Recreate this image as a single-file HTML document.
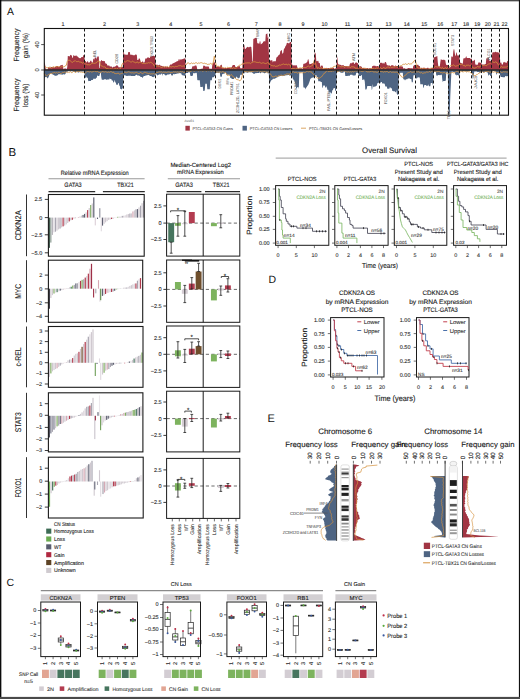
<!DOCTYPE html>
<html><head><meta charset="utf-8"><title>Figure</title>
<style>
html,body{margin:0;padding:0;background:#fff;width:520px;height:699px;overflow:hidden;}
svg{display:block;font-family:"Liberation Sans",sans-serif;text-rendering:geometricPrecision;}
</style></head><body>
<svg width="520" height="699" viewBox="0 0 520 699">
<rect width="520" height="699" fill="#fff"/>
<polygon points="44.3,70 44.3,62.31 44.8,62.81 45.3,65.97 45.8,68.93 46.3,69.49 46.8,69.49 47.3,69.49 47.8,69.04 48.3,67.24 48.8,67.24 49.3,66.96 49.8,68.22 50.3,68.22 50.8,67.06 51.3,67.06 51.8,67.06 52.3,66.96 52.8,66.8 53.3,67.07 53.8,67.55 54.3,67.38 54.8,67.21 55.3,67.1 55.8,67.01 56.3,65.96 56.8,66.19 57.3,66.1 57.8,66.07 58.3,66.8 58.8,66.68 59.3,66.57 59.8,66.45 60.3,65.51 60.8,65.35 61.3,65.18 61.8,65.02 62.3,64.86 62.8,65.17 63.3,68.49 63.8,69.62 64.3,68.46 64.8,68.46 65.3,68.46 65.8,68.46 66.3,68.46 66.8,69.73 67.3,66.68 67.8,56.01 68.3,56.11 68.8,56.22 69.3,56.32 69.8,56.42 70.3,54.69 70.8,54.93 71.3,55.18 71.8,55.43 72.3,57.78 72.8,58.01 73.3,55.49 73.8,55.09 74.3,56.04 74.8,55.69 75.3,55.65 75.8,55.8 76.3,55.15 76.8,56.29 77.3,56.45 77.8,56.6 78.3,57.35 78.8,57.75 79.3,57.98 79.8,58.2 80.3,58.16 80.8,57.93 81.3,57.16 81.8,56.91 82.3,56.93 82.8,57.22 83.3,54.95 83.8,55.3 84.3,55.65 84.8,61.12 85.3,61.12 85.8,61.25 86.3,62.7 86.8,62.09 87.3,61.17 87.8,61.17 88.3,63.17 88.8,61.67 89.3,62.14 89.8,62.67 90.3,60.78 90.8,60.78 91.3,60.78 91.8,62.44 92.3,62.44 92.8,62.44 93.3,58.68 93.8,58.68 94.3,59.64 94.8,57.44 95.3,57.44 95.8,57.44 96.3,57.44 96.8,59.41 97.3,56.6 97.8,56.6 98.3,56.6 98.8,56.6 99.3,68.06 99.8,68.06 100.3,61.2 100.8,61.36 101.3,60.09 101.8,60.26 102.3,60.94 102.8,61.11 103.3,61.31 103.8,60.86 104.3,61.04 104.8,61.23 105.3,63.31 105.8,63.47 106.3,63.64 106.8,63.81 107.3,65.51 107.8,65.51 108.3,65.51 108.8,65.51 109.3,65.51 109.8,66.4 110.3,66.4 110.8,66.4 111.3,66.4 111.8,66.4 112.3,67.71 112.8,67.16 113.3,66.68 113.8,66.68 114.3,66.68 114.8,66.75 115.3,66.34 115.8,66.34 116.3,65.86 116.8,65.05 117.3,65.21 117.8,66.1 118.3,66.48 118.8,67.43 119.3,67.13 119.8,67.18 120.3,67.23 120.8,67.28 121.3,67.33 121.8,66.84 122.3,66.85 122.8,67.14 123.3,51.74 123.8,51.74 124.3,54.58 124.8,54.58 125.3,54.58 125.8,54.75 126.3,54.75 126.8,54.75 127.3,54.75 127.8,54.75 128.3,52.1 128.8,52.1 129.3,52.1 129.8,52.1 130.3,54.76 130.8,54.76 131.3,54.76 131.8,54.76 132.3,54.76 132.8,55.34 133.3,55.34 133.8,55.34 134.3,55.34 134.8,55.34 135.3,54.4 135.8,54.4 136.3,54.68 136.8,54.68 137.3,60.1 137.8,60.1 138.3,60.1 138.8,58.49 139.3,58.49 139.8,58.49 140.3,60.15 140.8,61.99 141.3,61.99 141.8,61.99 142.3,61.99 142.8,60.39 143.3,62.56 143.8,62.56 144.3,62.56 144.8,61.5 145.3,58.5 145.8,58.5 146.3,58.5 146.8,58.5 147.3,57.57 147.8,57.57 148.3,57.57 148.8,57.57 149.3,58.1 149.8,58.1 150.3,56.45 150.8,56.45 151.3,56.45 151.8,56.02 152.3,56.02 152.8,55.79 153.3,55.79 153.8,55.79 154.3,56.09 154.8,56.09 155.3,59.51 155.8,64.63 156.3,64.68 156.8,64.73 157.3,64.57 157.8,65.2 158.3,65.25 158.8,65.31 159.3,64.66 159.8,64.71 160.3,65.61 160.8,65.74 161.3,65.87 161.8,66 162.3,66.14 162.8,66.27 163.3,66.42 163.8,66.57 164.3,66.72 164.8,66.45 165.3,66.48 165.8,66.43 166.3,66.38 166.8,66.64 167.3,66.59 167.8,66.97 168.3,66.93 168.8,66.88 169.3,66.83 169.8,65.09 170.3,64.8 170.8,64.35 171.3,64.68 171.8,64.25 172.3,63.81 172.8,63.46 173.3,63.03 173.8,63.15 174.3,62.79 174.8,62.43 175.3,62.18 175.8,62 176.3,61.62 176.8,61.42 177.3,61.23 177.8,61.04 178.3,60.85 178.8,59.04 179.3,58.95 179.8,60.85 180.3,59.02 180.8,59.63 181.3,59.49 181.8,59.34 182.3,59.2 182.8,59.06 183.3,58.78 183.8,58.63 184.3,58.47 184.8,58.32 185.3,58.17 185.8,69.36 186.3,69.36 186.8,69.36 187.3,69.36 187.8,69.59 188.3,69.59 188.8,69.59 189.3,69.59 189.8,69.01 190.3,69.01 190.8,69.01 191.3,69.01 191.8,68.61 192.3,66.51 192.8,66.37 193.3,66.37 193.8,66.37 194.3,66.37 194.8,65.52 195.3,65.52 195.8,65.52 196.3,65.52 196.8,66.68 197.3,69.68 197.8,69.68 198.3,69.68 198.8,69.56 199.3,69.52 199.8,69.52 200.3,69.52 200.8,68.78 201.3,68.78 201.8,68.78 202.3,68.78 202.8,68.55 203.3,65.42 203.8,65.74 204.3,65.74 204.8,65.74 205.3,66.44 205.8,66.44 206.3,66.44 206.8,66.38 207.3,66.38 207.8,66.47 208.3,67.02 208.8,66.06 209.3,68.7 209.8,68.8 210.3,68.8 210.8,68.8 211.3,68.7 211.8,69 212.3,65.11 212.8,64.01 213.3,62.9 213.8,61.8 214.3,61.82 214.8,62.72 215.3,64.55 215.8,66.3 216.3,66.45 216.8,66.48 217.3,66.48 217.8,66.48 218.3,66.48 218.8,66.48 219.3,67.02 219.8,67.02 220.3,65.24 220.8,65.24 221.3,65.24 221.8,64.2 222.3,67.79 222.8,67.79 223.3,67.79 223.8,67.79 224.3,67.79 224.8,68.02 225.3,68.02 225.8,68.02 226.3,68.02 226.8,68.02 227.3,68.1 227.8,68.1 228.3,68.1 228.8,68.1 229.3,68.1 229.8,67.3 230.3,67.3 230.8,67.8 231.3,67.48 231.8,67.08 232.3,66.04 232.8,64.95 233.3,64.95 233.8,64.99 234.3,64.99 234.8,64.99 235.3,66.78 235.8,67.09 236.3,67.09 236.8,67.09 237.3,66.85 237.8,66.15 238.3,66.15 238.8,66.15 239.3,66.15 239.8,65.95 240.3,68.15 240.8,68.15 241.3,68.16 241.8,68.16 242.3,68.16 242.8,57.68 243.3,46.61 243.8,46.35 244.3,44.57 244.8,48.64 245.3,48.69 245.8,48.92 246.3,47.49 246.8,47.74 247.3,46.81 247.8,47.07 248.3,47.22 248.8,47.29 249.3,47.36 249.8,46.69 250.3,46.77 250.8,46.85 251.3,46.93 251.8,52.36 252.3,61.53 252.8,61.53 253.3,38.89 253.8,38.77 254.3,38.65 254.8,38.1 255.3,37.98 255.8,37.87 256.3,37.91 256.8,38.05 257.3,43.22 257.8,43.35 258.3,43.47 258.8,43.6 259.3,43.72 259.8,41.36 260.3,41.19 260.8,44.38 261.3,44.05 261.8,43.71 262.3,43.31 262.8,42.87 263.3,41.75 263.8,41.3 264.3,41.19 264.8,41.3 265.3,41.41 265.8,34.14 266.3,33.99 266.8,33.66 267.3,33.31 267.8,38.35 268.3,36.49 268.8,51.78 269.3,62.03 269.8,62.01 270.3,60.38 270.8,60.35 271.3,60.28 271.8,60.25 272.3,60.22 272.8,62.47 273.3,61.37 273.8,61.37 274.3,61.37 274.8,61.37 275.3,61.35 275.8,61.35 276.3,57.68 276.8,57.25 277.3,56.83 277.8,56.41 278.3,55.54 278.8,55.09 279.3,54.64 279.8,54.19 280.3,51.14 280.8,50.74 281.3,50.35 281.8,49.96 282.3,53.81 282.8,53.49 283.3,52.86 283.8,49.45 284.3,48.5 284.8,48.1 285.3,46.58 285.8,45.77 286.3,44.96 286.8,43.03 287.3,42.8 287.8,42.99 288.3,43.17 288.8,43.36 289.3,43.18 289.8,42.26 290.3,41.96 290.8,42.08 291.3,42.19 291.8,64.59 292.3,64.51 292.8,65.5 293.3,65.42 293.8,65.34 294.3,65.26 294.8,65.6 295.3,65.56 295.8,65.21 296.3,65.18 296.8,65.16 297.3,67.16 297.8,68.5 298.3,68.99 298.8,68.03 299.3,68.03 299.8,68.56 300.3,68.34 300.8,68.34 301.3,68.34 301.8,68.34 302.3,68.77 302.8,68.77 303.3,63.88 303.8,63.78 304.3,63.68 304.8,63.43 305.3,63.33 305.8,63.22 306.3,62.85 306.8,62.29 307.3,61.73 307.8,59.69 308.3,59.08 308.8,61.03 309.3,63.93 309.8,64.16 310.3,64.02 310.8,63.88 311.3,63.75 311.8,63.61 312.3,63.27 312.8,63.27 313.3,63.27 313.8,63.27 314.3,60.13 314.8,51.87 315.3,52.88 315.8,53.89 316.3,61.02 316.8,61.18 317.3,61.18 317.8,60.8 318.3,60.8 318.8,62.93 319.3,62.93 319.8,62.93 320.3,66.63 320.8,66.63 321.3,65.58 321.8,65.58 322.3,65.58 322.8,66.17 323.3,68.69 323.8,68.69 324.3,68.3 324.8,68.3 325.3,68.3 325.8,67.95 326.3,67.95 326.8,67.95 327.3,68.55 327.8,67.96 328.3,67.96 328.8,67.96 329.3,68.25 329.8,68.25 330.3,67.43 330.8,67.94 331.3,67.94 331.8,67.94 332.3,67.73 332.8,67.73 333.3,67.73 333.8,67.73 334.3,68.81 334.8,68.81 335.3,68.81 335.8,68 336.3,66.85 336.8,60.45 337.3,55.96 337.8,62.41 338.3,64.31 338.8,64.47 339.3,64.55 339.8,64.63 340.3,64.73 340.8,65.1 341.3,65.52 341.8,65.14 342.3,65.29 342.8,65.29 343.3,65.29 343.8,65.29 344.3,66.21 344.8,65.97 345.3,65.97 345.8,65.97 346.3,65.97 346.8,65.97 347.3,66.18 347.8,66.18 348.3,66.18 348.8,66.18 349.3,66.18 349.8,64.21 350.3,62.72 350.8,63.62 351.3,63.5 351.8,62.76 352.3,62.64 352.8,62.53 353.3,62.41 353.8,62.29 354.3,64 354.8,63.9 355.3,62.6 355.8,62.69 356.3,62.07 356.8,62.9 357.3,63.03 357.8,63.16 358.3,64.07 358.8,67.45 359.3,66.3 359.8,66.3 360.3,66.3 360.8,66.3 361.3,66.78 361.8,66.78 362.3,67.96 362.8,67.96 363.3,67.96 363.8,67.96 364.3,68.14 364.8,68.29 365.3,68.29 365.8,68.29 366.3,68.29 366.8,68.29 367.3,68.06 367.8,68.06 368.3,69.12 368.8,68.13 369.3,68.13 369.8,68.13 370.3,68.13 370.8,68.13 371.3,68.48 371.8,68.52 372.3,65.96 372.8,65.96 373.3,65.87 373.8,65.87 374.3,65.87 374.8,65.87 375.3,65.87 375.8,66.32 376.3,66.32 376.8,66.32 377.3,66.04 377.8,66.04 378.3,66.5 378.8,66.5 379.3,64.96 379.8,63.43 380.3,62.86 380.8,62.86 381.3,62.86 381.8,62.86 382.3,63.66 382.8,62.7 383.3,62.7 383.8,63.71 384.3,63.71 384.8,62.3 385.3,62.05 385.8,62.06 386.3,63.05 386.8,64.96 387.3,64.96 387.8,65.47 388.3,65.47 388.8,65.47 389.3,65.47 389.8,65.47 390.3,65.9 390.8,65.9 391.3,65.14 391.8,65.14 392.3,65.14 392.8,65.14 393.3,65.14 393.8,66.24 394.3,66.24 394.8,66.24 395.3,65.43 395.8,65.43 396.3,66.06 396.8,66.06 397.3,66.06 397.8,66.06 398.3,66.06 398.8,66.65 399.3,66.65 399.8,66.26 400.3,66.26 400.8,66.26 401.3,66.26 401.8,66.56 402.3,66.56 402.8,66.56 403.3,68.79 403.8,68.24 404.3,68.24 404.8,68.24 405.3,68.85 405.8,68.85 406.3,68.85 406.8,68.85 407.3,68.85 407.8,68.07 408.3,68.07 408.8,68.07 409.3,68.07 409.8,68.27 410.3,68.27 410.8,68.27 411.3,68.26 411.8,68.26 412.3,68.26 412.8,68.77 413.3,65.76 413.8,65.76 414.3,64.9 414.8,64.9 415.3,64.9 415.8,64.9 416.3,64.9 416.8,64.97 417.3,64.78 417.8,64.78 418.3,64.78 418.8,66.08 419.3,66.08 419.8,66.08 420.3,68.52 420.8,68.52 421.3,67.77 421.8,67.77 422.3,67.77 422.8,68.68 423.3,67.79 423.8,67.79 424.3,67.79 424.8,67.79 425.3,68.13 425.8,68.13 426.3,68.13 426.8,68.13 427.3,67.8 427.8,67.8 428.3,67.8 428.8,68.54 429.3,68.54 429.8,68.54 430.3,68.54 430.8,68.54 431.3,68.07 431.8,68.07 432.3,68.07 432.8,68.07 433.3,65.09 433.8,57.21 434.3,57.21 434.8,57.21 435.3,56.72 435.8,56.72 436.3,56.72 436.8,56.01 437.3,56.01 437.8,62.13 438.3,66.12 438.8,66.6 439.3,66.44 439.8,66.28 440.3,62.52 440.8,59.14 441.3,59.14 441.8,60.11 442.3,60.11 442.8,59.79 443.3,59.79 443.8,59.79 444.3,59.86 444.8,60.36 445.3,60.36 445.8,63.55 446.3,64.94 446.8,64.94 447.3,64.94 447.8,64.94 448.3,66.07 448.8,67.89 449.3,67.52 449.8,67.23 450.3,66.95 450.8,67.26 451.3,56.47 451.8,56.47 452.3,56.47 452.8,57.58 453.3,51.26 453.8,49.02 454.3,49.49 454.8,53.15 455.3,55.77 455.8,55.77 456.3,52.58 456.8,52.58 457.3,55.49 457.8,55.49 458.3,55.49 458.8,55.49 459.3,54.84 459.8,61.01 460.3,63.06 460.8,62.74 461.3,63.19 461.8,63.19 462.3,63.19 462.8,64.29 463.3,58.7 463.8,58.34 464.3,58.34 464.8,58.34 465.3,58.34 465.8,57.11 466.3,55.96 466.8,57.94 467.3,57.94 467.8,57.94 468.3,58.08 468.8,58.08 469.3,58.08 469.8,58.08 470.3,58.86 470.8,58.86 471.3,58.41 471.8,59.17 472.3,60.77 472.8,61.18 473.3,60.7 473.8,60.7 474.3,59.83 474.8,59.83 475.3,64.61 475.8,64.61 476.3,64.67 476.8,64.67 477.3,64.6 477.8,65.09 478.3,62.54 478.8,62.54 479.3,62.54 479.8,62.54 480.3,62.6 480.8,63.08 481.3,63.08 481.8,64.53 482.3,64.53 482.8,64.47 483.3,64.47 483.8,64.47 484.3,64.47 484.8,64.47 485.3,64.03 485.8,64.03 486.3,58.4 486.8,58.37 487.3,58.37 487.8,58.37 488.3,58.37 488.8,57.42 489.3,60.79 489.8,60.79 490.3,60.79 490.8,60.79 491.3,62.07 491.8,59.89 492.3,52.6 492.8,52.6 493.3,52.15 493.8,52.15 494.3,52.15 494.8,52.15 495.3,51.74 495.8,51.74 496.3,52.29 496.8,52.29 497.3,52.29 497.8,52.28 498.3,52.28 498.8,53.37 499.3,51.48 499.8,54.38 500.3,63.09 500.8,62.54 501.3,62.54 501.8,64.54 502.3,64.54 502.8,64.54 503.3,62.18 503.8,62.18 504.3,61.75 504.8,62.5 505.3,62.5 505.8,62.5 506.3,62.84 506.8,62.84 507.3,60.9 507.8,60.9 508.3,60.9 508.5,70" fill="#a13543"/>
<polygon points="44.3,70 44.3,77.9 44.8,77.9 45.3,76.9 45.8,76.9 46.3,76.9 46.8,77.31 47.3,78 47.8,78.46 48.3,77.44 48.8,76.41 49.3,75.08 49.8,74.08 50.3,73.62 50.8,73.88 51.3,73.11 51.8,74 52.3,74.27 52.8,74.53 53.3,74.64 53.8,74.91 54.3,75.37 54.8,75.63 55.3,75.63 55.8,75.72 56.3,75.7 56.8,75.53 57.3,75.37 57.8,75.2 58.3,74.31 58.8,74.37 59.3,74.23 59.8,74.29 60.3,74.36 60.8,74.43 61.3,74.53 61.8,74.58 62.3,74.63 62.8,74.47 63.3,74.31 63.8,74.14 64.3,74.56 64.8,74.4 65.3,73.91 65.8,73.14 66.3,72.38 66.8,72.07 67.3,72.07 67.8,71.15 68.3,70.93 68.8,70.93 69.3,71.13 69.8,71.13 70.3,71.15 70.8,71.2 71.3,71.24 71.8,71.32 72.3,71.37 72.8,71.42 73.3,71.48 73.8,71.89 74.3,71.94 74.8,71.98 75.3,71.99 75.8,71.97 76.3,71.77 76.8,71.75 77.3,71.73 77.8,72.42 78.3,72.4 78.8,72.38 79.3,72.36 79.8,71.55 80.3,71.58 80.8,71.41 81.3,71.47 81.8,71.53 82.3,71.59 82.8,71.39 83.3,71.44 83.8,71.49 84.3,71.54 84.8,76.65 85.3,77.74 85.8,77.74 86.3,77.74 86.8,76.29 87.3,78.11 87.8,78.11 88.3,81.34 88.8,81.05 89.3,81.05 89.8,81.05 90.3,81.05 90.8,81.05 91.3,80.04 91.8,80.04 92.3,80.04 92.8,80.04 93.3,79.07 93.8,78.38 94.3,78.65 94.8,78.65 95.3,78.65 95.8,78.65 96.3,77.74 96.8,77.74 97.3,74.93 97.8,76.05 98.3,76.05 98.8,76.05 99.3,76.05 99.8,74.27 100.3,72.71 100.8,72.71 101.3,77.4 101.8,79.73 102.3,79.73 102.8,79.73 103.3,79.73 103.8,79.73 104.3,79.21 104.8,79.21 105.3,79.21 105.8,79.21 106.3,79.72 106.8,79.72 107.3,79.72 107.8,79.28 108.3,79.57 108.8,79.57 109.3,79.57 109.8,78.24 110.3,79.11 110.8,79.11 111.3,79.11 111.8,80.49 112.3,80.49 112.8,80.49 113.3,82.57 113.8,82.57 114.3,81.58 114.8,79.76 115.3,82.51 115.8,82.51 116.3,84.78 116.8,84.78 117.3,84.78 117.8,84.78 118.3,83.1 118.8,83.1 119.3,85.78 119.8,85.78 120.3,88.93 120.8,88.93 121.3,88.93 121.8,89.68 122.3,88 122.8,89.07 123.3,75.63 123.8,75.48 124.3,75.33 124.8,75.18 125.3,75.16 125.8,75.85 126.3,75.7 126.8,76.03 127.3,75.88 127.8,75.72 128.3,75.72 128.8,75.82 129.3,75.63 129.8,75.73 130.3,75.69 130.8,75.79 131.3,75.9 131.8,76 132.3,76.1 132.8,76 133.3,76.04 133.8,76.04 134.3,76.04 134.8,76.04 135.3,75.32 135.8,75.5 136.3,74.84 136.8,74.84 137.3,75.38 137.8,75.38 138.3,75.43 138.8,75.52 139.3,75.85 139.8,75.94 140.3,76.75 140.8,76.85 141.3,76.94 141.8,77.04 142.3,77.67 142.8,77.77 143.3,76.39 143.8,76.24 144.3,76.1 144.8,75.96 145.3,75.82 145.8,75.57 146.3,75.44 146.8,75.3 147.3,75.19 147.8,75.06 148.3,75.04 148.8,75.09 149.3,75.15 149.8,75.97 150.3,76.04 150.8,76.1 151.3,76.17 151.8,76.23 152.3,76.93 152.8,77.1 153.3,77.28 153.8,76.8 154.3,76.97 154.8,75.64 155.3,75.3 155.8,73.9 156.3,73.8 156.8,75.07 157.3,74.95 157.8,75.64 158.3,74.81 158.8,74.69 159.3,74.57 159.8,74.34 160.3,74.49 160.8,74.66 161.3,73.62 161.8,73.75 162.3,75.89 162.8,73.74 163.3,73.88 163.8,74.01 164.3,74.14 164.8,74.85 165.3,75.48 165.8,75.37 166.3,75.26 166.8,75.15 167.3,74.61 167.8,74.6 168.3,74.5 168.8,74.39 169.3,74.29 169.8,74.19 170.3,73.73 170.8,73.78 171.3,75.36 171.8,75.41 172.3,75.47 172.8,75.52 173.3,74.07 173.8,74.11 174.3,74.16 174.8,74.2 175.3,74.04 175.8,73.96 176.3,73.87 176.8,73.66 177.3,73.57 177.8,73.48 178.3,73.39 178.8,73.3 179.3,73.18 179.8,73.09 180.3,73.28 180.8,73.37 181.3,73.45 181.8,75.11 182.3,75.21 182.8,75.3 183.3,75.4 183.8,75.56 184.3,75.66 184.8,75.76 185.3,75.86 185.8,73.08 186.3,73.08 186.8,73.08 187.3,73.08 187.8,73.08 188.3,72.29 188.8,72.29 189.3,72.29 189.8,72.29 190.3,75.62 190.8,76.01 191.3,76.01 191.8,76.01 192.3,75.77 192.8,75.77 193.3,72.98 193.8,72.98 194.3,73.33 194.8,73.33 195.3,73.33 195.8,72.82 196.3,72.82 196.8,73.37 197.3,80.08 197.8,80.14 198.3,80.14 198.8,80.14 199.3,80.14 199.8,80.14 200.3,87.08 200.8,87.08 201.3,87.08 201.8,87.08 202.3,86.84 202.8,86.84 203.3,91 203.8,91 204.3,91 204.8,90.02 205.3,83.71 205.8,83.71 206.3,83.71 206.8,83.71 207.3,89.32 207.8,89.32 208.3,89.16 208.8,89.16 209.3,89.16 209.8,89.16 210.3,80.18 210.8,80.15 211.3,80.15 211.8,80.15 212.3,77.23 212.8,77.23 213.3,77.23 213.8,77.23 214.3,76.3 214.8,76.3 215.3,75.5 215.8,73.11 216.3,73.11 216.8,72.76 217.3,72.76 217.8,72.76 218.3,72.76 218.8,73.19 219.3,72.4 219.8,72.4 220.3,76.59 220.8,76.77 221.3,76.77 221.8,76.77 222.3,73.94 222.8,73.94 223.3,73.94 223.8,73.38 224.3,73.38 224.8,73.38 225.3,72.61 225.8,72.61 226.3,74.48 226.8,74.63 227.3,74.63 227.8,74.63 228.3,74.63 228.8,74.63 229.3,74.68 229.8,74.68 230.3,77.98 230.8,77.98 231.3,77.98 231.8,78.92 232.3,78.92 232.8,78.92 233.3,78.92 233.8,78.92 234.3,78.01 234.8,78.01 235.3,78.01 235.8,78.01 236.3,76.15 236.8,77.36 237.3,77.36 237.8,78.15 238.3,78.15 238.8,78.15 239.3,78.07 239.8,77.34 240.3,74.85 240.8,74.85 241.3,74.85 241.8,74.85 242.3,75.3 242.8,74.64 243.3,73.28 243.8,73.24 244.3,73.54 244.8,72.29 245.3,72.26 245.8,72.22 246.3,72.19 246.8,72.87 247.3,72.83 247.8,72.79 248.3,72.27 248.8,72.24 249.3,72.2 249.8,72.17 250.3,72.14 250.8,72.19 251.3,72.17 251.8,72.21 252.3,73.32 252.8,72.53 253.3,73.67 253.8,73.73 254.3,73.78 254.8,73.84 255.3,73.14 255.8,73.09 256.3,73.03 256.8,73.13 257.3,73.09 257.8,73.04 258.3,72.99 258.8,72.95 259.3,72.46 259.8,72.42 260.3,73.23 260.8,73.28 261.3,72.33 261.8,72.37 262.3,72.42 262.8,72.46 263.3,72.82 263.8,72.87 264.3,73.45 264.8,73.11 265.3,73.07 265.8,73.07 266.3,72.26 266.8,72.26 267.3,72.26 267.8,73.38 268.3,73.13 268.8,73.13 269.3,84.7 269.8,82.95 270.3,82.36 270.8,81.07 271.3,80.31 271.8,79.89 272.3,79.7 272.8,78.89 273.3,78.74 273.8,78.72 274.3,78.7 274.8,78.69 275.3,78.17 275.8,78.16 276.3,77.81 276.8,77.46 277.3,77.26 277.8,76.95 278.3,76.63 278.8,76.3 279.3,76.19 279.8,75.77 280.3,76.02 280.8,75.93 281.3,75.85 281.8,75.77 282.3,75.68 282.8,76.07 283.3,75.96 283.8,75.85 284.3,75.74 284.8,75.63 285.3,75.34 285.8,75.23 286.3,75.19 286.8,75.2 287.3,75.21 287.8,74.97 288.3,74.98 288.8,74.99 289.3,75.39 289.8,75.4 290.3,75.41 290.8,75.42 291.3,75.83 291.8,75.78 292.3,76.63 292.8,78.44 293.3,79.28 293.8,80.13 294.3,80.47 294.8,82.14 295.3,83.82 295.8,86.9 296.3,88.31 296.8,88.81 297.3,87.09 297.8,86.99 298.3,86.89 298.8,89.02 299.3,72.26 299.8,72.14 300.3,72.14 300.8,72.57 301.3,71.97 301.8,71.93 302.3,71.93 302.8,71.93 303.3,86.45 303.8,87.87 304.3,87.92 304.8,86.93 305.3,89.55 305.8,88.31 306.3,87.54 306.8,87.1 307.3,85.92 307.8,85.49 308.3,84.68 308.8,83.62 309.3,82.26 309.8,80.75 310.3,79.03 310.8,78.61 311.3,78.18 311.8,77.75 312.3,77.32 312.8,77.92 313.3,77.59 313.8,77.34 314.3,77.08 314.8,75.84 315.3,75.84 315.8,75.11 316.3,75.11 316.8,76.96 317.3,76.96 317.8,76.96 318.3,81.2 318.8,81.2 319.3,81.2 319.8,81.2 320.3,81.2 320.8,82.06 321.3,82.06 321.8,82.06 322.3,87.87 322.8,87.87 323.3,85.56 323.8,85.56 324.3,85.56 324.8,85.56 325.3,87.58 325.8,87.58 326.3,87.58 326.8,85.82 327.3,89.64 327.8,89.64 328.3,89.64 328.8,92.61 329.3,92.61 329.8,92.61 330.3,92.61 330.8,92.61 331.3,93.43 331.8,93.43 332.3,90.17 332.8,90.17 333.3,88.9 333.8,88.11 334.3,88.11 334.8,88.11 335.3,91.12 335.8,91.12 336.3,87.98 336.8,72.3 337.3,72.3 337.8,71.68 338.3,71.68 338.8,71.68 339.3,71.68 339.8,71.68 340.3,72.53 340.8,72.53 341.3,72.67 341.8,72.83 342.3,72.83 342.8,72.83 343.3,72.83 343.8,71.43 344.3,71.43 344.8,71.43 345.3,76.11 345.8,76.11 346.3,76.11 346.8,76.11 347.3,76.11 347.8,75.84 348.3,75.84 348.8,75.84 349.3,75.84 349.8,75.84 350.3,74.75 350.8,74.75 351.3,74.75 351.8,74.75 352.3,74.75 352.8,75.47 353.3,75.47 353.8,75.47 354.3,75.4 354.8,75.4 355.3,75.4 355.8,74.81 356.3,72.66 356.8,72.66 357.3,72.66 357.8,72.66 358.3,73.45 358.8,76.12 359.3,76.12 359.8,76.12 360.3,76.12 360.8,76.12 361.3,74.88 361.8,74.88 362.3,80.11 362.8,80.11 363.3,79.44 363.8,79.44 364.3,79.44 364.8,81.67 365.3,89.44 365.8,89.44 366.3,89.44 366.8,88.48 367.3,85.9 367.8,85.9 368.3,85.9 368.8,85.9 369.3,86.11 369.8,86.11 370.3,86.11 370.8,86.11 371.3,86.11 371.8,90.35 372.3,88.64 372.8,83.96 373.3,87.15 373.8,86.97 374.3,86.8 374.8,86.62 375.3,86.54 375.8,86.37 376.3,85.96 376.8,85.41 377.3,83.49 377.8,82.99 378.3,82.79 378.8,82.79 379.3,82.79 379.8,83.14 380.3,83.14 380.8,82.09 381.3,82.09 381.8,82.09 382.3,83.4 382.8,83.4 383.3,83.4 383.8,83.4 384.3,83.4 384.8,84.21 385.3,86.56 385.8,86.56 386.3,86.56 386.8,86.56 387.3,88.71 387.8,88.71 388.3,88.71 388.8,88.71 389.3,88.71 389.8,87.25 390.3,87.25 390.8,88.16 391.3,88.16 391.8,88.16 392.3,91.11 392.8,91.11 393.3,91.23 393.8,91.23 394.3,91.23 394.8,91.23 395.3,92.15 395.8,92.15 396.3,90.01 396.8,93.71 397.3,94.76 397.8,94.76 398.3,94.76 398.8,72.94 399.3,73.98 399.8,73.98 400.3,72.78 400.8,72.78 401.3,72.78 401.8,72.78 402.3,72.87 402.8,72.87 403.3,79.3 403.8,79.3 404.3,79.23 404.8,80.35 405.3,80.35 405.8,79.32 406.3,79.32 406.8,79.32 407.3,79.32 407.8,78.48 408.3,78.48 408.8,78.48 409.3,78.48 409.8,78.48 410.3,78.95 410.8,78.95 411.3,78.95 411.8,82.23 412.3,82.23 412.8,82.23 413.3,76.38 413.8,75.03 414.3,75.03 414.8,75.62 415.3,75.55 415.8,77.3 416.3,78.47 416.8,78.47 417.3,77.88 417.8,77.3 418.3,77.3 418.8,77.46 419.3,77.46 419.8,77.46 420.3,84.16 420.8,84.17 421.3,84.17 421.8,84.17 422.3,84.17 422.8,84.17 423.3,87.64 423.8,87.64 424.3,84.94 424.8,84.94 425.3,84.94 425.8,84.94 426.3,85.65 426.8,85.65 427.3,85.65 427.8,85.65 428.3,84.14 428.8,86.03 429.3,86.35 429.8,86.35 430.3,86.35 430.8,83.06 431.3,83.06 431.8,83.06 432.3,83.06 432.8,85.38 433.3,81.93 433.8,71.57 434.3,72.06 434.8,72.06 435.3,72.06 435.8,71.77 436.3,75.38 436.8,75.38 437.3,75.38 437.8,75.38 438.3,74.97 438.8,74.97 439.3,74.97 439.8,75.18 440.3,75.18 440.8,74.66 441.3,74.66 441.8,74.66 442.3,79.83 442.8,82.14 443.3,81.1 443.8,81.1 444.3,81.1 444.8,81.1 445.3,81.1 445.8,80.33 446.3,72.2 446.8,72.34 447.3,72.49 447.8,72.22 448.3,103.48 448.8,113.4 449.3,115.33 449.8,110.88 450.3,96.04 450.8,84.91 451.3,73.68 451.8,71.43 452.3,71.43 452.8,72.1 453.3,72.1 453.8,72.1 454.3,72.1 454.8,72.1 455.3,74.84 455.8,74.84 456.3,74.84 456.8,75.85 457.3,74.98 457.8,74.98 458.3,74.98 458.8,76.37 459.3,77.38 459.8,72.05 460.3,70.99 460.8,70.62 461.3,70.62 461.8,71.7 462.3,71.7 462.8,71.7 463.3,71.05 463.8,71.05 464.3,71.05 464.8,71.05 465.3,71.05 465.8,71.53 466.3,71.53 466.8,71.53 467.3,71.53 467.8,71.18 468.3,71.18 468.8,71.18 469.3,71.04 469.8,71.04 470.3,71.04 470.8,71.08 471.3,71.08 471.8,71.15 472.3,75.28 472.8,79.12 473.3,78.3 473.8,74.43 474.3,71.58 474.8,71.58 475.3,71.56 475.8,71.56 476.3,71.56 476.8,71.56 477.3,72.01 477.8,72.01 478.3,72.01 478.8,72.01 479.3,72.6 479.8,72.6 480.3,72.6 480.8,72.6 481.3,71.92 481.8,72.12 482.3,72.12 482.8,72.12 483.3,72.26 483.8,72.15 484.3,72.15 484.8,72.15 485.3,71.96 485.8,71.96 486.3,71.96 486.8,72.34 487.3,72.34 487.8,72.9 488.3,75.41 488.8,75.41 489.3,74.62 489.8,74.62 490.3,76.11 490.8,76.11 491.3,76.11 491.8,74.78 492.3,71.52 492.8,70.97 493.3,70.97 493.8,70.97 494.3,70.97 494.8,71.47 495.3,71.47 495.8,71.47 496.3,74.42 496.8,74.42 497.3,73.04 497.8,73.04 498.3,73.15 498.8,73.15 499.3,73.15 499.8,73.77 500.3,75.63 500.8,76.89 501.3,76.89 501.8,76.89 502.3,76.89 502.8,77.27 503.3,77.27 503.8,77.27 504.3,77.27 504.8,77.27 505.3,76.08 505.8,76.08 506.3,76.28 506.8,76.28 507.3,76.28 507.8,75.9 508.3,75.9 508.5,70" fill="#4e6482"/>
<polyline points="44.3,66.55 45.3,66.76 46.3,67.59 47.3,67.71 48.3,67.95 49.3,67.28 50.3,67.14 51.3,68.06 52.3,68.02 53.3,66.65 54.3,67.31 55.3,66.62 56.3,66.97 57.3,66.58 58.3,66.88 59.3,66.61 60.3,67.2 61.3,66.81 62.3,66.69 63.3,66.79 64.3,66.65 65.3,65.85 66.3,65.33 67.3,61.42 68.3,60.3 69.3,59.97 70.3,60.97 71.3,61.78 72.3,62.44 73.3,61.52 74.3,61.11 75.3,60.62 76.3,61.61 77.3,61.7 78.3,61.02 79.3,62.05 80.3,62.05 81.3,62.08 82.3,63.27 83.3,62.56 84.3,62.89 85.3,63.84 86.3,64.16 87.3,64.74 88.3,64.66 89.3,64.91 90.3,64.66 91.3,63.69 92.3,63.33 93.3,63.21 94.3,63.43 95.3,63.15 96.3,63.01 97.3,61.52 98.3,61.08 99.3,61.08 100.3,64.66 101.3,66.03 102.3,66.14 103.3,66.98 104.3,66.77 105.3,67.1 106.3,68.75 107.3,68.44 108.3,68.79 109.3,69.15 110.3,68.74 111.3,69 112.3,69 113.3,69.46 114.3,69.02 115.3,68.43 116.3,69.41 117.3,68.31 118.3,69.64 119.3,69.27 120.3,68.7 121.3,66.54 122.3,63.86 123.3,62.6 124.3,61.7 125.3,62.08 126.3,61.25 127.3,60.66 128.3,60.87 129.3,61.03 130.3,61.85 131.3,62.08 132.3,61.17 133.3,61.76 134.3,62.11 135.3,62.77 136.3,62.58 137.3,61.71 138.3,63.06 139.3,62.53 140.3,61.98 141.3,62.52 142.3,63.42 143.3,63.5 144.3,63.52 145.3,63.67 146.3,63.12 147.3,63.21 148.3,62.63 149.3,62.97 150.3,62.36 151.3,62.58 152.3,63.29 153.3,64.13 154.3,66 155.3,66.48 156.3,66.19 157.3,65.83 158.3,66.56 159.3,66.16 160.3,66.92 161.3,67.55 162.3,67.3 163.3,66.47 164.3,67.45 165.3,66.62 166.3,67.42 167.3,66.45 168.3,67.33 169.3,66.83 170.3,66.67 171.3,67 172.3,66.58 173.3,66.58 174.3,67.04 175.3,66.4 176.3,66.58 177.3,66.47 178.3,65.85 179.3,65.72 180.3,65.6 181.3,66.05 182.3,66.22 183.3,65.89 184.3,66.55 185.3,65.14 186.3,64.74 187.3,63.11 188.3,62.6 189.3,63.87 190.3,63.87 191.3,62.79 192.3,63.62 193.3,63.15 194.3,63.55 195.3,62.94 196.3,62.68 197.3,63.6 198.3,62.96 199.3,63.26 200.3,62.81 201.3,62.65 202.3,63.06 203.3,63.51 204.3,63.14 205.3,63.59 206.3,63.65 207.3,64.45 208.3,64.25 209.3,64.3 210.3,63.35 211.3,63.8 212.3,64.63 213.3,62.23 214.3,56.24 215.3,61.19 216.3,65.89 217.3,66.42 218.3,65.96 219.3,67 220.3,66.76 221.3,66.82 222.3,68.05 223.3,67.89 224.3,68.32 225.3,67.59 226.3,68.37 227.3,67.38 228.3,67.56 229.3,67.47 230.3,68.36 231.3,67.78 232.3,68.5 233.3,67.6 234.3,68.13 235.3,68.28 236.3,67.97 237.3,67.06 238.3,66.17 239.3,65.28 240.3,65.45 241.3,64.29 242.3,64.21 243.3,63.57 244.3,63.46 245.3,63.02 246.3,63.04 247.3,62.9 248.3,62.94 249.3,62.8 250.3,63.65 251.3,62.77 252.3,62.47 253.3,61.87 254.3,61.78 255.3,61.89 256.3,62.35 257.3,62.38 258.3,62.64 259.3,62.15 260.3,62.78 261.3,63.34 262.3,62.97 263.3,62.77 264.3,63.18 265.3,63.58 266.3,63.45 267.3,62.54 268.3,62.72 269.3,64.56 270.3,64.55 271.3,65.58 272.3,65.63 273.3,65.97 274.3,65.64 275.3,66.44 276.3,66.23 277.3,66.1 278.3,65.98 279.3,64.86 280.3,65.24 281.3,64.78 282.3,64.48 283.3,63.9 284.3,64.45 285.3,64.54 286.3,63.93 287.3,65.13 288.3,64.19 289.3,64.65 290.3,65.1 291.3,68.23 292.3,68.48 293.3,68.52 294.3,68.58 295.3,69.14 296.3,69.07 297.3,67.92 298.3,68.5 299.3,68.08 300.3,67.86 301.3,68.2 302.3,67.63 303.3,67.42 304.3,67.35 305.3,67.61 306.3,67.33 307.3,66.54 308.3,65.94 309.3,66.9 310.3,66.5 311.3,65.94 312.3,65.7 313.3,63.14 314.3,60.41 315.3,62.68 316.3,65.71 317.3,68.4 318.3,67.61 319.3,68.46 320.3,68.11 321.3,67.76 322.3,68.39 323.3,68.67 324.3,68.35 325.3,68.51 326.3,68.08 327.3,69.38 328.3,69.29 329.3,68.6 330.3,68.49 331.3,67.95 332.3,68.42 333.3,66.74 334.3,66.4 335.3,66.23 336.3,66.08 337.3,65.99 338.3,65.72 339.3,65.93 340.3,66.65 341.3,66.84 342.3,66.7 343.3,66.32 344.3,67.61 345.3,66.79 346.3,66.52 347.3,66.99 348.3,66.99 349.3,66.93 350.3,67.66 351.3,66.8 352.3,66.77 353.3,66.86 354.3,66.9 355.3,68.23 356.3,68.22 357.3,68.22 358.3,67.81 359.3,67.64 360.3,67.76 361.3,67.81 362.3,69.05 363.3,68.26 364.3,68.28 365.3,68.06 366.3,69.09 367.3,69.2 368.3,69.01 369.3,69.4 370.3,69.64 371.3,68.31 372.3,68.55 373.3,68.17 374.3,69.07 375.3,68.65 376.3,68 377.3,68.27 378.3,67.75 379.3,67.41 380.3,67.34 381.3,68.41 382.3,68.62 383.3,67.51 384.3,67.85 385.3,68.41 386.3,67.88 387.3,67.15 388.3,66.95 389.3,67.81 390.3,66.77 391.3,67.45 392.3,67.28 393.3,67.12 394.3,67.19 395.3,66.73 396.3,66.9 397.3,67.39 398.3,67.06 399.3,66.41 400.3,65.85 401.3,65.74 402.3,64.86 403.3,64.28 404.3,64.48 405.3,63.68 406.3,64.32 407.3,64.54 408.3,63.41 409.3,64.07 410.3,63.95 411.3,63.95 412.3,63.19 413.3,62.07 414.3,60.7 415.3,60.01 416.3,64.45 417.3,67.61 418.3,67.98 419.3,68.08 420.3,67.91 421.3,69.17 422.3,68.89 423.3,68.28 424.3,68.79 425.3,68.46 426.3,69.4 427.3,69.38 428.3,69.25 429.3,69.05 430.3,68.4 431.3,68.12 432.3,68.34 433.3,67.22 434.3,67.41 435.3,66.62 436.3,66.75 437.3,67.18 438.3,66.59 439.3,67.15 440.3,67.57 441.3,68.27 442.3,67.34 443.3,68.62 444.3,68.56 445.3,67.42 446.3,68.56 447.3,67.66 448.3,67.38 449.3,66.71 450.3,65.79 451.3,65.58 452.3,65.6 453.3,64.84 454.3,65.47 455.3,66.24 456.3,66 457.3,65.76 458.3,65.55 459.3,64.45 460.3,64.68 461.3,64.26 462.3,64.46 463.3,65.7 464.3,65.24 465.3,66.52 466.3,65.19 467.3,65.26 468.3,65.06 469.3,65.82 470.3,65.18 471.3,65.81 472.3,66.86 473.3,68.09 474.3,68.23 475.3,67.91 476.3,67.58 477.3,66.56 478.3,66.74 479.3,67.32 480.3,66.03 481.3,66.03 482.3,65.57 483.3,65.57 484.3,65.22 485.3,65.3 486.3,65.84 487.3,64.76 488.3,64.14 489.3,63.84 490.3,63.59 491.3,62.55 492.3,61.79 493.3,62.21 494.3,62.6 495.3,61.88 496.3,61.96 497.3,63.22 498.3,64.81 499.3,65.73 500.3,67.59 501.3,66.56 502.3,67.25 503.3,67.15 504.3,67.13 505.3,67.1 506.3,67.1 507.3,66.33 508.3,66.74" fill="none" stroke="#d4903c" stroke-width="0.85" stroke-linejoin="round"/>
<polyline points="44.3,73.59 45.3,74.88 46.3,75.87 47.3,75.41 48.3,74.57 49.3,74.27 50.3,73.45 51.3,73.68 52.3,73.01 53.3,72.92 54.3,72.36 55.3,73.08 56.3,72.49 57.3,73.24 58.3,72.4 59.3,72.4 60.3,73.42 61.3,73.48 62.3,72.5 63.3,72.69 64.3,71.91 65.3,72.81 66.3,71.59 67.3,72.57 68.3,72.09 69.3,72.62 70.3,71.4 71.3,72.66 72.3,72.58 73.3,71.37 74.3,71.35 75.3,72.64 76.3,71.89 77.3,71.52 78.3,71.39 79.3,71.52 80.3,72.06 81.3,71.94 82.3,72.32 83.3,72.32 84.3,72.42 85.3,73.1 86.3,72.17 87.3,71.53 88.3,71.59 89.3,72.1 90.3,71.3 91.3,72.02 92.3,71.93 93.3,71.48 94.3,70.91 95.3,71.38 96.3,71.85 97.3,70.97 98.3,72.18 99.3,72.54 100.3,72.32 101.3,72.25 102.3,71.47 103.3,71.75 104.3,72.12 105.3,71.68 106.3,72.03 107.3,72.44 108.3,71.92 109.3,72.42 110.3,71.72 111.3,71.65 112.3,72.6 113.3,71.87 114.3,73.31 115.3,73.55 116.3,73.66 117.3,73.46 118.3,72.94 119.3,74.2 120.3,73.91 121.3,73.33 122.3,73.38 123.3,72.58 124.3,72.25 125.3,71.98 126.3,72.97 127.3,72.34 128.3,71.8 129.3,72.03 130.3,72.57 131.3,72.94 132.3,72.69 133.3,72.98 134.3,73 135.3,72.69 136.3,72.36 137.3,72.86 138.3,73.45 139.3,73.65 140.3,72.33 141.3,72.89 142.3,73.65 143.3,73.16 144.3,72.39 145.3,72.36 146.3,72.91 147.3,72.76 148.3,73.99 149.3,73.2 150.3,74.02 151.3,73.72 152.3,73.99 153.3,73.48 154.3,74.27 155.3,73.33 156.3,72.63 157.3,72.58 158.3,72.16 159.3,71.9 160.3,72.12 161.3,71.66 162.3,72.63 163.3,71.99 164.3,72.25 165.3,72.17 166.3,72.55 167.3,72.22 168.3,71.96 169.3,72.09 170.3,72.59 171.3,72.37 172.3,72.61 173.3,71.74 174.3,72.08 175.3,71.87 176.3,72.28 177.3,71.78 178.3,72.19 179.3,72.19 180.3,71.3 181.3,71.97 182.3,71.46 183.3,72.34 184.3,72.42 185.3,71.91 186.3,71.26 187.3,71.23 188.3,70.86 189.3,71 190.3,71.49 191.3,71.1 192.3,70.38 193.3,70.75 194.3,71.19 195.3,70.39 196.3,70.5 197.3,70.34 198.3,71.05 199.3,70.37 200.3,70.69 201.3,70.37 202.3,71.12 203.3,70.86 204.3,70.36 205.3,70.57 206.3,71.19 207.3,70.44 208.3,70.79 209.3,70.38 210.3,70.4 211.3,71.5 212.3,70.51 213.3,70.74 214.3,71.23 215.3,71.1 216.3,72.03 217.3,71.97 218.3,72.28 219.3,71.98 220.3,71.82 221.3,72.38 222.3,71.66 223.3,71.87 224.3,72.59 225.3,72.32 226.3,73.49 227.3,75.44 228.3,75.11 229.3,75.44 230.3,75.6 231.3,74.48 232.3,75.73 233.3,76.94 234.3,77.52 235.3,78.26 236.3,79.31 237.3,79.7 238.3,79.66 239.3,80.77 240.3,80.51 241.3,79.31 242.3,75.51 243.3,71.64 244.3,71.59 245.3,71.65 246.3,71.38 247.3,71.8 248.3,71.94 249.3,71.14 250.3,71.68 251.3,71.52 252.3,71.57 253.3,71.38 254.3,70.97 255.3,70.89 256.3,70.95 257.3,71.52 258.3,70.54 259.3,70.98 260.3,71.37 261.3,72.04 262.3,71.14 263.3,71.89 264.3,71.02 265.3,72.27 266.3,71.81 267.3,72.55 268.3,71.57 269.3,72.67 270.3,73.63 271.3,75.35 272.3,76.87 273.3,76.79 274.3,76.98 275.3,75.93 276.3,76.14 277.3,76.72 278.3,75.66 279.3,75.85 280.3,75.32 281.3,75.08 282.3,75.59 283.3,75.45 284.3,74.86 285.3,74.89 286.3,74.12 287.3,73.99 288.3,73.94 289.3,74.83 290.3,73.09 291.3,72.14 292.3,72.32 293.3,71.53 294.3,72.65 295.3,72.45 296.3,72.24 297.3,73.27 298.3,72.6 299.3,72.82 300.3,72.8 301.3,72.52 302.3,73.18 303.3,72.05 304.3,72.64 305.3,72.44 306.3,71.78 307.3,71.14 308.3,71.93 309.3,71.55 310.3,71.88 311.3,71.71 312.3,73.2 313.3,74.27 314.3,75.11 315.3,76.16 316.3,77.16 317.3,78.07 318.3,77.93 319.3,78.3 320.3,77.55 321.3,77.06 322.3,75.87 323.3,74.47 324.3,73.1 325.3,72.73 326.3,71.16 327.3,70.56 328.3,71.66 329.3,71.4 330.3,71.12 331.3,71.61 332.3,70.68 333.3,71.42 334.3,70.36 335.3,70.38 336.3,70.39 337.3,71.67 338.3,71.63 339.3,70.57 340.3,70.65 341.3,71.57 342.3,71.07 343.3,70.3 344.3,70.95 345.3,71.22 346.3,71.78 347.3,72.15 348.3,71.66 349.3,72.26 350.3,71.61 351.3,72.28 352.3,71.35 353.3,72.1 354.3,71.33 355.3,70.76 356.3,71.3 357.3,70.73 358.3,71.1 359.3,70.86 360.3,70.84 361.3,71.34 362.3,71.32 363.3,71.17 364.3,70.59 365.3,70.66 366.3,71.43 367.3,71.85 368.3,71.76 369.3,71.9 370.3,71.57 371.3,71.22 372.3,70.85 373.3,72.06 374.3,71.97 375.3,71.84 376.3,72.14 377.3,72.4 378.3,71.52 379.3,71.35 380.3,71.43 381.3,71.67 382.3,71.59 383.3,72.23 384.3,71.59 385.3,71.91 386.3,71.6 387.3,71.33 388.3,72.52 389.3,72.17 390.3,71.42 391.3,72.33 392.3,72.18 393.3,72.07 394.3,72.22 395.3,72.25 396.3,72.01 397.3,72.42 398.3,73.05 399.3,74.49 400.3,74.85 401.3,76.57 402.3,77.32 403.3,76.85 404.3,75.84 405.3,75.52 406.3,74.16 407.3,73.22 408.3,72.74 409.3,72.56 410.3,71.42 411.3,72.12 412.3,72.32 413.3,72.09 414.3,71.85 415.3,72.48 416.3,71.82 417.3,72.04 418.3,71.68 419.3,72.2 420.3,72.99 421.3,72.31 422.3,73.34 423.3,73.16 424.3,72.83 425.3,72.92 426.3,72.05 427.3,72.03 428.3,72.39 429.3,71.32 430.3,72.34 431.3,71.72 432.3,70.95 433.3,70.86 434.3,71.19 435.3,71.04 436.3,71.8 437.3,71.59 438.3,71.4 439.3,71.39 440.3,72.57 441.3,72.5 442.3,72.98 443.3,72.73 444.3,72.21 445.3,73.36 446.3,72.78 447.3,73.63 448.3,72.76 449.3,73.54 450.3,73.19 451.3,72.61 452.3,72.43 453.3,72.85 454.3,72.77 455.3,72.25 456.3,71.44 457.3,71.37 458.3,71.95 459.3,72.08 460.3,71.92 461.3,71.33 462.3,71.71 463.3,71.91 464.3,71.37 465.3,71.31 466.3,72.06 467.3,71.54 468.3,71.81 469.3,71.6 470.3,72.53 471.3,72.55 472.3,73.95 473.3,74.66 474.3,75.5 475.3,75.62 476.3,74.83 477.3,74.56 478.3,73.54 479.3,73.03 480.3,72.16 481.3,71.59 482.3,71.34 483.3,72.57 484.3,72.19 485.3,71.34 486.3,71.57 487.3,71.33 488.3,71.38 489.3,72.12 490.3,72.23 491.3,71.71 492.3,71.76 493.3,72.17 494.3,71.81 495.3,71.75 496.3,72.44 497.3,72.57 498.3,72.48 499.3,72.28 500.3,71.34 501.3,72.58 502.3,72.4 503.3,71.69 504.3,72.01 505.3,71.8 506.3,72.07 507.3,72.14 508.3,71.75" fill="none" stroke="#d4903c" stroke-width="0.85" stroke-linejoin="round"/>
<line x1="44.3" y1="70" x2="508.5" y2="70" stroke="#2a2a2a" stroke-width="1.3"/>
<line x1="84.5" y1="28.5" x2="84.5" y2="115.2" stroke="#1a1a1a" stroke-width="1" stroke-dasharray="3,2.2"/>
<line x1="123.5" y1="28.5" x2="123.5" y2="115.2" stroke="#1a1a1a" stroke-width="1" stroke-dasharray="3,2.2"/>
<line x1="155.5" y1="28.5" x2="155.5" y2="115.2" stroke="#1a1a1a" stroke-width="1" stroke-dasharray="3,2.2"/>
<line x1="185.5" y1="28.5" x2="185.5" y2="115.2" stroke="#1a1a1a" stroke-width="1" stroke-dasharray="3,2.2"/>
<line x1="215.5" y1="28.5" x2="215.5" y2="115.2" stroke="#1a1a1a" stroke-width="1" stroke-dasharray="3,2.2"/>
<line x1="243.5" y1="28.5" x2="243.5" y2="115.2" stroke="#1a1a1a" stroke-width="1" stroke-dasharray="3,2.2"/>
<line x1="269.5" y1="28.5" x2="269.5" y2="115.2" stroke="#1a1a1a" stroke-width="1" stroke-dasharray="3,2.2"/>
<line x1="291.5" y1="28.5" x2="291.5" y2="115.2" stroke="#1a1a1a" stroke-width="1" stroke-dasharray="3,2.2"/>
<line x1="314.5" y1="28.5" x2="314.5" y2="115.2" stroke="#1a1a1a" stroke-width="1" stroke-dasharray="3,2.2"/>
<line x1="336.5" y1="28.5" x2="336.5" y2="115.2" stroke="#1a1a1a" stroke-width="1" stroke-dasharray="3,2.2"/>
<line x1="358.5" y1="28.5" x2="358.5" y2="115.2" stroke="#1a1a1a" stroke-width="1" stroke-dasharray="3,2.2"/>
<line x1="379.5" y1="28.5" x2="379.5" y2="115.2" stroke="#1a1a1a" stroke-width="1" stroke-dasharray="3,2.2"/>
<line x1="398.5" y1="28.5" x2="398.5" y2="115.2" stroke="#1a1a1a" stroke-width="1" stroke-dasharray="3,2.2"/>
<line x1="415.5" y1="28.5" x2="415.5" y2="115.2" stroke="#1a1a1a" stroke-width="1" stroke-dasharray="3,2.2"/>
<line x1="433.5" y1="28.5" x2="433.5" y2="115.2" stroke="#1a1a1a" stroke-width="1" stroke-dasharray="3,2.2"/>
<line x1="448.5" y1="28.5" x2="448.5" y2="115.2" stroke="#1a1a1a" stroke-width="1" stroke-dasharray="3,2.2"/>
<line x1="459.5" y1="28.5" x2="459.5" y2="115.2" stroke="#1a1a1a" stroke-width="1" stroke-dasharray="3,2.2"/>
<line x1="471.5" y1="28.5" x2="471.5" y2="115.2" stroke="#1a1a1a" stroke-width="1" stroke-dasharray="3,2.2"/>
<line x1="481.5" y1="28.5" x2="481.5" y2="115.2" stroke="#1a1a1a" stroke-width="1" stroke-dasharray="3,2.2"/>
<line x1="491.5" y1="28.5" x2="491.5" y2="115.2" stroke="#1a1a1a" stroke-width="1" stroke-dasharray="3,2.2"/>
<line x1="499.5" y1="28.5" x2="499.5" y2="115.2" stroke="#1a1a1a" stroke-width="1" stroke-dasharray="3,2.2"/>
<rect x="44.3" y="28.5" width="464.2" height="86.7" fill="none" stroke="#111" stroke-width="1.1"/>
<text x="63" y="26" font-size="5.4" text-anchor="middle" fill="#2a2a2a" stroke="#2a2a2a" stroke-width="0.1">1</text>
<text x="104.6" y="26" font-size="5.4" text-anchor="middle" fill="#2a2a2a" stroke="#2a2a2a" stroke-width="0.1">2</text>
<text x="137.8" y="26" font-size="5.4" text-anchor="middle" fill="#2a2a2a" stroke="#2a2a2a" stroke-width="0.1">3</text>
<text x="170.8" y="26" font-size="5.4" text-anchor="middle" fill="#2a2a2a" stroke="#2a2a2a" stroke-width="0.1">4</text>
<text x="201" y="26" font-size="5.4" text-anchor="middle" fill="#2a2a2a" stroke="#2a2a2a" stroke-width="0.1">5</text>
<text x="228.6" y="26" font-size="5.4" text-anchor="middle" fill="#2a2a2a" stroke="#2a2a2a" stroke-width="0.1">6</text>
<text x="256.3" y="26" font-size="5.4" text-anchor="middle" fill="#2a2a2a" stroke="#2a2a2a" stroke-width="0.1">7</text>
<text x="280" y="26" font-size="5.4" text-anchor="middle" fill="#2a2a2a" stroke="#2a2a2a" stroke-width="0.1">8</text>
<text x="303" y="26" font-size="5.4" text-anchor="middle" fill="#2a2a2a" stroke="#2a2a2a" stroke-width="0.1">9</text>
<text x="324.6" y="26" font-size="5.4" text-anchor="middle" fill="#2a2a2a" stroke="#2a2a2a" stroke-width="0.1">10</text>
<text x="347.5" y="26" font-size="5.4" text-anchor="middle" fill="#2a2a2a" stroke="#2a2a2a" stroke-width="0.1">11</text>
<text x="369" y="26" font-size="5.4" text-anchor="middle" fill="#2a2a2a" stroke="#2a2a2a" stroke-width="0.1">12</text>
<text x="388.5" y="26" font-size="5.4" text-anchor="middle" fill="#2a2a2a" stroke="#2a2a2a" stroke-width="0.1">13</text>
<text x="406.7" y="26" font-size="5.4" text-anchor="middle" fill="#2a2a2a" stroke="#2a2a2a" stroke-width="0.1">14</text>
<text x="424.3" y="26" font-size="5.4" text-anchor="middle" fill="#2a2a2a" stroke="#2a2a2a" stroke-width="0.1">15</text>
<text x="440.3" y="26" font-size="5.4" text-anchor="middle" fill="#2a2a2a" stroke="#2a2a2a" stroke-width="0.1">16</text>
<text x="454.2" y="26" font-size="5.4" text-anchor="middle" fill="#2a2a2a" stroke="#2a2a2a" stroke-width="0.1">17</text>
<text x="466" y="26" font-size="5.4" text-anchor="middle" fill="#2a2a2a" stroke="#2a2a2a" stroke-width="0.1">18</text>
<text x="477.2" y="26" font-size="5.4" text-anchor="middle" fill="#2a2a2a" stroke="#2a2a2a" stroke-width="0.1">19</text>
<text x="487.8" y="26" font-size="5.4" text-anchor="middle" fill="#2a2a2a" stroke="#2a2a2a" stroke-width="0.1">20</text>
<text x="496.6" y="26" font-size="5.4" text-anchor="middle" fill="#2a2a2a" stroke="#2a2a2a" stroke-width="0.1">21</text>
<text x="504.6" y="26" font-size="5.4" text-anchor="middle" fill="#2a2a2a" stroke="#2a2a2a" stroke-width="0.1">22</text>
<line x1="41.2" y1="44.6" x2="44.3" y2="44.6" stroke="#222" stroke-width="0.8"/>
<text x="38.7" y="44.6" font-size="5.7" text-anchor="middle" fill="#2a2a2a" stroke="#2a2a2a" stroke-width="0.1" transform="rotate(-90 38.7 44.6)">40</text>
<line x1="41.2" y1="70" x2="44.3" y2="70" stroke="#222" stroke-width="0.8"/>
<text x="38.7" y="70" font-size="5.7" text-anchor="middle" fill="#2a2a2a" stroke="#2a2a2a" stroke-width="0.1" transform="rotate(-90 38.7 70)">0</text>
<line x1="41.2" y1="95" x2="44.3" y2="95" stroke="#222" stroke-width="0.8"/>
<text x="38.7" y="95" font-size="5.7" text-anchor="middle" fill="#2a2a2a" stroke="#2a2a2a" stroke-width="0.1" transform="rotate(-90 38.7 95)">40</text>
<text x="18.7" y="45" font-size="7.5" text-anchor="middle" fill="#1a1a1a" stroke="#1a1a1a" stroke-width="0.12" transform="rotate(-90 18.7 45)" textLength="33" lengthAdjust="spacingAndGlyphs">Frequency</text>
<text x="27.7" y="45.4" font-size="7.5" text-anchor="middle" fill="#1a1a1a" stroke="#1a1a1a" stroke-width="0.12" transform="rotate(-90 27.7 45.4)" textLength="25" lengthAdjust="spacingAndGlyphs">gain (%)</text>
<text x="18.7" y="95" font-size="7.5" text-anchor="middle" fill="#1a1a1a" stroke="#1a1a1a" stroke-width="0.12" transform="rotate(-90 18.7 95)" textLength="33" lengthAdjust="spacingAndGlyphs">Frequency</text>
<text x="27.7" y="95.3" font-size="7.5" text-anchor="middle" fill="#1a1a1a" stroke="#1a1a1a" stroke-width="0.12" transform="rotate(-90 27.7 95.3)" textLength="23.5" lengthAdjust="spacingAndGlyphs">loss (%)</text>
<text x="7.1" y="15.4" font-size="10.4" text-anchor="start" fill="#111">A</text>
<text x="95.6" y="56.9" font-size="3.9" text-anchor="start" fill="#6a6a6a" stroke="#6a6a6a" stroke-width="0.07" transform="rotate(-90 95.6 56.9)" textLength="6.9" lengthAdjust="spacingAndGlyphs">REL</text>
<text x="117.9" y="63.8" font-size="3.9" text-anchor="start" fill="#6a6a6a" stroke="#6a6a6a" stroke-width="0.07" transform="rotate(-90 117.9 63.8)" textLength="10" lengthAdjust="spacingAndGlyphs">CD28</text>
<text x="153.3" y="56.9" font-size="3.9" text-anchor="start" fill="#6a6a6a" stroke="#6a6a6a" stroke-width="0.07" transform="rotate(-90 153.3 56.9)" textLength="20.7" lengthAdjust="spacingAndGlyphs">PIK3CB, TFRG3</text>
<text x="259.3" y="39.2" font-size="3.9" text-anchor="start" fill="#6a6a6a" stroke="#6a6a6a" stroke-width="0.07" transform="rotate(-90 259.3 39.2)" textLength="10.5" lengthAdjust="spacingAndGlyphs">TRRAP</text>
<text x="289.8" y="41.5" font-size="3.9" text-anchor="start" fill="#6a6a6a" stroke="#6a6a6a" stroke-width="0.07" transform="rotate(-90 289.8 41.5)" textLength="8.6" lengthAdjust="spacingAndGlyphs">MYC</text>
<text x="354.7" y="60.9" font-size="3.9" text-anchor="start" fill="#6a6a6a" stroke="#6a6a6a" stroke-width="0.07" transform="rotate(-90 354.7 60.9)" textLength="8.1" lengthAdjust="spacingAndGlyphs">ATM</text>
<text x="436" y="55.6" font-size="3.9" text-anchor="start" fill="#6a6a6a" stroke="#6a6a6a" stroke-width="0.07" transform="rotate(-90 436 55.6)" textLength="12.6" lengthAdjust="spacingAndGlyphs">SOCS1</text>
<text x="454.3" y="46" font-size="3.9" text-anchor="start" fill="#6a6a6a" stroke="#6a6a6a" stroke-width="0.07" transform="rotate(-90 454.3 46)" textLength="11" lengthAdjust="spacingAndGlyphs">STAT3</text>
<text x="490.1" y="60.3" font-size="3.9" text-anchor="start" fill="#6a6a6a" stroke="#6a6a6a" stroke-width="0.07" transform="rotate(-90 490.1 60.3)" textLength="11.8" lengthAdjust="spacingAndGlyphs">PLCG1</text>
<text x="221.2" y="79" font-size="3.9" text-anchor="end" fill="#6a6a6a" stroke="#6a6a6a" stroke-width="0.07" transform="rotate(-90 221.2 79)" textLength="9.5" lengthAdjust="spacingAndGlyphs">DUSP22</text>
<text x="228.6" y="78.4" font-size="3.9" text-anchor="end" fill="#6a6a6a" stroke="#6a6a6a" stroke-width="0.07" transform="rotate(-90 228.6 78.4)" textLength="6.6" lengthAdjust="spacingAndGlyphs">IRF4</text>
<text x="233.3" y="81.7" font-size="3.9" text-anchor="end" fill="#6a6a6a" stroke="#6a6a6a" stroke-width="0.07" transform="rotate(-90 233.3 81.7)" textLength="13.5" lengthAdjust="spacingAndGlyphs">PRDM1</text>
<text x="238.7" y="83.1" font-size="3.9" text-anchor="end" fill="#6a6a6a" stroke="#6a6a6a" stroke-width="0.07" transform="rotate(-90 238.7 83.1)" textLength="30" lengthAdjust="spacingAndGlyphs">ZC3H12D, LATS1</text>
<text x="297.1" y="80.8" font-size="3.9" text-anchor="end" fill="#6a6a6a" stroke="#6a6a6a" stroke-width="0.07" transform="rotate(-90 297.1 80.8)" textLength="13.4" lengthAdjust="spacingAndGlyphs">CDKN2A</text>
<text x="330.1" y="91" font-size="3.9" text-anchor="end" fill="#6a6a6a" stroke="#6a6a6a" stroke-width="0.07" transform="rotate(-90 330.1 91)" textLength="20" lengthAdjust="spacingAndGlyphs">FAS, PTEN</text>
<text x="387.2" y="92.3" font-size="3.9" text-anchor="end" fill="#6a6a6a" stroke="#6a6a6a" stroke-width="0.07" transform="rotate(-90 387.2 92.3)" textLength="12" lengthAdjust="spacingAndGlyphs">FOXO1</text>
<text x="450" y="110.6" font-size="3.9" text-anchor="end" fill="#6a6a6a" stroke="#6a6a6a" stroke-width="0.07" transform="rotate(-90 450 110.6)" textLength="8.6" lengthAdjust="spacingAndGlyphs">TP53</text>
<text x="476.8" y="76" font-size="3.9" text-anchor="end" fill="#6a6a6a" stroke="#6a6a6a" stroke-width="0.07" transform="rotate(-90 476.8 76)" textLength="12.7" lengthAdjust="spacingAndGlyphs">JAK3</text>
<text x="184.5" y="121.5" font-size="3.4" text-anchor="start" fill="#777" stroke="#777" stroke-width="0.06">Ave61</text>
<rect x="185.4" y="125.8" width="4.4" height="4.8" fill="#a13543"/>
<text x="192.5" y="129.6" font-size="3.8" text-anchor="start" fill="#555" stroke="#555" stroke-width="0.07">PTCL-GATA3 CN Gains</text>
<rect x="242.5" y="125.8" width="4.4" height="4.8" fill="#4e6482"/>
<text x="249.8" y="129.6" font-size="3.8" text-anchor="start" fill="#555" stroke="#555" stroke-width="0.07">PTCL-GATA3 CN Losses</text>
<line x1="301" y1="128.2" x2="306" y2="128.2" stroke="#d4903c" stroke-width="0.8"/>
<text x="309" y="129.6" font-size="3.8" text-anchor="start" fill="#555" stroke="#555" stroke-width="0.07">PTCL-TBX21 CN Gains/Losses</text>
<rect x="48.7" y="217.6" width="1.2" height="30.27" fill="#2e4a3c"/>
<rect x="50.23" y="217.6" width="1.2" height="24.97" fill="#8a9a90"/>
<rect x="51.77" y="217.6" width="1.2" height="17.33" fill="#b8b4bc"/>
<rect x="53.3" y="217.6" width="1.2" height="14.75" fill="#e0dae0"/>
<rect x="54.84" y="217.6" width="1.2" height="14.09" fill="#a9a6b1"/>
<rect x="56.37" y="217.6" width="1.2" height="13.02" fill="#d0c9d0"/>
<rect x="57.91" y="217.6" width="1.2" height="11.79" fill="#d0c9d0"/>
<rect x="59.44" y="217.6" width="1.2" height="10.94" fill="#a9a6b1"/>
<rect x="60.98" y="217.6" width="1.2" height="9.75" fill="#d0c9d0"/>
<rect x="62.51" y="217.6" width="1.2" height="8.76" fill="#b13a4d"/>
<rect x="64.04" y="217.6" width="1.2" height="7.96" fill="#d0c9d0"/>
<rect x="65.58" y="217.6" width="1.2" height="6.81" fill="#d0c9d0"/>
<rect x="67.11" y="217.6" width="1.2" height="5.43" fill="#d0c9d0"/>
<rect x="68.65" y="217.6" width="1.2" height="3.81" fill="#b13a4d"/>
<rect x="70.18" y="217.6" width="1.2" height="2.77" fill="#d0c9d0"/>
<rect x="71.72" y="217.6" width="1.2" height="2.2" fill="#b13a4d"/>
<rect x="73.25" y="217.6" width="1.2" height="0.86" fill="#d6a9b5"/>
<rect x="74.79" y="217.6" width="1.2" height="0.6" fill="#a9a6b1"/>
<rect x="76.32" y="217.6" width="1.2" height="0.04" fill="#b13a4d"/>
<rect x="77.86" y="217.04" width="1.2" height="0.56" fill="#d6a9b5"/>
<rect x="79.39" y="216.49" width="1.2" height="1.11" fill="#d0c9d0"/>
<rect x="80.92" y="215.63" width="1.2" height="1.97" fill="#d0c9d0"/>
<rect x="82.46" y="214.94" width="1.2" height="2.66" fill="#5f6172"/>
<rect x="83.99" y="213.89" width="1.2" height="3.71" fill="#5f6172"/>
<rect x="85.53" y="212.35" width="1.2" height="5.25" fill="#d0c9d0"/>
<rect x="87.06" y="210.06" width="1.2" height="7.54" fill="#b13a4d"/>
<rect x="88.6" y="208.01" width="1.2" height="9.59" fill="#d0c9d0"/>
<rect x="90.13" y="205.04" width="1.2" height="12.56" fill="#80ad63"/>
<rect x="91.67" y="203.49" width="1.2" height="14.11" fill="#d0c9d0"/>
<rect x="93.2" y="197.4" width="1.2" height="20.2" fill="#5f6172"/>
<rect x="101.9" y="217.6" width="1.2" height="8.01" fill="#5f6172"/>
<rect x="103.42" y="217.6" width="1.2" height="6.22" fill="#d0c9d0"/>
<rect x="104.94" y="217.6" width="1.2" height="4.74" fill="#d0c9d0"/>
<rect x="106.47" y="217.6" width="1.2" height="3.57" fill="#d0c9d0"/>
<rect x="107.99" y="217.6" width="1.2" height="2.27" fill="#d0c9d0"/>
<rect x="109.51" y="217.6" width="1.2" height="1.94" fill="#d0c9d0"/>
<rect x="111.03" y="217.6" width="1.2" height="1.42" fill="#b13a4d"/>
<rect x="112.56" y="217.6" width="1.2" height="1.13" fill="#d0c9d0"/>
<rect x="114.08" y="217.6" width="1.2" height="0.42" fill="#e0dae0"/>
<rect x="115.6" y="217.6" width="1.2" height="0.24" fill="#d0c9d0"/>
<rect x="117.12" y="216.83" width="1.2" height="0.77" fill="#80ad63"/>
<rect x="118.64" y="216.67" width="1.2" height="0.93" fill="#d0c9d0"/>
<rect x="120.17" y="216.68" width="1.2" height="0.92" fill="#d0c9d0"/>
<rect x="121.69" y="215.87" width="1.2" height="1.73" fill="#a9a6b1"/>
<rect x="123.21" y="215.71" width="1.2" height="1.89" fill="#d0c9d0"/>
<rect x="124.73" y="215.25" width="1.2" height="2.35" fill="#e0dae0"/>
<rect x="126.26" y="214.49" width="1.2" height="3.11" fill="#d0c9d0"/>
<rect x="127.78" y="214.05" width="1.2" height="3.55" fill="#d0c9d0"/>
<rect x="129.3" y="213.53" width="1.2" height="4.07" fill="#a9a6b1"/>
<rect x="130.82" y="213.43" width="1.2" height="4.17" fill="#d0c9d0"/>
<rect x="132.34" y="211.44" width="1.2" height="6.16" fill="#d6a9b5"/>
<rect x="133.87" y="210.41" width="1.2" height="7.19" fill="#d0c9d0"/>
<rect x="135.39" y="209.35" width="1.2" height="8.25" fill="#a9a6b1"/>
<rect x="136.91" y="209.09" width="1.2" height="8.51" fill="#5f6172"/>
<rect x="138.43" y="207.41" width="1.2" height="10.19" fill="#d0c9d0"/>
<rect x="139.96" y="205.72" width="1.2" height="11.88" fill="#a9a6b1"/>
<rect x="141.48" y="203.18" width="1.2" height="14.42" fill="#d0c9d0"/>
<rect x="143" y="200.9" width="1.2" height="16.7" fill="#a9a6b1"/>
<rect x="94.75" y="217.6" width="1.1" height="7.8" fill="#dcd0d8"/>
<rect x="96.95" y="217.6" width="1.1" height="1.4" fill="#5f6172"/>
<rect x="99.25" y="208.2" width="1.1" height="9.4" fill="#8a8a98"/>
<rect x="100.75" y="217.6" width="1.1" height="13.7" fill="#e0dae0"/>
<rect x="48.4" y="194.5" width="95.8" height="61.7" fill="none" stroke="#1a1a1a" stroke-width="1.1"/>
<line x1="44.8" y1="199.4" x2="48.4" y2="199.4" stroke="#222" stroke-width="0.9"/>
<text x="42.2" y="201.3" font-size="5.5" text-anchor="end" fill="#2a2a2a" stroke="#2a2a2a" stroke-width="0.1">2.5</text>
<line x1="44.8" y1="217.6" x2="48.4" y2="217.6" stroke="#222" stroke-width="0.9"/>
<text x="42.2" y="219.5" font-size="5.5" text-anchor="end" fill="#2a2a2a" stroke="#2a2a2a" stroke-width="0.1">0</text>
<line x1="44.8" y1="234.8" x2="48.4" y2="234.8" stroke="#222" stroke-width="0.9"/>
<text x="42.2" y="236.7" font-size="5.5" text-anchor="end" fill="#2a2a2a" stroke="#2a2a2a" stroke-width="0.1">−2.5</text>
<line x1="44.8" y1="252.8" x2="48.4" y2="252.8" stroke="#222" stroke-width="0.9"/>
<text x="42.2" y="254.7" font-size="5.5" text-anchor="end" fill="#2a2a2a" stroke="#2a2a2a" stroke-width="0.1">−5.0</text>
<line x1="26.5" y1="194.5" x2="26.5" y2="256.2" stroke="#333" stroke-width="1"/>
<text x="20.9" y="225.35" font-size="8.3" text-anchor="middle" fill="#1a1a1a" stroke="#1a1a1a" stroke-width="0.12" transform="rotate(-90 20.9 225.35)" textLength="30" lengthAdjust="spacingAndGlyphs">CDKN2A</text>
<rect x="48.7" y="288.7" width="1.2" height="20.04" fill="#2a2a35"/>
<rect x="50.26" y="288.7" width="1.2" height="9.28" fill="#d0c9d0"/>
<rect x="51.83" y="288.7" width="1.2" height="6.41" fill="#d0c9d0"/>
<rect x="53.39" y="288.7" width="1.2" height="4.83" fill="#80ad63"/>
<rect x="54.95" y="288.7" width="1.2" height="3.88" fill="#e0dae0"/>
<rect x="56.51" y="288.7" width="1.2" height="3.48" fill="#4b7661"/>
<rect x="58.08" y="288.7" width="1.2" height="2.74" fill="#e0dae0"/>
<rect x="59.64" y="288.7" width="1.2" height="1.92" fill="#5f6172"/>
<rect x="61.2" y="288.7" width="1.2" height="1.45" fill="#d0c9d0"/>
<rect x="62.77" y="288.7" width="1.2" height="0.93" fill="#d0c9d0"/>
<rect x="64.33" y="288.7" width="1.2" height="0.45" fill="#d6a9b5"/>
<rect x="65.89" y="288.7" width="1.2" height="0.25" fill="#a9a6b1"/>
<rect x="67.46" y="287.99" width="1.2" height="0.71" fill="#d0c9d0"/>
<rect x="69.02" y="287.35" width="1.2" height="1.35" fill="#d0c9d0"/>
<rect x="70.58" y="286.78" width="1.2" height="1.92" fill="#4b7661"/>
<rect x="72.14" y="285.54" width="1.2" height="3.16" fill="#80ad63"/>
<rect x="73.71" y="284.89" width="1.2" height="3.81" fill="#a9a6b1"/>
<rect x="75.27" y="283.42" width="1.2" height="5.28" fill="#5f6172"/>
<rect x="76.83" y="283.26" width="1.2" height="5.44" fill="#a9a6b1"/>
<rect x="78.4" y="282.07" width="1.2" height="6.63" fill="#e0dae0"/>
<rect x="79.96" y="280.88" width="1.2" height="7.82" fill="#b13a4d"/>
<rect x="81.52" y="279.82" width="1.2" height="8.88" fill="#80ad63"/>
<rect x="83.09" y="279.25" width="1.2" height="9.45" fill="#a9a6b1"/>
<rect x="84.65" y="277.58" width="1.2" height="11.12" fill="#b13a4d"/>
<rect x="86.21" y="276.12" width="1.2" height="12.58" fill="#d0c9d0"/>
<rect x="87.77" y="273.66" width="1.2" height="15.04" fill="#b13a4d"/>
<rect x="89.34" y="268.73" width="1.2" height="19.97" fill="#d6a9b5"/>
<rect x="90.9" y="263.8" width="1.2" height="24.9" fill="#9e3048"/>
<rect x="101.9" y="288.7" width="1.2" height="7.19" fill="#5f6172"/>
<rect x="103.42" y="288.7" width="1.2" height="6.54" fill="#d0c9d0"/>
<rect x="104.94" y="288.7" width="1.2" height="5.27" fill="#b13a4d"/>
<rect x="106.46" y="288.7" width="1.2" height="4.13" fill="#d6a9b5"/>
<rect x="107.98" y="288.7" width="1.2" height="4.05" fill="#e0dae0"/>
<rect x="109.5" y="288.7" width="1.2" height="3.43" fill="#d0c9d0"/>
<rect x="111.02" y="288.7" width="1.2" height="3.28" fill="#b13a4d"/>
<rect x="112.54" y="288.7" width="1.2" height="2.76" fill="#a9a6b1"/>
<rect x="114.06" y="288.7" width="1.2" height="2.09" fill="#5f6172"/>
<rect x="115.58" y="288.7" width="1.2" height="0.83" fill="#80ad63"/>
<rect x="117.1" y="288.7" width="1.2" height="0.47" fill="#a9a6b1"/>
<rect x="118.62" y="288.7" width="1.2" height="0.17" fill="#a9a6b1"/>
<rect x="120.14" y="288.7" width="1.2" height="0.28" fill="#a9a6b1"/>
<rect x="121.66" y="288.52" width="1.2" height="0.18" fill="#d0c9d0"/>
<rect x="123.18" y="287.69" width="1.2" height="1.01" fill="#d0c9d0"/>
<rect x="124.7" y="287.57" width="1.2" height="1.13" fill="#d0c9d0"/>
<rect x="126.22" y="287.49" width="1.2" height="1.21" fill="#a9a6b1"/>
<rect x="127.74" y="286.8" width="1.2" height="1.9" fill="#e0dae0"/>
<rect x="129.26" y="285.93" width="1.2" height="2.77" fill="#d0c9d0"/>
<rect x="130.78" y="285.14" width="1.2" height="3.56" fill="#d0c9d0"/>
<rect x="132.3" y="284.38" width="1.2" height="4.32" fill="#d0c9d0"/>
<rect x="133.82" y="283.62" width="1.2" height="5.08" fill="#e0dae0"/>
<rect x="135.34" y="283.44" width="1.2" height="5.26" fill="#b13a4d"/>
<rect x="136.86" y="280.71" width="1.2" height="7.99" fill="#a9a6b1"/>
<rect x="138.38" y="279.25" width="1.2" height="9.45" fill="#e0dae0"/>
<rect x="139.9" y="278.1" width="1.2" height="10.6" fill="#b13a4d"/>
<rect x="93.05" y="288.7" width="1.1" height="8.8" fill="#9e3048"/>
<rect x="95.25" y="288.7" width="1.1" height="4.6" fill="#a9a6b1"/>
<rect x="97.95" y="280.1" width="1.1" height="8.6" fill="#d6a9b5"/>
<rect x="99.35" y="288.7" width="1.1" height="13" fill="#e0dae0"/>
<rect x="100.15" y="288.7" width="1.1" height="11.5" fill="#5e8c48"/>
<rect x="48.4" y="260.2" width="94.3" height="62.1" fill="none" stroke="#1a1a1a" stroke-width="1.1"/>
<line x1="44.8" y1="275.1" x2="48.4" y2="275.1" stroke="#222" stroke-width="0.9"/>
<text x="42.2" y="277" font-size="5.5" text-anchor="end" fill="#2a2a2a" stroke="#2a2a2a" stroke-width="0.1">2</text>
<line x1="44.8" y1="288.9" x2="48.4" y2="288.9" stroke="#222" stroke-width="0.9"/>
<text x="42.2" y="290.8" font-size="5.5" text-anchor="end" fill="#2a2a2a" stroke="#2a2a2a" stroke-width="0.1">0</text>
<line x1="44.8" y1="302.8" x2="48.4" y2="302.8" stroke="#222" stroke-width="0.9"/>
<text x="42.2" y="304.7" font-size="5.5" text-anchor="end" fill="#2a2a2a" stroke="#2a2a2a" stroke-width="0.1">−2</text>
<line x1="44.8" y1="316.3" x2="48.4" y2="316.3" stroke="#222" stroke-width="0.9"/>
<text x="42.2" y="318.2" font-size="5.5" text-anchor="end" fill="#2a2a2a" stroke="#2a2a2a" stroke-width="0.1">−4</text>
<line x1="26.5" y1="260.2" x2="26.5" y2="322.3" stroke="#333" stroke-width="1"/>
<text x="20.9" y="291.25" font-size="8.3" text-anchor="middle" fill="#1a1a1a" stroke="#1a1a1a" stroke-width="0.12" transform="rotate(-90 20.9 291.25)" textLength="15" lengthAdjust="spacingAndGlyphs">MYC</text>
<rect x="48.7" y="362.8" width="1.2" height="14.07" fill="#d0c9d0"/>
<rect x="50.26" y="362.8" width="1.2" height="10.63" fill="#80ad63"/>
<rect x="51.82" y="362.8" width="1.2" height="8.56" fill="#d0c9d0"/>
<rect x="53.38" y="362.8" width="1.2" height="7.28" fill="#d0c9d0"/>
<rect x="54.94" y="362.8" width="1.2" height="6.26" fill="#d0c9d0"/>
<rect x="56.5" y="362.8" width="1.2" height="5.45" fill="#d6a9b5"/>
<rect x="58.06" y="362.8" width="1.2" height="4.09" fill="#d0c9d0"/>
<rect x="59.62" y="362.8" width="1.2" height="2.82" fill="#a9a6b1"/>
<rect x="61.19" y="362.8" width="1.2" height="1.56" fill="#d0c9d0"/>
<rect x="62.75" y="362.8" width="1.2" height="0.82" fill="#e0dae0"/>
<rect x="64.31" y="362.8" width="1.2" height="0.24" fill="#d6a9b5"/>
<rect x="65.87" y="362.08" width="1.2" height="0.72" fill="#d0c9d0"/>
<rect x="67.43" y="360.33" width="1.2" height="2.47" fill="#d0c9d0"/>
<rect x="68.99" y="359.61" width="1.2" height="3.19" fill="#a9a6b1"/>
<rect x="70.55" y="359.44" width="1.2" height="3.36" fill="#d0c9d0"/>
<rect x="72.11" y="358.07" width="1.2" height="4.73" fill="#b13a4d"/>
<rect x="73.67" y="355.53" width="1.2" height="7.27" fill="#d0c9d0"/>
<rect x="75.23" y="353.82" width="1.2" height="8.98" fill="#d0c9d0"/>
<rect x="76.79" y="353.31" width="1.2" height="9.49" fill="#d0c9d0"/>
<rect x="78.35" y="351.82" width="1.2" height="10.98" fill="#b13a4d"/>
<rect x="79.91" y="348.98" width="1.2" height="13.82" fill="#d0c9d0"/>
<rect x="81.47" y="346.83" width="1.2" height="15.97" fill="#6b4c2c"/>
<rect x="83.04" y="344.1" width="1.2" height="18.7" fill="#d0c9d0"/>
<rect x="84.6" y="341.95" width="1.2" height="20.85" fill="#b13a4d"/>
<rect x="86.16" y="339.66" width="1.2" height="23.14" fill="#d0c9d0"/>
<rect x="87.72" y="336.7" width="1.2" height="26.1" fill="#a9a6b1"/>
<rect x="89.28" y="334.29" width="1.2" height="28.51" fill="#e0dae0"/>
<rect x="90.84" y="332.14" width="1.2" height="30.66" fill="#d0c9d0"/>
<rect x="92.4" y="329.4" width="1.2" height="33.4" fill="#d0c9d0"/>
<rect x="101.9" y="362.8" width="1.2" height="11.72" fill="#d0c9d0"/>
<rect x="103.48" y="362.8" width="1.2" height="9.97" fill="#80ad63"/>
<rect x="105.06" y="362.8" width="1.2" height="7.89" fill="#d0c9d0"/>
<rect x="106.64" y="362.8" width="1.2" height="6.8" fill="#d6a9b5"/>
<rect x="108.22" y="362.8" width="1.2" height="6.25" fill="#a9a6b1"/>
<rect x="109.8" y="362.8" width="1.2" height="4.25" fill="#a9a6b1"/>
<rect x="111.38" y="362.8" width="1.2" height="2.97" fill="#5f6172"/>
<rect x="112.96" y="362.8" width="1.2" height="1.98" fill="#5f6172"/>
<rect x="114.54" y="362.8" width="1.2" height="1.57" fill="#e0dae0"/>
<rect x="116.12" y="362.8" width="1.2" height="1.13" fill="#d0c9d0"/>
<rect x="117.7" y="362.8" width="1.2" height="0.88" fill="#e0dae0"/>
<rect x="119.28" y="362.8" width="1.2" height="0.53" fill="#5f6172"/>
<rect x="120.86" y="362.8" width="1.2" height="0.51" fill="#d0c9d0"/>
<rect x="122.44" y="362.8" width="1.2" height="0.18" fill="#e0dae0"/>
<rect x="124.02" y="362.8" width="1.2" height="0.48" fill="#b13a4d"/>
<rect x="125.6" y="362.63" width="1.2" height="0.17" fill="#d0c9d0"/>
<rect x="127.18" y="362.24" width="1.2" height="0.56" fill="#d0c9d0"/>
<rect x="128.76" y="361.5" width="1.2" height="1.3" fill="#5f6172"/>
<rect x="130.34" y="360.9" width="1.2" height="1.9" fill="#e0dae0"/>
<rect x="131.92" y="359.91" width="1.2" height="2.89" fill="#d0c9d0"/>
<rect x="133.5" y="358.54" width="1.2" height="4.26" fill="#4b7661"/>
<rect x="135.08" y="357.42" width="1.2" height="5.38" fill="#d0c9d0"/>
<rect x="136.66" y="356.65" width="1.2" height="6.15" fill="#d0c9d0"/>
<rect x="138.24" y="355.89" width="1.2" height="6.91" fill="#a9a6b1"/>
<rect x="139.82" y="354.75" width="1.2" height="8.05" fill="#d0c9d0"/>
<rect x="141.4" y="352.5" width="1.2" height="10.3" fill="#80ad63"/>
<rect x="94.75" y="362.8" width="1.1" height="13.2" fill="#6f9e58"/>
<rect x="96.45" y="362.8" width="1.1" height="1.2" fill="#5f6172"/>
<rect x="98.95" y="358.4" width="1.1" height="4.4" fill="#e0dae0"/>
<rect x="100.15" y="362.8" width="1.1" height="17.1" fill="#e0dae0"/>
<rect x="48.4" y="326.5" width="94.6" height="60.8" fill="none" stroke="#1a1a1a" stroke-width="1.1"/>
<line x1="44.8" y1="331" x2="48.4" y2="331" stroke="#222" stroke-width="0.9"/>
<text x="42.2" y="332.9" font-size="5.5" text-anchor="end" fill="#2a2a2a" stroke="#2a2a2a" stroke-width="0.1">3</text>
<line x1="44.8" y1="341.6" x2="48.4" y2="341.6" stroke="#222" stroke-width="0.9"/>
<text x="42.2" y="343.5" font-size="5.5" text-anchor="end" fill="#2a2a2a" stroke="#2a2a2a" stroke-width="0.1">2</text>
<line x1="44.8" y1="352.3" x2="48.4" y2="352.3" stroke="#222" stroke-width="0.9"/>
<text x="42.2" y="354.2" font-size="5.5" text-anchor="end" fill="#2a2a2a" stroke="#2a2a2a" stroke-width="0.1">1</text>
<line x1="44.8" y1="362.7" x2="48.4" y2="362.7" stroke="#222" stroke-width="0.9"/>
<text x="42.2" y="364.6" font-size="5.5" text-anchor="end" fill="#2a2a2a" stroke="#2a2a2a" stroke-width="0.1">0</text>
<line x1="44.8" y1="373.4" x2="48.4" y2="373.4" stroke="#222" stroke-width="0.9"/>
<text x="42.2" y="375.3" font-size="5.5" text-anchor="end" fill="#2a2a2a" stroke="#2a2a2a" stroke-width="0.1">−1</text>
<line x1="44.8" y1="384" x2="48.4" y2="384" stroke="#222" stroke-width="0.9"/>
<text x="42.2" y="385.9" font-size="5.5" text-anchor="end" fill="#2a2a2a" stroke="#2a2a2a" stroke-width="0.1">−2</text>
<line x1="26.5" y1="326.5" x2="26.5" y2="387.3" stroke="#333" stroke-width="1"/>
<text x="20.9" y="356.9" font-size="8.3" text-anchor="middle" fill="#1a1a1a" stroke="#1a1a1a" stroke-width="0.12" transform="rotate(-90 20.9 356.9)" textLength="19" lengthAdjust="spacingAndGlyphs">c-REL</text>
<rect x="48.7" y="415.8" width="1.2" height="21.65" fill="#3a3a48"/>
<rect x="50.26" y="415.8" width="1.2" height="17.65" fill="#77798a"/>
<rect x="51.82" y="415.8" width="1.2" height="16.06" fill="#a9a6b1"/>
<rect x="53.38" y="415.8" width="1.2" height="13.85" fill="#77798a"/>
<rect x="54.94" y="415.8" width="1.2" height="12.37" fill="#d0c9d0"/>
<rect x="56.5" y="415.8" width="1.2" height="10.57" fill="#80ad63"/>
<rect x="58.06" y="415.8" width="1.2" height="9.81" fill="#a9a6b1"/>
<rect x="59.62" y="415.8" width="1.2" height="8.2" fill="#5f6172"/>
<rect x="61.19" y="415.8" width="1.2" height="7.83" fill="#d6a9b5"/>
<rect x="62.75" y="415.8" width="1.2" height="6.89" fill="#d0c9d0"/>
<rect x="64.31" y="415.8" width="1.2" height="5.93" fill="#d0c9d0"/>
<rect x="65.87" y="415.8" width="1.2" height="4.88" fill="#d6a9b5"/>
<rect x="67.43" y="415.8" width="1.2" height="4.21" fill="#d0c9d0"/>
<rect x="68.99" y="415.8" width="1.2" height="3.18" fill="#b13a4d"/>
<rect x="70.55" y="415.8" width="1.2" height="2.54" fill="#a9a6b1"/>
<rect x="72.11" y="415.8" width="1.2" height="2.24" fill="#d0c9d0"/>
<rect x="73.67" y="415.8" width="1.2" height="1.76" fill="#d0c9d0"/>
<rect x="75.23" y="415.8" width="1.2" height="0.87" fill="#d0c9d0"/>
<rect x="76.79" y="415.8" width="1.2" height="0.28" fill="#d0c9d0"/>
<rect x="78.35" y="415.11" width="1.2" height="0.69" fill="#5f6172"/>
<rect x="79.91" y="413.88" width="1.2" height="1.92" fill="#d0c9d0"/>
<rect x="81.47" y="412.35" width="1.2" height="3.45" fill="#d0c9d0"/>
<rect x="83.04" y="410.68" width="1.2" height="5.12" fill="#e0dae0"/>
<rect x="84.6" y="408.43" width="1.2" height="7.37" fill="#d0c9d0"/>
<rect x="86.16" y="406.8" width="1.2" height="9" fill="#a9a6b1"/>
<rect x="87.72" y="406.36" width="1.2" height="9.44" fill="#a9a6b1"/>
<rect x="89.28" y="405.57" width="1.2" height="10.23" fill="#b13a4d"/>
<rect x="90.84" y="403.06" width="1.2" height="12.74" fill="#a9a6b1"/>
<rect x="92.4" y="397.8" width="1.2" height="18" fill="#d0c9d0"/>
<rect x="101.4" y="415.8" width="1.2" height="9.53" fill="#d0c9d0"/>
<rect x="102.96" y="415.8" width="1.2" height="6.61" fill="#e0dae0"/>
<rect x="104.52" y="415.8" width="1.2" height="4.82" fill="#d0c9d0"/>
<rect x="106.08" y="415.8" width="1.2" height="4.05" fill="#5f6172"/>
<rect x="107.64" y="415.8" width="1.2" height="2.89" fill="#5f6172"/>
<rect x="109.2" y="415.8" width="1.2" height="2.39" fill="#d0c9d0"/>
<rect x="110.76" y="415.8" width="1.2" height="1.62" fill="#d0c9d0"/>
<rect x="112.32" y="415.8" width="1.2" height="0.79" fill="#a9a6b1"/>
<rect x="113.88" y="415.8" width="1.2" height="0.58" fill="#b13a4d"/>
<rect x="115.44" y="415.8" width="1.2" height="0.52" fill="#d0c9d0"/>
<rect x="117" y="415.8" width="1.2" height="0.24" fill="#d0c9d0"/>
<rect x="118.56" y="415.11" width="1.2" height="0.69" fill="#d0c9d0"/>
<rect x="120.12" y="414.07" width="1.2" height="1.73" fill="#d6a9b5"/>
<rect x="121.68" y="413.92" width="1.2" height="1.88" fill="#d0c9d0"/>
<rect x="123.24" y="412.95" width="1.2" height="2.85" fill="#d6a9b5"/>
<rect x="124.8" y="412.63" width="1.2" height="3.17" fill="#80ad63"/>
<rect x="126.36" y="412.06" width="1.2" height="3.74" fill="#a9a6b1"/>
<rect x="127.92" y="411.84" width="1.2" height="3.96" fill="#d0c9d0"/>
<rect x="129.48" y="411.31" width="1.2" height="4.49" fill="#a9a6b1"/>
<rect x="131.04" y="410.75" width="1.2" height="5.05" fill="#d0c9d0"/>
<rect x="132.6" y="410" width="1.2" height="5.8" fill="#80ad63"/>
<rect x="134.16" y="409.74" width="1.2" height="6.06" fill="#80ad63"/>
<rect x="135.72" y="408.97" width="1.2" height="6.83" fill="#4b7661"/>
<rect x="137.28" y="408.08" width="1.2" height="7.72" fill="#a9a6b1"/>
<rect x="138.84" y="407.18" width="1.2" height="8.62" fill="#5f6172"/>
<rect x="140.4" y="406.2" width="1.2" height="9.6" fill="#d0c9d0"/>
<rect x="94.25" y="415.8" width="1.1" height="23.3" fill="#c9c4cc"/>
<rect x="94.85" y="415.8" width="1.1" height="4.6" fill="#9e3048"/>
<rect x="97.45" y="412.1" width="1.1" height="3.7" fill="#5f6172"/>
<rect x="98.95" y="395.4" width="1.1" height="20.4" fill="#ece8ec"/>
<rect x="100.05" y="415.8" width="1.1" height="14.4" fill="#6f9e58"/>
<rect x="48.4" y="392.8" width="94.5" height="59.1" fill="none" stroke="#1a1a1a" stroke-width="1.1"/>
<line x1="44.8" y1="403.7" x2="48.4" y2="403.7" stroke="#222" stroke-width="0.9"/>
<text x="42.2" y="405.6" font-size="5.5" text-anchor="end" fill="#2a2a2a" stroke="#2a2a2a" stroke-width="0.1">1</text>
<line x1="44.8" y1="415.3" x2="48.4" y2="415.3" stroke="#222" stroke-width="0.9"/>
<text x="42.2" y="417.2" font-size="5.5" text-anchor="end" fill="#2a2a2a" stroke="#2a2a2a" stroke-width="0.1">0</text>
<line x1="44.8" y1="427.4" x2="48.4" y2="427.4" stroke="#222" stroke-width="0.9"/>
<text x="42.2" y="429.3" font-size="5.5" text-anchor="end" fill="#2a2a2a" stroke="#2a2a2a" stroke-width="0.1">−1</text>
<line x1="44.8" y1="438.9" x2="48.4" y2="438.9" stroke="#222" stroke-width="0.9"/>
<text x="42.2" y="440.8" font-size="5.5" text-anchor="end" fill="#2a2a2a" stroke="#2a2a2a" stroke-width="0.1">−2</text>
<line x1="44.8" y1="450.5" x2="48.4" y2="450.5" stroke="#222" stroke-width="0.9"/>
<text x="42.2" y="452.4" font-size="5.5" text-anchor="end" fill="#2a2a2a" stroke="#2a2a2a" stroke-width="0.1">−3</text>
<line x1="26.5" y1="392.8" x2="26.5" y2="451.9" stroke="#333" stroke-width="1"/>
<text x="20.9" y="422.35" font-size="8.3" text-anchor="middle" fill="#1a1a1a" stroke="#1a1a1a" stroke-width="0.12" transform="rotate(-90 20.9 422.35)" textLength="20" lengthAdjust="spacingAndGlyphs">STAT3</text>
<rect x="48.9" y="481.5" width="1.2" height="25.26" fill="#74b25a"/>
<rect x="50.47" y="481.5" width="1.2" height="11.74" fill="#d0c9d0"/>
<rect x="52.05" y="481.5" width="1.2" height="8.95" fill="#4b7661"/>
<rect x="53.62" y="481.5" width="1.2" height="5.31" fill="#80ad63"/>
<rect x="55.2" y="481.5" width="1.2" height="4.15" fill="#b13a4d"/>
<rect x="56.77" y="481.5" width="1.2" height="3.53" fill="#d0c9d0"/>
<rect x="58.34" y="481.5" width="1.2" height="1.93" fill="#d0c9d0"/>
<rect x="59.92" y="481.5" width="1.2" height="1.01" fill="#d0c9d0"/>
<rect x="61.49" y="481.5" width="1.2" height="0.65" fill="#d0c9d0"/>
<rect x="63.07" y="481.5" width="1.2" height="0.39" fill="#d0c9d0"/>
<rect x="64.64" y="480.74" width="1.2" height="0.76" fill="#d0c9d0"/>
<rect x="66.21" y="479.98" width="1.2" height="1.52" fill="#d0c9d0"/>
<rect x="67.79" y="478.27" width="1.2" height="3.23" fill="#e0dae0"/>
<rect x="69.36" y="476.46" width="1.2" height="5.04" fill="#b13a4d"/>
<rect x="70.94" y="475.64" width="1.2" height="5.86" fill="#b13a4d"/>
<rect x="72.51" y="475.09" width="1.2" height="6.41" fill="#a9a6b1"/>
<rect x="74.09" y="474.55" width="1.2" height="6.95" fill="#b13a4d"/>
<rect x="75.66" y="473.76" width="1.2" height="7.74" fill="#a9a6b1"/>
<rect x="77.23" y="471.97" width="1.2" height="9.53" fill="#a9a6b1"/>
<rect x="78.81" y="470.97" width="1.2" height="10.53" fill="#d0c9d0"/>
<rect x="80.38" y="469.63" width="1.2" height="11.87" fill="#d0c9d0"/>
<rect x="81.96" y="469.02" width="1.2" height="12.48" fill="#d0c9d0"/>
<rect x="83.53" y="468.31" width="1.2" height="13.19" fill="#d6a9b5"/>
<rect x="85.1" y="467.28" width="1.2" height="14.22" fill="#d0c9d0"/>
<rect x="86.68" y="465.52" width="1.2" height="15.98" fill="#d0c9d0"/>
<rect x="88.25" y="464.24" width="1.2" height="17.26" fill="#5f6172"/>
<rect x="89.83" y="462.57" width="1.2" height="18.93" fill="#d0c9d0"/>
<rect x="91.4" y="460.8" width="1.2" height="20.7" fill="#a9a6b1"/>
<rect x="102.4" y="481.5" width="1.2" height="12.56" fill="#a9a6b1"/>
<rect x="103.92" y="481.5" width="1.2" height="10.99" fill="#d6a9b5"/>
<rect x="105.44" y="481.5" width="1.2" height="9.47" fill="#d0c9d0"/>
<rect x="106.96" y="481.5" width="1.2" height="8.78" fill="#d0c9d0"/>
<rect x="108.48" y="481.5" width="1.2" height="7.28" fill="#e0dae0"/>
<rect x="110" y="481.5" width="1.2" height="6.93" fill="#e0dae0"/>
<rect x="111.52" y="481.5" width="1.2" height="5.75" fill="#d0c9d0"/>
<rect x="113.04" y="481.5" width="1.2" height="4.82" fill="#b13a4d"/>
<rect x="114.56" y="481.5" width="1.2" height="4.7" fill="#b13a4d"/>
<rect x="116.08" y="481.5" width="1.2" height="4.19" fill="#d0c9d0"/>
<rect x="117.6" y="481.5" width="1.2" height="3.77" fill="#d0c9d0"/>
<rect x="119.12" y="481.5" width="1.2" height="3.32" fill="#d0c9d0"/>
<rect x="120.64" y="481.5" width="1.2" height="2.82" fill="#d0c9d0"/>
<rect x="122.16" y="481.5" width="1.2" height="1.85" fill="#d0c9d0"/>
<rect x="123.68" y="481.5" width="1.2" height="1.98" fill="#d0c9d0"/>
<rect x="125.2" y="481.5" width="1.2" height="1.35" fill="#d0c9d0"/>
<rect x="126.72" y="481.5" width="1.2" height="1.12" fill="#d0c9d0"/>
<rect x="128.24" y="481.5" width="1.2" height="0.69" fill="#d0c9d0"/>
<rect x="129.76" y="481.5" width="1.2" height="0.47" fill="#b13a4d"/>
<rect x="131.28" y="481.5" width="1.2" height="0.18" fill="#4b7661"/>
<rect x="132.8" y="481.15" width="1.2" height="0.35" fill="#d0c9d0"/>
<rect x="134.32" y="480.12" width="1.2" height="1.38" fill="#e0dae0"/>
<rect x="135.84" y="478.22" width="1.2" height="3.28" fill="#d0c9d0"/>
<rect x="137.36" y="477.45" width="1.2" height="4.05" fill="#5f6172"/>
<rect x="138.88" y="476.56" width="1.2" height="4.94" fill="#d0c9d0"/>
<rect x="140.4" y="475.1" width="1.2" height="6.4" fill="#e0dae0"/>
<rect x="93.65" y="481.5" width="1.1" height="14.2" fill="#d0c9d0"/>
<rect x="94.25" y="481.5" width="1.1" height="8" fill="#6a6c7c"/>
<rect x="96.95" y="481.5" width="1.1" height="3.5" fill="#a9a6b1"/>
<rect x="98.95" y="470.2" width="1.1" height="11.3" fill="#d0c9d0"/>
<rect x="100.15" y="481.5" width="1.1" height="15.2" fill="#e0dae0"/>
<rect x="48.4" y="457.2" width="94.8" height="60.8" fill="none" stroke="#1a1a1a" stroke-width="1.1"/>
<line x1="44.8" y1="468.2" x2="48.4" y2="468.2" stroke="#222" stroke-width="0.9"/>
<text x="42.2" y="470.1" font-size="5.5" text-anchor="end" fill="#2a2a2a" stroke="#2a2a2a" stroke-width="0.1">1</text>
<line x1="44.8" y1="481.2" x2="48.4" y2="481.2" stroke="#222" stroke-width="0.9"/>
<text x="42.2" y="483.1" font-size="5.5" text-anchor="end" fill="#2a2a2a" stroke="#2a2a2a" stroke-width="0.1">0</text>
<line x1="44.8" y1="494.1" x2="48.4" y2="494.1" stroke="#222" stroke-width="0.9"/>
<text x="42.2" y="496" font-size="5.5" text-anchor="end" fill="#2a2a2a" stroke="#2a2a2a" stroke-width="0.1">−1</text>
<line x1="44.8" y1="507.1" x2="48.4" y2="507.1" stroke="#222" stroke-width="0.9"/>
<text x="42.2" y="509" font-size="5.5" text-anchor="end" fill="#2a2a2a" stroke="#2a2a2a" stroke-width="0.1">−2</text>
<line x1="26.5" y1="457.2" x2="26.5" y2="518" stroke="#333" stroke-width="1"/>
<text x="20.9" y="487.6" font-size="8.3" text-anchor="middle" fill="#1a1a1a" stroke="#1a1a1a" stroke-width="0.12" transform="rotate(-90 20.9 487.6)" textLength="20" lengthAdjust="spacingAndGlyphs">FOXO1</text>
<text x="94.7" y="175.1" font-size="6.3" text-anchor="middle" fill="#1a1a1a" stroke="#1a1a1a" stroke-width="0.11" textLength="68" lengthAdjust="spacingAndGlyphs">Relative mRNA Expression</text>
<line x1="48.5" y1="178.8" x2="144.6" y2="178.8" stroke="#999" stroke-width="1.1"/>
<text x="73" y="187.3" font-size="6.3" text-anchor="middle" fill="#1a1a1a" stroke="#1a1a1a" stroke-width="0.11" textLength="17.3" lengthAdjust="spacingAndGlyphs">GATA3</text>
<line x1="48.5" y1="191.6" x2="95.2" y2="191.6" stroke="#2a2a2a" stroke-width="1.15"/>
<text x="125.5" y="187.3" font-size="6.3" text-anchor="middle" fill="#1a1a1a" stroke="#1a1a1a" stroke-width="0.11" textLength="16.4" lengthAdjust="spacingAndGlyphs">TBX21</text>
<line x1="102.9" y1="191.6" x2="144.8" y2="191.6" stroke="#2a2a2a" stroke-width="1.15"/>
<text x="8.4" y="155.6" font-size="11.5" text-anchor="start" fill="#111">B</text>
<text x="54" y="526" font-size="5.4" text-anchor="start" fill="#1a1a1a" stroke="#1a1a1a" stroke-width="0.1" textLength="21" lengthAdjust="spacingAndGlyphs">CN Status</text>
<rect x="46.2" y="528.6" width="5.1" height="5.1" fill="#3d6b55"/>
<text x="54" y="533.1" font-size="5.4" text-anchor="start" fill="#1a1a1a" stroke="#1a1a1a" stroke-width="0.1" textLength="39.8" lengthAdjust="spacingAndGlyphs">Homozygous Loss</text>
<rect x="46.2" y="536.45" width="5.1" height="5.1" fill="#6aab50"/>
<text x="54" y="540.95" font-size="5.4" text-anchor="start" fill="#1a1a1a" stroke="#1a1a1a" stroke-width="0.1" textLength="11" lengthAdjust="spacingAndGlyphs">Loss</text>
<rect x="46.2" y="544.3" width="5.1" height="5.1" fill="#585c6e"/>
<text x="54" y="548.8" font-size="5.4" text-anchor="start" fill="#1a1a1a" stroke="#1a1a1a" stroke-width="0.1" textLength="7.5" lengthAdjust="spacingAndGlyphs">WT</text>
<rect x="46.2" y="552.15" width="5.1" height="5.1" fill="#b02840"/>
<text x="54" y="556.65" font-size="5.4" text-anchor="start" fill="#1a1a1a" stroke="#1a1a1a" stroke-width="0.1" textLength="10.5" lengthAdjust="spacingAndGlyphs">Gain</text>
<rect x="46.2" y="560" width="5.1" height="5.1" fill="#5e4426"/>
<text x="54" y="564.5" font-size="5.4" text-anchor="start" fill="#1a1a1a" stroke="#1a1a1a" stroke-width="0.1" textLength="30" lengthAdjust="spacingAndGlyphs">Amplification</text>
<rect x="46.2" y="567.85" width="5.1" height="5.1" fill="#cfcacf"/>
<text x="54" y="572.35" font-size="5.4" text-anchor="start" fill="#1a1a1a" stroke="#1a1a1a" stroke-width="0.1" textLength="21.7" lengthAdjust="spacingAndGlyphs">Unknown</text>
<line x1="166.6" y1="223.1" x2="239.8" y2="223.1" stroke="#6a6a6a" stroke-width="1" stroke-dasharray="3.2,2.4"/>
<rect x="168.25" y="223.1" width="5.9" height="19.1" fill="#46755e"/>
<rect x="174.95" y="223.1" width="5.9" height="2.7" fill="#7db35e"/>
<rect x="181.85" y="223.1" width="5.9" height="1.1" fill="#d5cdd4"/>
<rect x="188.85" y="212" width="5.9" height="11.1" fill="#b33c50"/>
<rect x="210.95" y="223.1" width="5.9" height="3.1" fill="#7db35e"/>
<rect x="217.85" y="222.5" width="5.9" height="1.5" fill="#d5cdd4"/>
<line x1="171.2" y1="242.2" x2="171.2" y2="253.2" stroke="#222" stroke-width="0.8"/>
<line x1="169.8" y1="242.2" x2="172.6" y2="242.2" stroke="#222" stroke-width="0.8"/>
<line x1="169.8" y1="253.2" x2="172.6" y2="253.2" stroke="#222" stroke-width="0.8"/>
<line x1="177.9" y1="215.6" x2="177.9" y2="236.2" stroke="#222" stroke-width="0.8"/>
<line x1="176.5" y1="215.6" x2="179.3" y2="215.6" stroke="#222" stroke-width="0.8"/>
<line x1="176.5" y1="236.2" x2="179.3" y2="236.2" stroke="#222" stroke-width="0.8"/>
<line x1="184.8" y1="211.2" x2="184.8" y2="236.2" stroke="#222" stroke-width="0.8"/>
<line x1="183.4" y1="211.2" x2="186.2" y2="211.2" stroke="#222" stroke-width="0.8"/>
<line x1="183.4" y1="236.2" x2="186.2" y2="236.2" stroke="#222" stroke-width="0.8"/>
<line x1="220.8" y1="214.7" x2="220.8" y2="227.8" stroke="#222" stroke-width="0.8"/>
<line x1="219.4" y1="214.7" x2="222.2" y2="214.7" stroke="#222" stroke-width="0.8"/>
<line x1="219.4" y1="227.8" x2="222.2" y2="227.8" stroke="#222" stroke-width="0.8"/>
<line x1="170.6" y1="212.3" x2="170.6" y2="210.8" stroke="#222" stroke-width="0.8"/>
<line x1="170.6" y1="210.8" x2="185.2" y2="210.8" stroke="#222" stroke-width="0.8"/>
<line x1="185.2" y1="210.8" x2="185.2" y2="212.3" stroke="#222" stroke-width="0.8"/>
<text x="177.9" y="211.8" font-size="6" text-anchor="middle" fill="#222" stroke="#222" stroke-width="0.11">*</text>
<rect x="166.6" y="194.2" width="73.2" height="61.9" fill="none" stroke="#1a1a1a" stroke-width="1"/>
<line x1="203.2" y1="194.2" x2="203.2" y2="256.1" stroke="#1a1a1a" stroke-width="1"/>
<line x1="163.4" y1="205.9" x2="166.6" y2="205.9" stroke="#222" stroke-width="0.9"/>
<text x="161.7" y="207.8" font-size="5.6" text-anchor="end" fill="#2a2a2a" stroke="#2a2a2a" stroke-width="0.1">2.5</text>
<line x1="163.4" y1="223.1" x2="166.6" y2="223.1" stroke="#222" stroke-width="0.9"/>
<text x="161.7" y="225" font-size="5.6" text-anchor="end" fill="#2a2a2a" stroke="#2a2a2a" stroke-width="0.1">0</text>
<line x1="163.4" y1="239.5" x2="166.6" y2="239.5" stroke="#222" stroke-width="0.9"/>
<text x="161.7" y="241.4" font-size="5.6" text-anchor="end" fill="#2a2a2a" stroke="#2a2a2a" stroke-width="0.1">−2.5</text>
<line x1="166.6" y1="289.4" x2="239.8" y2="289.4" stroke="#6a6a6a" stroke-width="1" stroke-dasharray="3.2,2.4"/>
<rect x="174.95" y="282" width="5.9" height="7.4" fill="#7db35e"/>
<rect x="181.85" y="289.4" width="5.9" height="4.4" fill="#d5cdd4"/>
<rect x="188.85" y="283.6" width="5.9" height="5.8" fill="#b33c50"/>
<rect x="195.65" y="271.5" width="5.9" height="17.9" fill="#6e4e2c"/>
<rect x="210.95" y="289.4" width="5.9" height="11" fill="#7db35e"/>
<rect x="217.85" y="288.5" width="5.9" height="2" fill="#d5cdd4"/>
<rect x="224.95" y="285.4" width="5.9" height="4" fill="#b33c50"/>
<line x1="184.8" y1="285.4" x2="184.8" y2="302.6" stroke="#222" stroke-width="0.8"/>
<line x1="183.4" y1="285.4" x2="186.2" y2="285.4" stroke="#222" stroke-width="0.8"/>
<line x1="183.4" y1="302.6" x2="186.2" y2="302.6" stroke="#222" stroke-width="0.8"/>
<line x1="191.8" y1="277.6" x2="191.8" y2="289" stroke="#222" stroke-width="0.8"/>
<line x1="190.4" y1="277.6" x2="193.2" y2="277.6" stroke="#222" stroke-width="0.8"/>
<line x1="190.4" y1="289" x2="193.2" y2="289" stroke="#222" stroke-width="0.8"/>
<line x1="198.6" y1="263.3" x2="198.6" y2="271.5" stroke="#222" stroke-width="0.8"/>
<line x1="197.2" y1="263.3" x2="200" y2="263.3" stroke="#222" stroke-width="0.8"/>
<line x1="197.2" y1="271.5" x2="200" y2="271.5" stroke="#222" stroke-width="0.8"/>
<line x1="220.8" y1="286" x2="220.8" y2="295.3" stroke="#222" stroke-width="0.8"/>
<line x1="219.4" y1="286" x2="222.2" y2="286" stroke="#222" stroke-width="0.8"/>
<line x1="219.4" y1="295.3" x2="222.2" y2="295.3" stroke="#222" stroke-width="0.8"/>
<line x1="227.9" y1="278.7" x2="227.9" y2="292" stroke="#222" stroke-width="0.8"/>
<line x1="226.5" y1="278.7" x2="229.3" y2="278.7" stroke="#222" stroke-width="0.8"/>
<line x1="226.5" y1="292" x2="229.3" y2="292" stroke="#222" stroke-width="0.8"/>
<line x1="221.3" y1="278" x2="221.3" y2="276.5" stroke="#222" stroke-width="0.8"/>
<line x1="221.3" y1="276.5" x2="228.6" y2="276.5" stroke="#222" stroke-width="0.8"/>
<line x1="228.6" y1="276.5" x2="228.6" y2="278" stroke="#222" stroke-width="0.8"/>
<text x="224.95" y="277.7" font-size="6" text-anchor="middle" fill="#222" stroke="#222" stroke-width="0.11">*</text>
<line x1="184.8" y1="260.8" x2="199.2" y2="260.8" stroke="#111" stroke-width="1.6"/>
<line x1="182" y1="260.2" x2="192" y2="260.2" stroke="#111" stroke-width="1.4"/>
<text x="186.5" y="264.5" font-size="4" text-anchor="middle" fill="#222" stroke="#222" stroke-width="0.07">**</text>
<rect x="166.6" y="260" width="73.2" height="62.3" fill="none" stroke="#1a1a1a" stroke-width="1"/>
<line x1="203.2" y1="260" x2="203.2" y2="322.3" stroke="#1a1a1a" stroke-width="1"/>
<line x1="163.4" y1="272.8" x2="166.6" y2="272.8" stroke="#222" stroke-width="0.9"/>
<text x="161.7" y="274.7" font-size="5.6" text-anchor="end" fill="#2a2a2a" stroke="#2a2a2a" stroke-width="0.1">2.5</text>
<line x1="163.4" y1="289.4" x2="166.6" y2="289.4" stroke="#222" stroke-width="0.9"/>
<text x="161.7" y="291.3" font-size="5.6" text-anchor="end" fill="#2a2a2a" stroke="#2a2a2a" stroke-width="0.1">0</text>
<line x1="163.4" y1="306" x2="166.6" y2="306" stroke="#222" stroke-width="0.9"/>
<text x="161.7" y="307.9" font-size="5.6" text-anchor="end" fill="#2a2a2a" stroke="#2a2a2a" stroke-width="0.1">−2.5</text>
<line x1="166.6" y1="354.3" x2="239.8" y2="354.3" stroke="#6a6a6a" stroke-width="1" stroke-dasharray="3.2,2.4"/>
<rect x="174.95" y="350.3" width="5.9" height="6" fill="#7db35e"/>
<rect x="181.85" y="354.3" width="5.9" height="1.3" fill="#d5cdd4"/>
<rect x="188.85" y="348.7" width="5.9" height="5.6" fill="#b33c50"/>
<rect x="195.65" y="346.1" width="5.9" height="8.2" fill="#6e4e2c"/>
<rect x="210.95" y="354.3" width="5.9" height="7.1" fill="#7db35e"/>
<rect x="217.85" y="353.8" width="5.9" height="1.2" fill="#d5cdd4"/>
<rect x="224.95" y="353.5" width="5.9" height="2.5" fill="#b33c50"/>
<line x1="177.9" y1="341.7" x2="177.9" y2="358" stroke="#222" stroke-width="0.8"/>
<line x1="176.5" y1="341.7" x2="179.3" y2="341.7" stroke="#222" stroke-width="0.8"/>
<line x1="176.5" y1="358" x2="179.3" y2="358" stroke="#222" stroke-width="0.8"/>
<line x1="184.8" y1="349.4" x2="184.8" y2="362.5" stroke="#222" stroke-width="0.8"/>
<line x1="183.4" y1="349.4" x2="186.2" y2="349.4" stroke="#222" stroke-width="0.8"/>
<line x1="183.4" y1="362.5" x2="186.2" y2="362.5" stroke="#222" stroke-width="0.8"/>
<line x1="191.8" y1="342.1" x2="191.8" y2="354" stroke="#222" stroke-width="0.8"/>
<line x1="190.4" y1="342.1" x2="193.2" y2="342.1" stroke="#222" stroke-width="0.8"/>
<line x1="190.4" y1="354" x2="193.2" y2="354" stroke="#222" stroke-width="0.8"/>
<line x1="198.6" y1="341.7" x2="198.6" y2="346.1" stroke="#222" stroke-width="0.8"/>
<line x1="197.2" y1="341.7" x2="200" y2="341.7" stroke="#222" stroke-width="0.8"/>
<line x1="197.2" y1="346.1" x2="200" y2="346.1" stroke="#222" stroke-width="0.8"/>
<line x1="220.8" y1="350.5" x2="220.8" y2="357.6" stroke="#222" stroke-width="0.8"/>
<line x1="219.4" y1="350.5" x2="222.2" y2="350.5" stroke="#222" stroke-width="0.8"/>
<line x1="219.4" y1="357.6" x2="222.2" y2="357.6" stroke="#222" stroke-width="0.8"/>
<line x1="227.9" y1="351" x2="227.9" y2="358.5" stroke="#222" stroke-width="0.8"/>
<line x1="226.5" y1="351" x2="229.3" y2="351" stroke="#222" stroke-width="0.8"/>
<line x1="226.5" y1="358.5" x2="229.3" y2="358.5" stroke="#222" stroke-width="0.8"/>
<line x1="184.8" y1="340.3" x2="184.8" y2="338.8" stroke="#222" stroke-width="0.8"/>
<line x1="184.8" y1="338.8" x2="198.6" y2="338.8" stroke="#222" stroke-width="0.8"/>
<line x1="198.6" y1="338.8" x2="198.6" y2="340.3" stroke="#222" stroke-width="0.8"/>
<text x="191.7" y="339.2" font-size="6" text-anchor="middle" fill="#222" stroke="#222" stroke-width="0.11">*</text>
<rect x="166.6" y="326" width="73.2" height="61.4" fill="none" stroke="#1a1a1a" stroke-width="1"/>
<line x1="203.2" y1="326" x2="203.2" y2="387.4" stroke="#1a1a1a" stroke-width="1"/>
<line x1="163.4" y1="337.7" x2="166.6" y2="337.7" stroke="#222" stroke-width="0.9"/>
<text x="161.7" y="339.6" font-size="5.6" text-anchor="end" fill="#2a2a2a" stroke="#2a2a2a" stroke-width="0.1">2.5</text>
<line x1="163.4" y1="354.3" x2="166.6" y2="354.3" stroke="#222" stroke-width="0.9"/>
<text x="161.7" y="356.2" font-size="5.6" text-anchor="end" fill="#2a2a2a" stroke="#2a2a2a" stroke-width="0.1">0</text>
<line x1="163.4" y1="370.9" x2="166.6" y2="370.9" stroke="#222" stroke-width="0.9"/>
<text x="161.7" y="372.8" font-size="5.6" text-anchor="end" fill="#2a2a2a" stroke="#2a2a2a" stroke-width="0.1">−2.5</text>
<line x1="166.6" y1="418.6" x2="239.8" y2="418.6" stroke="#6a6a6a" stroke-width="1" stroke-dasharray="3.2,2.4"/>
<rect x="174.95" y="418.6" width="5.9" height="6.2" fill="#7db35e"/>
<rect x="181.85" y="418.6" width="5.9" height="8" fill="#d5cdd4"/>
<rect x="188.85" y="418.1" width="5.9" height="1" fill="#b33c50"/>
<rect x="210.95" y="418.6" width="5.9" height="8.9" fill="#7db35e"/>
<rect x="217.85" y="418" width="5.9" height="1.5" fill="#d5cdd4"/>
<rect x="224.95" y="416" width="5.9" height="2.6" fill="#b33c50"/>
<line x1="184.8" y1="418.6" x2="184.8" y2="432.5" stroke="#222" stroke-width="0.8"/>
<line x1="183.4" y1="418.6" x2="186.2" y2="418.6" stroke="#222" stroke-width="0.8"/>
<line x1="183.4" y1="432.5" x2="186.2" y2="432.5" stroke="#222" stroke-width="0.8"/>
<line x1="191.8" y1="414.4" x2="191.8" y2="421.5" stroke="#222" stroke-width="0.8"/>
<line x1="190.4" y1="414.4" x2="193.2" y2="414.4" stroke="#222" stroke-width="0.8"/>
<line x1="190.4" y1="421.5" x2="193.2" y2="421.5" stroke="#222" stroke-width="0.8"/>
<line x1="220.8" y1="414.4" x2="220.8" y2="421" stroke="#222" stroke-width="0.8"/>
<line x1="219.4" y1="414.4" x2="222.2" y2="414.4" stroke="#222" stroke-width="0.8"/>
<line x1="219.4" y1="421" x2="222.2" y2="421" stroke="#222" stroke-width="0.8"/>
<line x1="227.9" y1="413.2" x2="227.9" y2="418" stroke="#222" stroke-width="0.8"/>
<line x1="226.5" y1="413.2" x2="229.3" y2="413.2" stroke="#222" stroke-width="0.8"/>
<line x1="226.5" y1="418" x2="229.3" y2="418" stroke="#222" stroke-width="0.8"/>
<line x1="184.8" y1="412.6" x2="184.8" y2="411.1" stroke="#222" stroke-width="0.8"/>
<line x1="184.8" y1="411.1" x2="191.4" y2="411.1" stroke="#222" stroke-width="0.8"/>
<line x1="191.4" y1="411.1" x2="191.4" y2="412.6" stroke="#222" stroke-width="0.8"/>
<text x="188.1" y="412.2" font-size="6" text-anchor="middle" fill="#222" stroke="#222" stroke-width="0.11">*</text>
<rect x="166.6" y="391.2" width="73.2" height="60.7" fill="none" stroke="#1a1a1a" stroke-width="1"/>
<line x1="203.2" y1="391.2" x2="203.2" y2="451.9" stroke="#1a1a1a" stroke-width="1"/>
<line x1="163.4" y1="402" x2="166.6" y2="402" stroke="#222" stroke-width="0.9"/>
<text x="161.7" y="403.9" font-size="5.6" text-anchor="end" fill="#2a2a2a" stroke="#2a2a2a" stroke-width="0.1">2.5</text>
<line x1="163.4" y1="418.6" x2="166.6" y2="418.6" stroke="#222" stroke-width="0.9"/>
<text x="161.7" y="420.5" font-size="5.6" text-anchor="end" fill="#2a2a2a" stroke="#2a2a2a" stroke-width="0.1">0</text>
<line x1="163.4" y1="435.4" x2="166.6" y2="435.4" stroke="#222" stroke-width="0.9"/>
<text x="161.7" y="437.3" font-size="5.6" text-anchor="end" fill="#2a2a2a" stroke="#2a2a2a" stroke-width="0.1">−2.5</text>
<line x1="166.6" y1="486" x2="239.8" y2="486" stroke="#6a6a6a" stroke-width="1" stroke-dasharray="3.2,2.4"/>
<rect x="174.95" y="483.2" width="5.9" height="7.3" fill="#7db35e"/>
<rect x="188.85" y="483.2" width="5.9" height="2.6" fill="#b33c50"/>
<rect x="217.85" y="485.4" width="5.9" height="2.6" fill="#d5cdd4"/>
<rect x="224.95" y="485" width="5.9" height="2" fill="#b33c50"/>
<line x1="177.9" y1="479.9" x2="177.9" y2="497.1" stroke="#222" stroke-width="0.8"/>
<line x1="176.5" y1="479.9" x2="179.3" y2="479.9" stroke="#222" stroke-width="0.8"/>
<line x1="176.5" y1="497.1" x2="179.3" y2="497.1" stroke="#222" stroke-width="0.8"/>
<line x1="184.8" y1="483.2" x2="184.8" y2="488.3" stroke="#222" stroke-width="0.8"/>
<line x1="183.4" y1="483.2" x2="186.2" y2="483.2" stroke="#222" stroke-width="0.8"/>
<line x1="183.4" y1="488.3" x2="186.2" y2="488.3" stroke="#222" stroke-width="0.8"/>
<line x1="191.8" y1="478.3" x2="191.8" y2="487.6" stroke="#222" stroke-width="0.8"/>
<line x1="190.4" y1="478.3" x2="193.2" y2="478.3" stroke="#222" stroke-width="0.8"/>
<line x1="190.4" y1="487.6" x2="193.2" y2="487.6" stroke="#222" stroke-width="0.8"/>
<line x1="220.8" y1="485.4" x2="220.8" y2="491.4" stroke="#222" stroke-width="0.8"/>
<line x1="219.4" y1="485.4" x2="222.2" y2="485.4" stroke="#222" stroke-width="0.8"/>
<line x1="219.4" y1="491.4" x2="222.2" y2="491.4" stroke="#222" stroke-width="0.8"/>
<line x1="227.9" y1="483.5" x2="227.9" y2="488" stroke="#222" stroke-width="0.8"/>
<line x1="226.5" y1="483.5" x2="229.3" y2="483.5" stroke="#222" stroke-width="0.8"/>
<line x1="226.5" y1="488" x2="229.3" y2="488" stroke="#222" stroke-width="0.8"/>
<line x1="177.7" y1="480.9" x2="177.7" y2="479.4" stroke="#222" stroke-width="0.8"/>
<line x1="177.7" y1="479.4" x2="184.8" y2="479.4" stroke="#222" stroke-width="0.8"/>
<line x1="184.8" y1="479.4" x2="184.8" y2="480.9" stroke="#222" stroke-width="0.8"/>
<text x="181.25" y="480.8" font-size="6" text-anchor="middle" fill="#222" stroke="#222" stroke-width="0.11">*</text>
<rect x="166.6" y="458.4" width="73.2" height="60" fill="none" stroke="#1a1a1a" stroke-width="1"/>
<line x1="203.2" y1="458.4" x2="203.2" y2="518.4" stroke="#1a1a1a" stroke-width="1"/>
<line x1="163.4" y1="469.9" x2="166.6" y2="469.9" stroke="#222" stroke-width="0.9"/>
<text x="161.7" y="471.8" font-size="5.6" text-anchor="end" fill="#2a2a2a" stroke="#2a2a2a" stroke-width="0.1">2.5</text>
<line x1="163.4" y1="486" x2="166.6" y2="486" stroke="#222" stroke-width="0.9"/>
<text x="161.7" y="487.9" font-size="5.6" text-anchor="end" fill="#2a2a2a" stroke="#2a2a2a" stroke-width="0.1">0</text>
<line x1="163.4" y1="502.4" x2="166.6" y2="502.4" stroke="#222" stroke-width="0.9"/>
<text x="161.7" y="504.3" font-size="5.6" text-anchor="end" fill="#2a2a2a" stroke="#2a2a2a" stroke-width="0.1">−2.5</text>
<text x="200.7" y="166.7" font-size="6.1" text-anchor="middle" fill="#1a1a1a" stroke="#1a1a1a" stroke-width="0.11" textLength="60.6" lengthAdjust="spacingAndGlyphs">Median-Centered Log2</text>
<text x="200.4" y="174.1" font-size="6.1" text-anchor="middle" fill="#1a1a1a" stroke="#1a1a1a" stroke-width="0.11" textLength="46.7" lengthAdjust="spacingAndGlyphs">mRNA Expression</text>
<line x1="167.8" y1="178.8" x2="240" y2="178.8" stroke="#999" stroke-width="1.1"/>
<text x="184" y="187.1" font-size="6.3" text-anchor="middle" fill="#1a1a1a" stroke="#1a1a1a" stroke-width="0.11" textLength="17.7" lengthAdjust="spacingAndGlyphs">GATA3</text>
<line x1="166.6" y1="191.6" x2="201.4" y2="191.6" stroke="#2a2a2a" stroke-width="1.15"/>
<text x="221.2" y="187.1" font-size="6.3" text-anchor="middle" fill="#1a1a1a" stroke="#1a1a1a" stroke-width="0.11" textLength="16.8" lengthAdjust="spacingAndGlyphs">TBX21</text>
<line x1="205" y1="191.6" x2="240" y2="191.6" stroke="#2a2a2a" stroke-width="1.15"/>
<line x1="172.3" y1="518.4" x2="172.3" y2="521.4" stroke="#333" stroke-width="0.7"/>
<text x="174.1" y="524.2" font-size="5.2" text-anchor="end" fill="#333" stroke="#333" stroke-width="0.09" transform="rotate(-90 174.1 524.2)" textLength="41" lengthAdjust="spacingAndGlyphs">Homozygous Loss</text>
<line x1="179.3" y1="518.4" x2="179.3" y2="521.4" stroke="#333" stroke-width="0.7"/>
<text x="181.1" y="524.2" font-size="5.2" text-anchor="end" fill="#333" stroke="#333" stroke-width="0.09" transform="rotate(-90 181.1 524.2)" textLength="11" lengthAdjust="spacingAndGlyphs">Loss</text>
<line x1="185.8" y1="518.4" x2="185.8" y2="521.4" stroke="#333" stroke-width="0.7"/>
<text x="187.6" y="524.2" font-size="5.2" text-anchor="end" fill="#333" stroke="#333" stroke-width="0.09" transform="rotate(-90 187.6 524.2)" textLength="7" lengthAdjust="spacingAndGlyphs">WT</text>
<line x1="192.7" y1="518.4" x2="192.7" y2="521.4" stroke="#333" stroke-width="0.7"/>
<text x="194.5" y="524.2" font-size="5.2" text-anchor="end" fill="#333" stroke="#333" stroke-width="0.09" transform="rotate(-90 194.5 524.2)" textLength="10.5" lengthAdjust="spacingAndGlyphs">Gain</text>
<line x1="199.7" y1="518.4" x2="199.7" y2="521.4" stroke="#333" stroke-width="0.7"/>
<text x="201.5" y="524.2" font-size="5.2" text-anchor="end" fill="#333" stroke="#333" stroke-width="0.09" transform="rotate(-90 201.5 524.2)" textLength="30" lengthAdjust="spacingAndGlyphs">Amplification</text>
<line x1="207.4" y1="518.4" x2="207.4" y2="521.4" stroke="#333" stroke-width="0.7"/>
<text x="209.2" y="524.2" font-size="5.2" text-anchor="end" fill="#333" stroke="#333" stroke-width="0.09" transform="rotate(-90 209.2 524.2)" textLength="41" lengthAdjust="spacingAndGlyphs">Homozygous Loss</text>
<line x1="214.4" y1="518.4" x2="214.4" y2="521.4" stroke="#333" stroke-width="0.7"/>
<text x="216.2" y="524.2" font-size="5.2" text-anchor="end" fill="#333" stroke="#333" stroke-width="0.09" transform="rotate(-90 216.2 524.2)" textLength="11" lengthAdjust="spacingAndGlyphs">Loss</text>
<line x1="221.3" y1="518.4" x2="221.3" y2="521.4" stroke="#333" stroke-width="0.7"/>
<text x="223.1" y="524.2" font-size="5.2" text-anchor="end" fill="#333" stroke="#333" stroke-width="0.09" transform="rotate(-90 223.1 524.2)" textLength="7" lengthAdjust="spacingAndGlyphs">WT</text>
<line x1="228.6" y1="518.4" x2="228.6" y2="521.4" stroke="#333" stroke-width="0.7"/>
<text x="230.4" y="524.2" font-size="5.2" text-anchor="end" fill="#333" stroke="#333" stroke-width="0.09" transform="rotate(-90 230.4 524.2)" textLength="10.5" lengthAdjust="spacingAndGlyphs">Gain</text>
<line x1="236" y1="518.4" x2="236" y2="521.4" stroke="#333" stroke-width="0.7"/>
<text x="237.8" y="524.2" font-size="5.2" text-anchor="end" fill="#333" stroke="#333" stroke-width="0.09" transform="rotate(-90 237.8 524.2)" textLength="30" lengthAdjust="spacingAndGlyphs">Amplification</text>
<text x="389.5" y="152.7" font-size="8" text-anchor="middle" fill="#1a1a1a" stroke="#1a1a1a" stroke-width="0.12" textLength="54.8" lengthAdjust="spacingAndGlyphs">Overall Survival</text>
<line x1="275.7" y1="158.1" x2="506.6" y2="158.1" stroke="#9a9a9a" stroke-width="1"/>
<text x="251.6" y="215.4" font-size="7.6" text-anchor="middle" fill="#1a1a1a" stroke="#1a1a1a" stroke-width="0.12" transform="rotate(-90 251.6 215.4)" textLength="39" lengthAdjust="spacingAndGlyphs">Proportion</text>
<text x="380" y="268" font-size="7.2" text-anchor="middle" fill="#1a1a1a" stroke="#1a1a1a" stroke-width="0.12" textLength="36" lengthAdjust="spacingAndGlyphs">Time (years)</text>
<rect x="275.6" y="185.6" width="53.2" height="59.7" fill="none" stroke="#1a1a1a" stroke-width="1"/>
<line x1="272.8" y1="189" x2="275.6" y2="189" stroke="#333" stroke-width="0.7"/>
<text x="269.6" y="190.9" font-size="5.5" text-anchor="end" fill="#2a2a2a" stroke="#2a2a2a" stroke-width="0.1">1.00</text>
<line x1="272.8" y1="202.5" x2="275.6" y2="202.5" stroke="#333" stroke-width="0.7"/>
<text x="269.6" y="204.4" font-size="5.5" text-anchor="end" fill="#2a2a2a" stroke="#2a2a2a" stroke-width="0.1">0.75</text>
<line x1="272.8" y1="216.3" x2="275.6" y2="216.3" stroke="#333" stroke-width="0.7"/>
<text x="269.6" y="218.2" font-size="5.5" text-anchor="end" fill="#2a2a2a" stroke="#2a2a2a" stroke-width="0.1">0.50</text>
<line x1="272.8" y1="229.4" x2="275.6" y2="229.4" stroke="#333" stroke-width="0.7"/>
<text x="269.6" y="231.3" font-size="5.5" text-anchor="end" fill="#2a2a2a" stroke="#2a2a2a" stroke-width="0.1">0.25</text>
<line x1="272.8" y1="243.1" x2="275.6" y2="243.1" stroke="#333" stroke-width="0.7"/>
<text x="269.6" y="245" font-size="5.5" text-anchor="end" fill="#2a2a2a" stroke="#2a2a2a" stroke-width="0.1">0.00</text>
<line x1="278.1" y1="245.3" x2="278.1" y2="248.1" stroke="#333" stroke-width="0.7"/>
<text x="278.1" y="256.9" font-size="5.4" text-anchor="middle" fill="#333" stroke="#333" stroke-width="0.1">0</text>
<line x1="296.3" y1="245.3" x2="296.3" y2="248.1" stroke="#333" stroke-width="0.7"/>
<text x="296.3" y="256.9" font-size="5.4" text-anchor="middle" fill="#333" stroke="#333" stroke-width="0.1">5</text>
<line x1="314.4" y1="245.3" x2="314.4" y2="248.1" stroke="#333" stroke-width="0.7"/>
<text x="314.4" y="256.9" font-size="5.4" text-anchor="middle" fill="#333" stroke="#333" stroke-width="0.1">10</text>
<text x="302.2" y="181.3" font-size="6" text-anchor="middle" fill="#1a1a1a" stroke="#1a1a1a" stroke-width="0.11" textLength="29" lengthAdjust="spacingAndGlyphs">PTCL-NOS</text>
<text x="325.4" y="193.3" font-size="4.8" text-anchor="end" fill="#555" stroke="#555" stroke-width="0.09">2N</text>
<text x="325.7" y="198.9" font-size="5" text-anchor="end" fill="#74b25a" stroke="#74b25a" stroke-width="0.09" textLength="29.2" lengthAdjust="spacingAndGlyphs">CDKN2A Loss</text>
<rect x="334.8" y="185.6" width="53.3" height="59.7" fill="none" stroke="#1a1a1a" stroke-width="1"/>
<line x1="332" y1="189" x2="334.8" y2="189" stroke="#333" stroke-width="0.7"/>
<line x1="332" y1="202.5" x2="334.8" y2="202.5" stroke="#333" stroke-width="0.7"/>
<line x1="332" y1="216.3" x2="334.8" y2="216.3" stroke="#333" stroke-width="0.7"/>
<line x1="332" y1="229.4" x2="334.8" y2="229.4" stroke="#333" stroke-width="0.7"/>
<line x1="332" y1="243.1" x2="334.8" y2="243.1" stroke="#333" stroke-width="0.7"/>
<line x1="336.9" y1="245.3" x2="336.9" y2="248.1" stroke="#333" stroke-width="0.7"/>
<text x="336.9" y="256.9" font-size="5.4" text-anchor="middle" fill="#333" stroke="#333" stroke-width="0.1">0</text>
<line x1="348.5" y1="245.3" x2="348.5" y2="248.1" stroke="#333" stroke-width="0.7"/>
<text x="348.5" y="256.9" font-size="5.4" text-anchor="middle" fill="#333" stroke="#333" stroke-width="0.1">2</text>
<line x1="360.4" y1="245.3" x2="360.4" y2="248.1" stroke="#333" stroke-width="0.7"/>
<text x="360.4" y="256.9" font-size="5.4" text-anchor="middle" fill="#333" stroke="#333" stroke-width="0.1">4</text>
<line x1="371.9" y1="245.3" x2="371.9" y2="248.1" stroke="#333" stroke-width="0.7"/>
<text x="371.9" y="256.9" font-size="5.4" text-anchor="middle" fill="#333" stroke="#333" stroke-width="0.1">6</text>
<line x1="383.5" y1="245.3" x2="383.5" y2="248.1" stroke="#333" stroke-width="0.7"/>
<text x="383.5" y="256.9" font-size="5.4" text-anchor="middle" fill="#333" stroke="#333" stroke-width="0.1">8</text>
<text x="360" y="181.3" font-size="6" text-anchor="middle" fill="#1a1a1a" stroke="#1a1a1a" stroke-width="0.11" textLength="32.4" lengthAdjust="spacingAndGlyphs">PTCL-GATA3</text>
<text x="384.7" y="193.3" font-size="4.8" text-anchor="end" fill="#555" stroke="#555" stroke-width="0.09">2N</text>
<text x="385" y="198.9" font-size="5" text-anchor="end" fill="#74b25a" stroke="#74b25a" stroke-width="0.09" textLength="29.2" lengthAdjust="spacingAndGlyphs">CDKN2A Loss</text>
<rect x="394.3" y="185.6" width="52.5" height="59.7" fill="none" stroke="#1a1a1a" stroke-width="1"/>
<line x1="391.5" y1="189" x2="394.3" y2="189" stroke="#333" stroke-width="0.7"/>
<line x1="391.5" y1="202.5" x2="394.3" y2="202.5" stroke="#333" stroke-width="0.7"/>
<line x1="391.5" y1="216.3" x2="394.3" y2="216.3" stroke="#333" stroke-width="0.7"/>
<line x1="391.5" y1="229.4" x2="394.3" y2="229.4" stroke="#333" stroke-width="0.7"/>
<line x1="391.5" y1="243.1" x2="394.3" y2="243.1" stroke="#333" stroke-width="0.7"/>
<line x1="396.5" y1="245.3" x2="396.5" y2="248.1" stroke="#333" stroke-width="0.7"/>
<text x="396.5" y="256.9" font-size="5.4" text-anchor="middle" fill="#333" stroke="#333" stroke-width="0.1">0</text>
<line x1="414.9" y1="245.3" x2="414.9" y2="248.1" stroke="#333" stroke-width="0.7"/>
<text x="414.9" y="256.9" font-size="5.4" text-anchor="middle" fill="#333" stroke="#333" stroke-width="0.1">5</text>
<line x1="433.3" y1="245.3" x2="433.3" y2="248.1" stroke="#333" stroke-width="0.7"/>
<text x="433.3" y="256.9" font-size="5.4" text-anchor="middle" fill="#333" stroke="#333" stroke-width="0.1">10</text>
<text x="418.7" y="166.1" font-size="6" text-anchor="middle" fill="#1a1a1a" stroke="#1a1a1a" stroke-width="0.11" textLength="29" lengthAdjust="spacingAndGlyphs">PTCL-NOS</text>
<text x="418.7" y="173.7" font-size="6" text-anchor="middle" fill="#1a1a1a" stroke="#1a1a1a" stroke-width="0.11" textLength="48" lengthAdjust="spacingAndGlyphs">Present Study and</text>
<text x="418.7" y="181.3" font-size="6" text-anchor="middle" fill="#1a1a1a" stroke="#1a1a1a" stroke-width="0.11" textLength="41.5" lengthAdjust="spacingAndGlyphs">Nakagawa et al.</text>
<text x="443.4" y="193.3" font-size="4.8" text-anchor="end" fill="#555" stroke="#555" stroke-width="0.09">2N</text>
<text x="443.7" y="198.9" font-size="5" text-anchor="end" fill="#74b25a" stroke="#74b25a" stroke-width="0.09" textLength="29.2" lengthAdjust="spacingAndGlyphs">CDKN2A Loss</text>
<rect x="453.6" y="185.6" width="52.9" height="59.7" fill="none" stroke="#1a1a1a" stroke-width="1"/>
<line x1="450.8" y1="189" x2="453.6" y2="189" stroke="#333" stroke-width="0.7"/>
<line x1="450.8" y1="202.5" x2="453.6" y2="202.5" stroke="#333" stroke-width="0.7"/>
<line x1="450.8" y1="216.3" x2="453.6" y2="216.3" stroke="#333" stroke-width="0.7"/>
<line x1="450.8" y1="229.4" x2="453.6" y2="229.4" stroke="#333" stroke-width="0.7"/>
<line x1="450.8" y1="243.1" x2="453.6" y2="243.1" stroke="#333" stroke-width="0.7"/>
<line x1="455.8" y1="245.3" x2="455.8" y2="248.1" stroke="#333" stroke-width="0.7"/>
<text x="455.8" y="256.9" font-size="5.4" text-anchor="middle" fill="#333" stroke="#333" stroke-width="0.1">0</text>
<line x1="467.4" y1="245.3" x2="467.4" y2="248.1" stroke="#333" stroke-width="0.7"/>
<text x="467.4" y="256.9" font-size="5.4" text-anchor="middle" fill="#333" stroke="#333" stroke-width="0.1">2</text>
<line x1="478.6" y1="245.3" x2="478.6" y2="248.1" stroke="#333" stroke-width="0.7"/>
<text x="478.6" y="256.9" font-size="5.4" text-anchor="middle" fill="#333" stroke="#333" stroke-width="0.1">4</text>
<line x1="490.3" y1="245.3" x2="490.3" y2="248.1" stroke="#333" stroke-width="0.7"/>
<text x="490.3" y="256.9" font-size="5.4" text-anchor="middle" fill="#333" stroke="#333" stroke-width="0.1">6</text>
<line x1="501.8" y1="245.3" x2="501.8" y2="248.1" stroke="#333" stroke-width="0.7"/>
<text x="501.8" y="256.9" font-size="5.4" text-anchor="middle" fill="#333" stroke="#333" stroke-width="0.1">8</text>
<text x="477.7" y="166.1" font-size="6" text-anchor="middle" fill="#1a1a1a" stroke="#1a1a1a" stroke-width="0.11" textLength="61.6" lengthAdjust="spacingAndGlyphs">PTCL-GATA3/GATA3 IHC</text>
<text x="477.7" y="173.7" font-size="6" text-anchor="middle" fill="#1a1a1a" stroke="#1a1a1a" stroke-width="0.11" textLength="48" lengthAdjust="spacingAndGlyphs">Present Study and</text>
<text x="477.7" y="181.3" font-size="6" text-anchor="middle" fill="#1a1a1a" stroke="#1a1a1a" stroke-width="0.11" textLength="41.5" lengthAdjust="spacingAndGlyphs">Nakagawa et al.</text>
<text x="503.1" y="193.3" font-size="4.8" text-anchor="end" fill="#555" stroke="#555" stroke-width="0.09">2N</text>
<text x="503.4" y="198.9" font-size="5" text-anchor="end" fill="#74b25a" stroke="#74b25a" stroke-width="0.09" textLength="29.2" lengthAdjust="spacingAndGlyphs">CDKN2A Loss</text>
<polyline points="278.1,189 279.4,189 279.4,196.3 280.2,196.3 280.2,200 281.3,200 281.3,207.5 283.1,207.5 283.1,213.8 285.6,213.8 285.6,218.8 286.3,218.8 286.3,221.3 288,221.3 288,224 290,224 290,226.3 296.9,226.3 296.9,228.1 312.5,228.1 312.5,231.3 326.9,231.3 326.9,231.3" fill="none" stroke="#3c3c4c" stroke-width="0.8" stroke-linejoin="round"/>
<line x1="291.5" y1="225.3" x2="291.5" y2="227.3" stroke="#111" stroke-width="0.7"/>
<line x1="293.5" y1="225.3" x2="293.5" y2="227.3" stroke="#111" stroke-width="0.7"/>
<line x1="303" y1="227.1" x2="303" y2="229.1" stroke="#111" stroke-width="0.7"/>
<line x1="306" y1="227.1" x2="306" y2="229.1" stroke="#111" stroke-width="0.7"/>
<line x1="316.5" y1="230.3" x2="316.5" y2="232.3" stroke="#111" stroke-width="0.7"/>
<line x1="319.5" y1="230.3" x2="319.5" y2="232.3" stroke="#111" stroke-width="0.7"/>
<line x1="322.5" y1="230.3" x2="322.5" y2="232.3" stroke="#111" stroke-width="0.7"/>
<line x1="325.5" y1="230.3" x2="325.5" y2="232.3" stroke="#111" stroke-width="0.7"/>
<polyline points="278.1,189 278.8,189 278.8,200 279.4,200 279.4,220 281.3,220 281.3,222.5 281.9,222.5 281.9,230 282.5,230 282.5,235 283.1,235 283.1,238.1 290.3,238.1 290.3,243.1" fill="none" stroke="#74b25a" stroke-width="0.8" stroke-linejoin="round"/>
<line x1="279.8" y1="219" x2="279.8" y2="221" stroke="#111" stroke-width="0.7"/>
<text x="300" y="227.3" font-size="4.8" text-anchor="start" fill="#333" stroke="#333" stroke-width="0.09">n=34</text>
<text x="283.8" y="237" font-size="4.8" text-anchor="start" fill="#333" stroke="#333" stroke-width="0.09">n=14</text>
<text x="276.3" y="244" font-size="4.6" text-anchor="start" fill="#333" stroke="#333" stroke-width="0.08">0.001</text>
<polyline points="337,189 338.8,189 338.8,195 339.4,195 339.4,198.8 340.6,198.8 340.6,206.3 342.5,206.3 342.5,208.8 344.4,208.8 344.4,210.6 345.6,210.6 345.6,213.1 347.5,213.1 347.5,217.5 349.4,217.5 349.4,220 350,220 350,224.4 351.9,224.4 351.9,225.6 353.1,225.6 353.1,228.1 367.5,228.1 367.5,233.4 385.6,233.4 385.6,233.4" fill="none" stroke="#3c3c4c" stroke-width="0.8" stroke-linejoin="round"/>
<line x1="363.5" y1="227.1" x2="363.5" y2="229.1" stroke="#111" stroke-width="0.7"/>
<line x1="381" y1="232.4" x2="381" y2="234.4" stroke="#111" stroke-width="0.7"/>
<line x1="384" y1="232.4" x2="384" y2="234.4" stroke="#111" stroke-width="0.7"/>
<polyline points="337,189 337.5,189 337.5,200 338.1,200 338.1,213.1 338.8,213.1 338.8,223.1 341.9,223.1 341.9,233.1 343.1,233.1 343.1,238.1 356.9,238.1 356.9,243.1" fill="none" stroke="#74b25a" stroke-width="0.8" stroke-linejoin="round"/>
<text x="371.3" y="232" font-size="4.8" text-anchor="start" fill="#333" stroke="#333" stroke-width="0.09">n=56</text>
<text x="345" y="237" font-size="4.8" text-anchor="start" fill="#333" stroke="#333" stroke-width="0.09">n=11</text>
<text x="336" y="244" font-size="4.6" text-anchor="start" fill="#333" stroke="#333" stroke-width="0.08">0.004</text>
<polyline points="396.5,189 397.4,189 397.4,198 398.6,198 398.6,207.5 400.5,207.5 400.5,210.6 402.4,210.6 402.4,213.8 404.3,213.8 404.3,216.9 407.4,216.9 407.4,218.8 409.3,218.8 409.3,221.9 410.5,221.9 410.5,224.4 414.9,224.4 414.9,224.4 417.4,224.4 417.4,226.9 420.5,226.9 420.5,228.1 424.3,228.1 424.3,229.8 431.8,229.8 431.8,232.5 445.5,232.5 445.5,232.5" fill="none" stroke="#3c3c4c" stroke-width="0.8" stroke-linejoin="round"/>
<line x1="397.5" y1="197" x2="397.5" y2="199" stroke="#111" stroke-width="0.7"/>
<line x1="398.2" y1="197" x2="398.2" y2="199" stroke="#111" stroke-width="0.7"/>
<line x1="399" y1="206.5" x2="399" y2="208.5" stroke="#111" stroke-width="0.7"/>
<line x1="401" y1="209.6" x2="401" y2="211.6" stroke="#111" stroke-width="0.7"/>
<line x1="405" y1="215.9" x2="405" y2="217.9" stroke="#111" stroke-width="0.7"/>
<line x1="406" y1="215.9" x2="406" y2="217.9" stroke="#111" stroke-width="0.7"/>
<line x1="408" y1="217.8" x2="408" y2="219.8" stroke="#111" stroke-width="0.7"/>
<line x1="411.5" y1="223.4" x2="411.5" y2="225.4" stroke="#111" stroke-width="0.7"/>
<line x1="413" y1="223.4" x2="413" y2="225.4" stroke="#111" stroke-width="0.7"/>
<line x1="418.5" y1="225.9" x2="418.5" y2="227.9" stroke="#111" stroke-width="0.7"/>
<line x1="423" y1="227.1" x2="423" y2="229.1" stroke="#111" stroke-width="0.7"/>
<line x1="428" y1="228.8" x2="428" y2="230.8" stroke="#111" stroke-width="0.7"/>
<line x1="436" y1="231.5" x2="436" y2="233.5" stroke="#111" stroke-width="0.7"/>
<line x1="439" y1="231.5" x2="439" y2="233.5" stroke="#111" stroke-width="0.7"/>
<line x1="442" y1="231.5" x2="442" y2="233.5" stroke="#111" stroke-width="0.7"/>
<line x1="444.5" y1="231.5" x2="444.5" y2="233.5" stroke="#111" stroke-width="0.7"/>
<polyline points="396.5,189 397.3,196 398,202.5 398.6,207 399.3,211.3 399.9,216 400.5,220 401.4,223.5 402.4,226.9 404,228.5 405.5,230 406.7,232.5 408,235 409.5,237.5 411,240 412.4,242.5" fill="none" stroke="#74b25a" stroke-width="0.8" stroke-linejoin="round"/>
<text x="433" y="231" font-size="4.8" text-anchor="start" fill="#333" stroke="#333" stroke-width="0.09">n=75</text>
<text x="411.1" y="237" font-size="4.8" text-anchor="start" fill="#333" stroke="#333" stroke-width="0.09">n=29</text>
<text x="395.5" y="244" font-size="4.6" text-anchor="start" fill="#333" stroke="#333" stroke-width="0.08">0.001</text>
<polyline points="455.8,189 457.4,189 457.4,196.3 458.6,196.3 458.6,201.3 459.9,201.3 459.9,205.6 461.8,205.6 461.8,206.9 463.6,206.9 463.6,209.4 465.5,209.4 465.5,211.9 468,211.9 468,215.6 469.3,215.6 469.3,221.3 471.1,221.3 471.1,225 486.1,225 486.1,229.4 497.4,229.4 497.4,234 504.5,234 504.5,234" fill="none" stroke="#3c3c4c" stroke-width="0.8" stroke-linejoin="round"/>
<line x1="469.5" y1="220.3" x2="469.5" y2="222.3" stroke="#111" stroke-width="0.7"/>
<line x1="483.5" y1="224" x2="483.5" y2="226" stroke="#111" stroke-width="0.7"/>
<line x1="501" y1="233" x2="501" y2="235" stroke="#111" stroke-width="0.7"/>
<line x1="503.5" y1="233" x2="503.5" y2="235" stroke="#111" stroke-width="0.7"/>
<polyline points="455.8,189 456.1,189 456.1,196.3 457.4,196.3 457.4,205 459.3,205 459.3,212.5 461.1,212.5 461.1,220 463,220 463,227.5 466.8,227.5 466.8,230 471.8,230 471.8,232.5 474.3,232.5 474.3,235.6 477.4,235.6 477.4,238.8 479.9,238.8 479.9,241.9" fill="none" stroke="#74b25a" stroke-width="0.8" stroke-linejoin="round"/>
<text x="467.4" y="230" font-size="4.8" text-anchor="start" fill="#333" stroke="#333" stroke-width="0.09">n=20</text>
<text x="487.4" y="228.9" font-size="4.8" text-anchor="start" fill="#333" stroke="#333" stroke-width="0.09">n=20</text>
<text x="455.5" y="244.4" font-size="4.6" text-anchor="start" fill="#333" stroke="#333" stroke-width="0.08">0.02</text>
<text x="268.4" y="282.7" font-size="10.5" text-anchor="start" fill="#111">D</text>
<text x="307" y="347.4" font-size="7.6" text-anchor="middle" fill="#1a1a1a" stroke="#1a1a1a" stroke-width="0.12" transform="rotate(-90 307 347.4)" textLength="39" lengthAdjust="spacingAndGlyphs">Proportion</text>
<text x="395" y="400.5" font-size="7.8" text-anchor="middle" fill="#1a1a1a" stroke="#1a1a1a" stroke-width="0.12" textLength="40.8" lengthAdjust="spacingAndGlyphs">Time (years)</text>
<rect x="330.6" y="317.6" width="53.4" height="59.4" fill="none" stroke="#1a1a1a" stroke-width="1"/>
<line x1="327.8" y1="320.1" x2="330.6" y2="320.1" stroke="#333" stroke-width="0.7"/>
<text x="324.6" y="322" font-size="5.5" text-anchor="end" fill="#2a2a2a" stroke="#2a2a2a" stroke-width="0.1">1.00</text>
<line x1="327.8" y1="333.6" x2="330.6" y2="333.6" stroke="#333" stroke-width="0.7"/>
<text x="324.6" y="335.5" font-size="5.5" text-anchor="end" fill="#2a2a2a" stroke="#2a2a2a" stroke-width="0.1">0.75</text>
<line x1="327.8" y1="347.4" x2="330.6" y2="347.4" stroke="#333" stroke-width="0.7"/>
<text x="324.6" y="349.3" font-size="5.5" text-anchor="end" fill="#2a2a2a" stroke="#2a2a2a" stroke-width="0.1">0.50</text>
<line x1="327.8" y1="361.1" x2="330.6" y2="361.1" stroke="#333" stroke-width="0.7"/>
<text x="324.6" y="363" font-size="5.5" text-anchor="end" fill="#2a2a2a" stroke="#2a2a2a" stroke-width="0.1">0.25</text>
<line x1="327.8" y1="374.9" x2="330.6" y2="374.9" stroke="#333" stroke-width="0.7"/>
<text x="324.6" y="376.8" font-size="5.5" text-anchor="end" fill="#2a2a2a" stroke="#2a2a2a" stroke-width="0.1">0.00</text>
<line x1="333.1" y1="377" x2="333.1" y2="379.8" stroke="#333" stroke-width="0.7"/>
<text x="333.1" y="388.6" font-size="5.4" text-anchor="middle" fill="#333" stroke="#333" stroke-width="0.1">0</text>
<line x1="345.3" y1="377" x2="345.3" y2="379.8" stroke="#333" stroke-width="0.7"/>
<text x="345.3" y="388.6" font-size="5.4" text-anchor="middle" fill="#333" stroke="#333" stroke-width="0.1">5</text>
<line x1="357.3" y1="377" x2="357.3" y2="379.8" stroke="#333" stroke-width="0.7"/>
<text x="357.3" y="388.6" font-size="5.4" text-anchor="middle" fill="#333" stroke="#333" stroke-width="0.1">10</text>
<line x1="369.1" y1="377" x2="369.1" y2="379.8" stroke="#333" stroke-width="0.7"/>
<text x="369.1" y="388.6" font-size="5.4" text-anchor="middle" fill="#333" stroke="#333" stroke-width="0.1">15</text>
<line x1="381.9" y1="377" x2="381.9" y2="379.8" stroke="#333" stroke-width="0.7"/>
<text x="381.9" y="388.6" font-size="5.4" text-anchor="middle" fill="#333" stroke="#333" stroke-width="0.1">20</text>
<text x="357" y="294.5" font-size="6.4" text-anchor="middle" fill="#1a1a1a" stroke="#1a1a1a" stroke-width="0.12" textLength="36.2" lengthAdjust="spacingAndGlyphs">CDKN2A OS</text>
<text x="357" y="303.5" font-size="6.4" text-anchor="middle" fill="#1a1a1a" stroke="#1a1a1a" stroke-width="0.12" textLength="62.7" lengthAdjust="spacingAndGlyphs">by mRNA Expression</text>
<text x="357" y="312.4" font-size="6.4" text-anchor="middle" fill="#1a1a1a" stroke="#1a1a1a" stroke-width="0.12" textLength="31.6" lengthAdjust="spacingAndGlyphs">PTCL-NOS</text>
<line x1="357.3" y1="321.8" x2="361.3" y2="321.8" stroke="#c2414f" stroke-width="1"/>
<text x="363.8" y="323.8" font-size="5.6" text-anchor="start" fill="#333" stroke="#333" stroke-width="0.1" textLength="16" lengthAdjust="spacingAndGlyphs">Lower</text>
<line x1="357.3" y1="330.5" x2="361.3" y2="330.5" stroke="#4a70aa" stroke-width="1"/>
<text x="363.8" y="332.5" font-size="5.6" text-anchor="start" fill="#333" stroke="#333" stroke-width="0.1" textLength="16" lengthAdjust="spacingAndGlyphs">Upper</text>
<rect x="416.5" y="317.6" width="52.5" height="59.4" fill="none" stroke="#1a1a1a" stroke-width="1"/>
<line x1="413.7" y1="320.1" x2="416.5" y2="320.1" stroke="#333" stroke-width="0.7"/>
<text x="410.5" y="322" font-size="5.5" text-anchor="end" fill="#2a2a2a" stroke="#2a2a2a" stroke-width="0.1">1.00</text>
<line x1="413.7" y1="333.6" x2="416.5" y2="333.6" stroke="#333" stroke-width="0.7"/>
<text x="410.5" y="335.5" font-size="5.5" text-anchor="end" fill="#2a2a2a" stroke="#2a2a2a" stroke-width="0.1">0.75</text>
<line x1="413.7" y1="347.4" x2="416.5" y2="347.4" stroke="#333" stroke-width="0.7"/>
<text x="410.5" y="349.3" font-size="5.5" text-anchor="end" fill="#2a2a2a" stroke="#2a2a2a" stroke-width="0.1">0.50</text>
<line x1="413.7" y1="361.1" x2="416.5" y2="361.1" stroke="#333" stroke-width="0.7"/>
<text x="410.5" y="363" font-size="5.5" text-anchor="end" fill="#2a2a2a" stroke="#2a2a2a" stroke-width="0.1">0.25</text>
<line x1="413.7" y1="374.9" x2="416.5" y2="374.9" stroke="#333" stroke-width="0.7"/>
<text x="410.5" y="376.8" font-size="5.5" text-anchor="end" fill="#2a2a2a" stroke="#2a2a2a" stroke-width="0.1">0.00</text>
<line x1="418.5" y1="377" x2="418.5" y2="379.8" stroke="#333" stroke-width="0.7"/>
<text x="418.5" y="388.6" font-size="5.4" text-anchor="middle" fill="#333" stroke="#333" stroke-width="0.1">0</text>
<line x1="430.4" y1="377" x2="430.4" y2="379.8" stroke="#333" stroke-width="0.7"/>
<text x="430.4" y="388.6" font-size="5.4" text-anchor="middle" fill="#333" stroke="#333" stroke-width="0.1">2</text>
<line x1="442.5" y1="377" x2="442.5" y2="379.8" stroke="#333" stroke-width="0.7"/>
<text x="442.5" y="388.6" font-size="5.4" text-anchor="middle" fill="#333" stroke="#333" stroke-width="0.1">4</text>
<line x1="454.4" y1="377" x2="454.4" y2="379.8" stroke="#333" stroke-width="0.7"/>
<text x="454.4" y="388.6" font-size="5.4" text-anchor="middle" fill="#333" stroke="#333" stroke-width="0.1">6</text>
<line x1="466.5" y1="377" x2="466.5" y2="379.8" stroke="#333" stroke-width="0.7"/>
<text x="466.5" y="388.6" font-size="5.4" text-anchor="middle" fill="#333" stroke="#333" stroke-width="0.1">8</text>
<text x="440.5" y="294.5" font-size="6.4" text-anchor="middle" fill="#1a1a1a" stroke="#1a1a1a" stroke-width="0.12" textLength="36.2" lengthAdjust="spacingAndGlyphs">CDKN2A OS</text>
<text x="440.5" y="303.5" font-size="6.4" text-anchor="middle" fill="#1a1a1a" stroke="#1a1a1a" stroke-width="0.12" textLength="62.7" lengthAdjust="spacingAndGlyphs">by mRNA Expression</text>
<text x="440.5" y="312.4" font-size="6.4" text-anchor="middle" fill="#1a1a1a" stroke="#1a1a1a" stroke-width="0.12" textLength="34.5" lengthAdjust="spacingAndGlyphs">PTCL-GATA3</text>
<line x1="443.2" y1="321.8" x2="447.2" y2="321.8" stroke="#c2414f" stroke-width="1"/>
<text x="449.7" y="323.8" font-size="5.6" text-anchor="start" fill="#333" stroke="#333" stroke-width="0.1" textLength="16" lengthAdjust="spacingAndGlyphs">Lower</text>
<line x1="443.2" y1="330.5" x2="447.2" y2="330.5" stroke="#4a70aa" stroke-width="1"/>
<text x="449.7" y="332.5" font-size="5.6" text-anchor="start" fill="#333" stroke="#333" stroke-width="0.1" textLength="16" lengthAdjust="spacingAndGlyphs">Upper</text>
<polyline points="333.1,320 334.4,320 334.4,329.5 335.6,329.5 335.6,335.8 336.9,335.8 336.9,344.5 338.1,344.5 338.1,345.8 340.6,345.8 340.6,349.5 343.8,349.5 343.8,353.3 346.9,353.3 346.9,355.5 377.5,355.5 377.5,374.5" fill="none" stroke="#4a70aa" stroke-width="0.9" stroke-linejoin="round"/>
<line x1="336" y1="334.8" x2="336" y2="336.8" stroke="#111" stroke-width="0.7"/>
<line x1="337.5" y1="343.5" x2="337.5" y2="345.5" stroke="#111" stroke-width="0.7"/>
<line x1="339" y1="344.8" x2="339" y2="346.8" stroke="#111" stroke-width="0.7"/>
<line x1="341.5" y1="348.5" x2="341.5" y2="350.5" stroke="#111" stroke-width="0.7"/>
<line x1="344.5" y1="352.3" x2="344.5" y2="354.3" stroke="#111" stroke-width="0.7"/>
<line x1="347.5" y1="354.5" x2="347.5" y2="356.5" stroke="#111" stroke-width="0.7"/>
<line x1="349" y1="354.5" x2="349" y2="356.5" stroke="#111" stroke-width="0.7"/>
<line x1="351" y1="354.5" x2="351" y2="356.5" stroke="#111" stroke-width="0.7"/>
<line x1="353" y1="354.5" x2="353" y2="356.5" stroke="#111" stroke-width="0.7"/>
<line x1="357" y1="354.5" x2="357" y2="356.5" stroke="#111" stroke-width="0.7"/>
<line x1="359.5" y1="354.5" x2="359.5" y2="356.5" stroke="#111" stroke-width="0.7"/>
<line x1="362" y1="354.5" x2="362" y2="356.5" stroke="#111" stroke-width="0.7"/>
<line x1="364" y1="354.5" x2="364" y2="356.5" stroke="#111" stroke-width="0.7"/>
<line x1="366.5" y1="354.5" x2="366.5" y2="356.5" stroke="#111" stroke-width="0.7"/>
<polyline points="333.1,320 334.4,320 334.4,330.8 335.6,330.8 335.6,340.8 336.9,340.8 336.9,348.3 338.1,348.3 338.1,352 339.4,352 339.4,357.6 341.3,357.6 341.3,360.8 343.8,360.8 343.8,363.3 351.9,363.3 351.9,366.4 355.6,366.4 355.6,370.8 362.5,370.8 362.5,370.8" fill="none" stroke="#c2414f" stroke-width="0.9" stroke-linejoin="round"/>
<line x1="337.5" y1="347.3" x2="337.5" y2="349.3" stroke="#111" stroke-width="0.7"/>
<line x1="339" y1="351" x2="339" y2="353" stroke="#111" stroke-width="0.7"/>
<line x1="340.5" y1="356.6" x2="340.5" y2="358.6" stroke="#111" stroke-width="0.7"/>
<line x1="345.5" y1="362.3" x2="345.5" y2="364.3" stroke="#111" stroke-width="0.7"/>
<line x1="348" y1="362.3" x2="348" y2="364.3" stroke="#111" stroke-width="0.7"/>
<line x1="353.5" y1="365.4" x2="353.5" y2="367.4" stroke="#111" stroke-width="0.7"/>
<line x1="362" y1="369.8" x2="362" y2="371.8" stroke="#111" stroke-width="0.7"/>
<text x="365.6" y="354.2" font-size="4.8" text-anchor="start" fill="#333" stroke="#333" stroke-width="0.09">n=63</text>
<text x="356.9" y="368.9" font-size="4.8" text-anchor="start" fill="#333" stroke="#333" stroke-width="0.09">n=62</text>
<text x="331.9" y="375.8" font-size="4.6" text-anchor="start" fill="#333" stroke="#333" stroke-width="0.08">0.023</text>
<polyline points="418.5,320 420,320 420,324.5 422.5,324.5 422.5,333.9 425.6,333.9 425.6,340.8 427.5,340.8 427.5,345.8 430,345.8 430,348.9 433.1,348.9 433.1,356 439.4,356 439.4,359.9 451.3,359.9 451.3,363.3 466.9,363.3 466.9,363.3" fill="none" stroke="#4a70aa" stroke-width="0.9" stroke-linejoin="round"/>
<line x1="423" y1="332.9" x2="423" y2="334.9" stroke="#111" stroke-width="0.7"/>
<line x1="428" y1="344.8" x2="428" y2="346.8" stroke="#111" stroke-width="0.7"/>
<line x1="431.5" y1="347.9" x2="431.5" y2="349.9" stroke="#111" stroke-width="0.7"/>
<line x1="457.5" y1="362.3" x2="457.5" y2="364.3" stroke="#111" stroke-width="0.7"/>
<line x1="460.5" y1="362.3" x2="460.5" y2="364.3" stroke="#111" stroke-width="0.7"/>
<line x1="466" y1="362.3" x2="466" y2="364.3" stroke="#111" stroke-width="0.7"/>
<polyline points="418.5,320 420,320 420,333.3 421.9,333.3 421.9,340.8 423.8,340.8 423.8,345.8 426.3,345.8 426.3,350.8 430,350.8 430,354.5 432.5,354.5 432.5,357 434.4,357 434.4,359.5 436.9,359.5 436.9,363.3 443.1,363.3 443.1,366.4 468.1,366.4 468.1,370.1" fill="none" stroke="#c2414f" stroke-width="0.9" stroke-linejoin="round"/>
<line x1="422.5" y1="339.8" x2="422.5" y2="341.8" stroke="#111" stroke-width="0.7"/>
<line x1="433.8" y1="356" x2="433.8" y2="358" stroke="#111" stroke-width="0.7"/>
<line x1="437" y1="362.3" x2="437" y2="364.3" stroke="#111" stroke-width="0.7"/>
<line x1="449.5" y1="365.4" x2="449.5" y2="367.4" stroke="#111" stroke-width="0.7"/>
<line x1="468.5" y1="369.1" x2="468.5" y2="371.1" stroke="#111" stroke-width="0.7"/>
<text x="441" y="358.3" font-size="4.8" text-anchor="start" fill="#333" stroke="#333" stroke-width="0.09">n=25</text>
<text x="451.9" y="372" font-size="4.8" text-anchor="start" fill="#333" stroke="#333" stroke-width="0.09">n=31</text>
<text x="418.1" y="375.8" font-size="4.6" text-anchor="start" fill="#333" stroke="#333" stroke-width="0.08">NS</text>
<text x="267.6" y="422.1" font-size="11" text-anchor="start" fill="#111">E</text>
<text x="345.2" y="434.2" font-size="7.9" text-anchor="middle" fill="#1a1a1a" stroke="#1a1a1a" stroke-width="0.12" textLength="54" lengthAdjust="spacingAndGlyphs">Chromosome 6</text>
<text x="311.5" y="447.2" font-size="7.6" text-anchor="middle" fill="#1a1a1a" stroke="#1a1a1a" stroke-width="0.12" textLength="52.5" lengthAdjust="spacingAndGlyphs">Frequency loss</text>
<text x="351.2" y="447.2" font-size="7.6" text-anchor="start" fill="#1a1a1a" stroke="#1a1a1a" stroke-width="0.12" textLength="54.5" lengthAdjust="spacingAndGlyphs">Frequency gain</text>
<text x="453.3" y="434.2" font-size="7.9" text-anchor="middle" fill="#1a1a1a" stroke="#1a1a1a" stroke-width="0.12" textLength="58" lengthAdjust="spacingAndGlyphs">Chromosome 14</text>
<text x="396.7" y="447.2" font-size="7.6" text-anchor="start" fill="#1a1a1a" stroke="#1a1a1a" stroke-width="0.12" textLength="51.4" lengthAdjust="spacingAndGlyphs">Frequency loss</text>
<text x="461.3" y="447.2" font-size="7.6" text-anchor="start" fill="#1a1a1a" stroke="#1a1a1a" stroke-width="0.12" textLength="53.3" lengthAdjust="spacingAndGlyphs">Frequency gain</text>
<line x1="336.5" y1="460.8" x2="336.5" y2="463.6" stroke="#333" stroke-width="0.7"/>
<text x="338.7" y="459.2" font-size="6.2" text-anchor="start" fill="#222" stroke="#222" stroke-width="0.11" transform="rotate(-90 338.7 459.2)">0</text>
<line x1="327.7" y1="460.8" x2="327.7" y2="463.6" stroke="#333" stroke-width="0.7"/>
<text x="329.9" y="459.2" font-size="6.2" text-anchor="start" fill="#222" stroke="#222" stroke-width="0.11" transform="rotate(-90 329.9 459.2)">10</text>
<line x1="319" y1="460.8" x2="319" y2="463.6" stroke="#333" stroke-width="0.7"/>
<text x="321.2" y="459.2" font-size="6.2" text-anchor="start" fill="#222" stroke="#222" stroke-width="0.11" transform="rotate(-90 321.2 459.2)">20</text>
<line x1="310.2" y1="460.8" x2="310.2" y2="463.6" stroke="#333" stroke-width="0.7"/>
<text x="312.4" y="459.2" font-size="6.2" text-anchor="start" fill="#222" stroke="#222" stroke-width="0.11" transform="rotate(-90 312.4 459.2)">30</text>
<line x1="353.4" y1="460.8" x2="353.4" y2="463.6" stroke="#333" stroke-width="0.7"/>
<text x="355.6" y="459.2" font-size="6.2" text-anchor="start" fill="#222" stroke="#222" stroke-width="0.11" transform="rotate(-90 355.6 459.2)">0</text>
<line x1="362.8" y1="460.8" x2="362.8" y2="463.6" stroke="#333" stroke-width="0.7"/>
<text x="365" y="459.2" font-size="6.2" text-anchor="start" fill="#222" stroke="#222" stroke-width="0.11" transform="rotate(-90 365 459.2)">10</text>
<line x1="371.5" y1="460.8" x2="371.5" y2="463.6" stroke="#333" stroke-width="0.7"/>
<text x="373.7" y="459.2" font-size="6.2" text-anchor="start" fill="#222" stroke="#222" stroke-width="0.11" transform="rotate(-90 373.7 459.2)">20</text>
<line x1="380" y1="460.8" x2="380" y2="463.6" stroke="#333" stroke-width="0.7"/>
<text x="382.2" y="459.2" font-size="6.2" text-anchor="start" fill="#222" stroke="#222" stroke-width="0.11" transform="rotate(-90 382.2 459.2)">30</text>
<line x1="445.1" y1="460.8" x2="445.1" y2="463.6" stroke="#333" stroke-width="0.7"/>
<text x="447.3" y="459.2" font-size="6.2" text-anchor="start" fill="#222" stroke="#222" stroke-width="0.11" transform="rotate(-90 447.3 459.2)">0</text>
<line x1="437.4" y1="460.8" x2="437.4" y2="463.6" stroke="#333" stroke-width="0.7"/>
<text x="439.6" y="459.2" font-size="6.2" text-anchor="start" fill="#222" stroke="#222" stroke-width="0.11" transform="rotate(-90 439.6 459.2)">10</text>
<line x1="429.6" y1="460.8" x2="429.6" y2="463.6" stroke="#333" stroke-width="0.7"/>
<text x="431.8" y="459.2" font-size="6.2" text-anchor="start" fill="#222" stroke="#222" stroke-width="0.11" transform="rotate(-90 431.8 459.2)">20</text>
<line x1="422.2" y1="460.8" x2="422.2" y2="463.6" stroke="#333" stroke-width="0.7"/>
<text x="424.4" y="459.2" font-size="6.2" text-anchor="start" fill="#222" stroke="#222" stroke-width="0.11" transform="rotate(-90 424.4 459.2)">30</text>
<line x1="414.4" y1="460.8" x2="414.4" y2="463.6" stroke="#333" stroke-width="0.7"/>
<text x="416.6" y="459.2" font-size="6.2" text-anchor="start" fill="#222" stroke="#222" stroke-width="0.11" transform="rotate(-90 416.6 459.2)">40</text>
<line x1="406.3" y1="460.8" x2="406.3" y2="463.6" stroke="#333" stroke-width="0.7"/>
<text x="408.5" y="459.2" font-size="6.2" text-anchor="start" fill="#222" stroke="#222" stroke-width="0.11" transform="rotate(-90 408.5 459.2)">50</text>
<line x1="462.4" y1="460.8" x2="462.4" y2="463.6" stroke="#333" stroke-width="0.7"/>
<text x="464.6" y="459.2" font-size="6.2" text-anchor="start" fill="#222" stroke="#222" stroke-width="0.11" transform="rotate(-90 464.6 459.2)">0</text>
<line x1="470.9" y1="460.8" x2="470.9" y2="463.6" stroke="#333" stroke-width="0.7"/>
<text x="473.1" y="459.2" font-size="6.2" text-anchor="start" fill="#222" stroke="#222" stroke-width="0.11" transform="rotate(-90 473.1 459.2)">10</text>
<line x1="477.9" y1="460.8" x2="477.9" y2="463.6" stroke="#333" stroke-width="0.7"/>
<text x="480.1" y="459.2" font-size="6.2" text-anchor="start" fill="#222" stroke="#222" stroke-width="0.11" transform="rotate(-90 480.1 459.2)">20</text>
<line x1="485.7" y1="460.8" x2="485.7" y2="463.6" stroke="#333" stroke-width="0.7"/>
<text x="487.9" y="459.2" font-size="6.2" text-anchor="start" fill="#222" stroke="#222" stroke-width="0.11" transform="rotate(-90 487.9 459.2)">30</text>
<line x1="493.1" y1="460.8" x2="493.1" y2="463.6" stroke="#333" stroke-width="0.7"/>
<text x="495.3" y="459.2" font-size="6.2" text-anchor="start" fill="#222" stroke="#222" stroke-width="0.11" transform="rotate(-90 495.3 459.2)">40</text>
<line x1="500.5" y1="460.8" x2="500.5" y2="463.6" stroke="#333" stroke-width="0.7"/>
<text x="502.7" y="459.2" font-size="6.2" text-anchor="start" fill="#222" stroke="#222" stroke-width="0.11" transform="rotate(-90 502.7 459.2)">50</text>
<polygon points="336.6,464.5 336.6,464.5 335.78,465 335.32,465.5 334.38,466 333.91,466.5 334.15,467 333.77,467.5 332.35,468 332.6,468.5 332.19,469 330.84,469.5 331.04,470 330.35,470.5 330.53,471 330.08,471.5 330.42,472 330.34,472.5 330.56,473 331.47,473.5 331.71,474 330.79,474.5 330.52,475 328.69,475.5 327.89,476 327.79,476.5 327.66,477 326.2,477.5 326.22,478 325.47,478.5 324.83,479 325.97,479.5 327.61,480 330.13,480.5 330.24,481 331.27,481.5 331.28,482 331.95,482.5 333.48,483 333.6,483.5 333.67,484 332.94,484.5 333.74,485 333.68,485.5 334.24,486 333.24,486.5 332.64,487 331.93,487.5 330.9,488 330.42,488.5 329.56,489 329.36,489.5 328.59,490 329.65,490.5 330.46,491 331.82,491.5 333.4,492 331.6,492.5 330.52,493 329.63,493.5 329.07,494 327.93,494.5 328.56,495 328.52,495.5 329.52,496 330.56,496.5 331.52,497 330.42,497.5 330.1,498 331.02,498.5 330.01,499 330.32,499.5 330.47,500 330.14,500.5 329.3,501 328.74,501.5 329.3,502 328.18,502.5 328.42,503 327.18,503.5 327.2,504 326.06,504.5 325.46,505 325.56,505.5 324.49,506 324.83,506.5 324.63,507 323.53,507.5 323.73,508 323.05,508.5 322.49,509 322.18,509.5 322.66,510 322.74,510.5 321.68,511 322.29,511.5 321.45,512 322.02,512.5 323.15,513 323.55,513.5 323.98,514 324.14,514.5 324.51,515 324.86,515.5 325.1,516 325.02,516.5 325.62,517 324.83,517.5 323.61,518 323.31,518.5 323.38,519 322.71,519.5 323.4,520 323.51,520.5 324.3,521 323.96,521.5 323.9,522 324.68,522.5 324.06,523 324.14,523.5 324.93,524 324.35,524.5 324.64,525 324.48,525.5 324.98,526 324.65,526.5 324.71,527 325.69,527.5 325.76,528 325.14,528.5 324.91,529 325.88,529.5 325.75,530 325.71,530.5 326.15,531 326.21,531.5 326.39,532 326.44,532.5 326.29,533 326.41,533.5 326.08,534 325.37,534.5 326.03,535 325.15,535.5 324.72,536 325.45,536.5 325.78,537 325.3,537.5 326.2,538 326.49,538.5 326.41,539 326.32,539.5 327.26,540 327.21,540.5 336.6,540.5" fill="#4e6482"/>
<polygon points="353.3,464.5 354.8,464.5 357.6,465 359.33,465.5 358.69,466 356.74,466.5 355.8,467 356.01,467.5 356.13,468 355.44,468.5 355,469 354.71,469.5 355.04,470 354.58,470.5 355.27,471 355.26,471.5 354.42,472 354.48,472.5 355.07,473 354.82,473.5 354.97,474 354.36,474.5 354.06,475 354.4,475.5 355.15,476 354.68,476.5 354.92,477 355.15,477.5 355.3,478 355.44,478.5 356.2,479 355.44,479.5 355.41,480 357.95,480.5 359.3,481 360.85,481.5 361.31,482 361.88,482.5 361.81,483 360.91,483.5 361.49,484 361.55,484.5 361.29,485 361.07,485.5 360.75,486 360.43,486.5 359.92,487 359.36,487.5 359.61,488 358.87,488.5 359.12,489 357.83,489.5 358.48,490 358.13,490.5 358.31,491 358.18,491.5 358.08,492 357.59,492.5 356.82,493 357.59,493.5 356.81,494 356.86,494.5 357.2,495 357.08,495.5 357,496 357.68,496.5 357.33,497 357.06,497.5 357,498 357.78,498.5 357.37,499 357.79,499.5 357.32,500 356.99,500.5 357.24,501 357.43,501.5 356.51,502 357.1,502.5 357.11,503 356.82,503.5 356.69,504 355.56,504.5 356.15,505 356.54,505.5 355.66,506 356.03,506.5 356.12,507 356.53,507.5 356.51,508 356.67,508.5 357.13,509 356.3,509.5 356.47,510 356.74,510.5 356.92,511 357.04,511.5 358.32,512 358.36,512.5 357.62,513 358.31,513.5 358.27,514 358.46,514.5 358.69,515 359.23,515.5 359.34,516 359.26,516.5 359.24,517 359.6,517.5 359.54,518 359.92,518.5 359.49,519 358.47,519.5 357.5,520 357.41,520.5 357.45,521 357.53,521.5 357.54,522 356.86,522.5 357.16,523 356.75,523.5 356.32,524 356.05,524.5 356,525 356.14,525.5 355.7,526 355.93,526.5 355.55,527 355.19,527.5 355.44,528 355.53,528.5 354.69,529 355.01,529.5 354.91,530 355.41,530.5 355.42,531 354.7,531.5 355.28,532 355.1,532.5 354.41,533 354.61,533.5 354.15,534 354.93,534.5 354.69,535 356.21,535.5 357.35,536 358.45,536.5 359.78,537 360.83,537.5 361.52,538 363.44,538.5 364.07,539 365.57,539.5 364.04,540 355.45,540.5 353.3,540.5" fill="#a13543"/>
<polyline points="335.67,464.5 335.5,465.5 335.94,466.5 335.2,467.5 334.89,468.5 335.36,469.5 334.75,470.5 335.43,471.5 335.39,472.5 335.62,473.5 335.81,474.5 335.61,475.5 335.89,476.5 335.38,477.5 336.06,478.5 335.96,479.5 336.12,480.5 335.54,481.5 335.95,482.5 336,483.5 335.2,484.5 335.31,485.5 335.4,486.5 335.51,487.5 334.94,488.5 334.79,489.5 334.82,490.5 335.15,491.5 335.3,492.5 335.04,493.5 335.06,494.5 335.05,495.5 334.34,496.5 333.72,497.5 332.77,498.5 332.44,499.5 332.19,500.5 331.11,501.5 330.75,502.5 329.65,503.5 329.44,504.5 329.2,505.5 328.98,506.5 328.71,507.5 328.53,508.5 329.13,509.5 330.08,510.5 330.22,511.5 330.37,512.5 331.08,513.5 331.41,514.5 331.28,515.5 331.41,516.5 331.82,517.5 331.62,518.5 332.03,519.5 332.33,520.5 332.99,521.5 332.78,522.5 331.33,523.5 330.31,524.5 329.14,525.5 325.38,526.5 323.36,527.5 322.13,528.5 321.48,529.5 321.19,530.5 321.08,531.5 321.19,532.5 321.18,533.5 321.72,534.5 321.99,535.5 322.17,536.5 322.67,537.5 323.09,538.5 324.73,539.5 325.51,540.5" fill="none" stroke="#d4903c" stroke-width="0.7" stroke-linejoin="round"/>
<polyline points="377.39,465.1 366.02,466.1 366.18,467.1 362.72,468.1 361.58,469.1 361.42,470.1 361.06,471.1 360.85,472.1 356.86,473.1 356.44,474.1 356.24,475.1 356.68,476.1 357.03,477.1 356.81,478.1 356.79,479.1 356.96,480.1 357.52,481.1 357.62,482.1 357.59,483.1 357.26,484.1 356.52,485.1 356.23,486.1 356.03,487.1 355.72,488.1 355.89,489.1 355.8,490.1 355.93,491.1 355.51,492.1 356.1,493.1 355.76,494.1 355.95,495.1 356.29,496.1 355.88,497.1 355.98,498.1 356.68,499.1 356.33,500.1 356.39,501.1 356.56,502.1 356.64,503.1 356.11,504.1 356.37,505.1 356.45,506.1 356.49,507.1 356.27,508.1 356.57,509.1 356.87,510.1 356.48,511.1 356.67,512.1 356.39,513.1 356.58,514.1 356.95,515.1 356.57,516.1 357.25,517.1 357.32,518.1 356.57,519.1 357.14,520.1 356.59,521.1 356.81,522.1 356.7,523.1 356.23,524.1 356.43,525.1 356.31,526.1 356.33,527.1 355.8,528.1 356.05,529.1 356.07,530.1 355.7,531.1 355.44,532.1 354.96,533.1 355.12,534.1 354.93,535.1 355.66,536.1 356.08,537.1 356.43,538.1 356.57,539.1 363.42,540.1" fill="none" stroke="#d4903c" stroke-width="0.7" stroke-linejoin="round"/>
<line x1="336.6" y1="464.4" x2="336.6" y2="540.9" stroke="#333" stroke-width="0.9"/>
<line x1="353.3" y1="464.4" x2="353.3" y2="540.9" stroke="#333" stroke-width="0.9"/>
<rect x="340.9" y="464.9" width="8.4" height="76" fill="#ffffff" stroke="#cdcdcd" stroke-width="0.6" rx="2"/>
<rect x="341.5" y="468.5" width="7.2" height="1.2" fill="#9a9a9a"/>
<rect x="341.5" y="471.6" width="7.2" height="1.2" fill="#8a8a8a"/>
<rect x="341.5" y="472.8" width="7.2" height="1.8" fill="#3a3a3a"/>
<rect x="341.5" y="474.6" width="7.2" height="0.6" fill="#8a8a8a"/>
<rect x="341.5" y="477" width="7.2" height="1.2" fill="#9a9a9a"/>
<rect x="341.5" y="485" width="7.2" height="2.2" fill="#1e1e1e"/>
<rect x="341.5" y="487.7" width="7.2" height="2.7" fill="#1e1e1e"/>
<rect x="341.5" y="492.8" width="7.2" height="3.1" fill="#222"/>
<rect x="341.5" y="499" width="7.2" height="2.4" fill="#9a9a9a"/>
<rect x="341.5" y="505.6" width="7.2" height="2.2" fill="#1e1e1e"/>
<rect x="341.5" y="508.4" width="7.2" height="2.7" fill="#2a2a2a"/>
<rect x="341.5" y="515.4" width="7.2" height="2.1" fill="#3a3a3a"/>
<rect x="341.5" y="518.2" width="7.2" height="2.6" fill="#333"/>
<rect x="341.5" y="522.7" width="7.2" height="1.8" fill="#8a8a8a"/>
<rect x="341.5" y="526.3" width="7.2" height="1.2" fill="#999"/>
<rect x="341.5" y="529.3" width="7.2" height="1.3" fill="#8a8a8a"/>
<rect x="341.5" y="532.4" width="7.2" height="1.2" fill="#9a9a9a"/>
<rect x="341.5" y="535.4" width="7.2" height="1.2" fill="#8a8a8a"/>
<rect x="341.5" y="538.5" width="7.2" height="1.2" fill="#aaa"/>
<text x="319.6" y="504.5" font-size="4.4" text-anchor="start" fill="#555" stroke="#555" stroke-width="0.08" textLength="8.1" lengthAdjust="spacingAndGlyphs">IRF4</text>
<text x="306.2" y="511.2" font-size="4.4" text-anchor="start" fill="#555" stroke="#555" stroke-width="0.08" textLength="12.6" lengthAdjust="spacingAndGlyphs">PRDM1</text>
<text x="314.8" y="518.8" font-size="4.4" text-anchor="start" fill="#555" stroke="#555" stroke-width="0.08" textLength="7.5" lengthAdjust="spacingAndGlyphs">FYN</text>
<text x="306.2" y="527.9" font-size="4.4" text-anchor="start" fill="#555" stroke="#555" stroke-width="0.08" textLength="14.8" lengthAdjust="spacingAndGlyphs">TNFAIP3</text>
<text x="282.7" y="533.6" font-size="4.4" text-anchor="start" fill="#555" stroke="#555" stroke-width="0.08" textLength="35.6" lengthAdjust="spacingAndGlyphs">ZC3H12D and LATS1</text>
<text x="290" y="514.7" font-size="4.4" text-anchor="start" fill="#555" stroke="#555" stroke-width="0.08" textLength="13.5" lengthAdjust="spacingAndGlyphs">CDC40</text>
<line x1="304" y1="513.1" x2="327.7" y2="513.1" stroke="#555" stroke-width="0.7"/>
<polygon points="445.1,476 430.57,476 431.67,476.5 431.61,477 432.14,477.5 432.98,478 432.47,478.5 433.56,479 433.67,479.5 433.58,480 433.92,480.5 434.19,481 434.31,481.5 434.72,482 435.09,482.5 435.44,483 435.77,483.5 435.34,484 435.53,484.5 435.96,485 435.65,485.5 435.92,486 435.9,486.5 435.68,487 435.08,487.5 435.8,488 435.23,488.5 435.37,489 434.74,489.5 435.05,490 434.96,490.5 434.78,491 434.53,491.5 434.19,492 434.5,492.5 433.89,493 434.52,493.5 434.25,494 434.31,494.5 434.19,495 433.63,495.5 433.79,496 434.45,496.5 434.55,497 434.43,497.5 434.22,498 434.25,498.5 434.43,499 434.7,499.5 435.25,500 434.89,500.5 434.99,501 434.54,501.5 434.39,502 434.65,502.5 434.49,503 433.85,503.5 434.49,504 433.61,504.5 433.41,505 433.46,505.5 434.14,506 434.08,506.5 434.16,507 434.22,507.5 433.98,508 434.38,508.5 434.88,509 434.43,509.5 434.92,510 434.69,510.5 434.45,511 435.07,511.5 434.19,512 434.19,512.5 434.25,513 434.11,513.5 434.06,514 434.22,514.5 433.77,515 434.16,515.5 433.6,516 433.35,516.5 433.46,517 433.23,517.5 432.74,518 432.71,518.5 433.36,519 432.61,519.5 432.68,520 432.7,520.5 431.83,521 431.41,521.5 431.24,522 431.37,522.5 431.57,523 432.63,523.5 432.53,524 433.16,524.5 434.17,525 434.08,525.5 434.98,526 435.29,526.5 436.14,527 436.76,527.5 437.8,528 437.97,528.5 438.49,529 439.2,529.5 440.26,530 440.15,530.5 440.63,531 441.22,531.5 441.5,532 441.67,532.5 441.76,533 442.01,533.5 441.88,534 441.89,534.5 442.26,535 438.42,535.5 434.23,536 434.2,536.5 439.04,537 445.1,537.4" fill="#4e6482"/>
<polygon points="462.5,476 469.06,476 468.56,476.5 468.21,477 468.79,477.5 468.47,478 467.98,478.5 467.85,479 467.87,479.5 467.8,480 467.41,480.5 467.18,481 467.37,481.5 467.93,482 467.28,482.5 467.58,483 467.31,483.5 467.31,484 467.26,484.5 467.48,485 467.23,485.5 467.08,486 467.15,486.5 467.19,487 467.5,487.5 467.06,488 466.83,488.5 467.07,489 466.85,489.5 466.95,490 466.11,490.5 466.28,491 466.08,491.5 465.53,492 466.33,492.5 465.45,493 465.19,493.5 465.44,494 465,494.5 465.32,495 465.03,495.5 464.78,496 464.69,496.5 465.35,497 464.88,497.5 465.37,498 465.03,498.5 465.47,499 464.82,499.5 464.75,500 464.75,500.5 465.27,501 465.07,501.5 464.76,502 464.49,502.5 465.06,503 465.33,503.5 464.93,504 464.32,504.5 464.33,505 464.43,505.5 464.54,506 464.44,506.5 464.5,507 465.13,507.5 465.41,508 464.75,508.5 465.56,509 465.1,509.5 465.46,510 465.61,510.5 465.67,511 464.8,511.5 465.1,512 465.69,512.5 466.31,513 465.74,513.5 466.23,514 467.07,514.5 466.61,515 467.09,515.5 467.23,516 467.78,516.5 468.23,517 467.67,517.5 468.44,518 468.63,518.5 468.94,519 468.85,519.5 469.42,520 468.94,520.5 469.07,521 468.97,521.5 469.6,522 469.38,522.5 469.25,523 469.23,523.5 469.86,524 469.83,524.5 470.01,525 469.41,525.5 469.23,526 468.61,526.5 468.89,527 467.92,527.5 468.09,528 468.1,528.5 467.74,529 466.88,529.5 466.74,530 467.22,530.5 466.89,531 467,531.5 466.87,532 466.32,532.5 466.65,533 466.36,533.5 465.83,534 470.54,534.5 474.91,535 479.9,535.5 490.16,536 499,536.5 480.91,537 462.5,537.4" fill="#a13543"/>
<polyline points="430.27,476.4 443.15,477.4 443.49,478.4 443.24,479.4 443.13,480.4 443.19,481.4 443.49,482.4 443.45,483.4 443.11,484.4 443.24,485.4 443.68,486.4 443.23,487.4 443.44,488.4 443.35,489.4 443.57,490.4 443.46,491.4 443.57,492.4 443.42,493.4 443.21,494.4 443.21,495.4 443.15,496.4 443.6,497.4 442.75,498.4 441.64,499.4 441.63,500.4 441.29,501.4 441.82,502.4 441.46,503.4 441.81,504.4 441.78,505.4 442.27,506.4 442.26,507.4 442.39,508.4 442.58,509.4 442.68,510.4 442.27,511.4 442.32,512.4 442.13,513.4 441.83,514.4 442.16,515.4 441.92,516.4 441.95,517.4 441.48,518.4 441.58,519.4 441.56,520.4 441.92,521.4 441.73,522.4 442.09,523.4 442.37,524.4 442.32,525.4 442.81,526.4 443.12,527.4 443.13,528.4 443.47,529.4 443.6,530.4 443.45,531.4 443.61,532.4 444.08,533.4 443.77,534.4 443.91,535.4 440.24,536.4 431.53,537.4" fill="none" stroke="#d4903c" stroke-width="0.7" stroke-linejoin="round"/>
<polyline points="467.8,476.4 468.14,477.4 467.9,478.4 467.88,479.4 467.83,480.4 467.49,481.4 467.56,482.4 467.21,483.4 467.02,484.4 467.3,485.4 467.34,486.4 467.44,487.4 467.23,488.4 467.47,489.4 467.32,490.4 467.75,491.4 467.77,492.4 467.46,493.4 467.92,494.4 467.52,495.4 467.5,496.4 467.91,497.4 467.68,498.4 467.84,499.4 467.95,500.4 467.62,501.4 468.07,502.4 467.82,503.4 467.94,504.4 468.05,505.4 468.65,506.4 469.01,507.4 469.1,508.4 469.35,509.4 470.02,510.4 470.92,511.4 471.56,512.4 472.45,513.4 473.65,514.4 473.96,515.4 473.73,516.4 473.33,517.4 472.87,518.4 472.16,519.4 471.85,520.4 472.06,521.4 472.28,522.4 472.44,523.4 472.58,524.4 472.59,525.4 473.01,526.4 472.8,527.4 472.81,528.4 472.63,529.4 472.16,530.4 471.42,531.4 470.96,532.4 470.87,533.4 469.96,534.4 470.61,535.4 472.94,536.4 475.02,537.4" fill="none" stroke="#d4903c" stroke-width="0.7" stroke-linejoin="round"/>
<line x1="445.1" y1="460.8" x2="445.1" y2="537.4" stroke="#333" stroke-width="0.9"/>
<line x1="462.5" y1="460.8" x2="462.5" y2="537.4" stroke="#333" stroke-width="0.9"/>
<rect x="449.9" y="461.4" width="6.9" height="4.7" fill="#f4f4f4" stroke="#bdbdbd" stroke-width="0.6" rx="2.6"/>
<rect x="449.3" y="466" width="8.1" height="73.3" fill="#ffffff" stroke="#cdcdcd" stroke-width="0.6" rx="2"/>
<rect x="449.9" y="466.4" width="6.9" height="6.2" fill="#f3f3f3"/>
<rect x="449.9" y="480.1" width="6.9" height="5.8" fill="#1e1e1e"/>
<rect x="449.9" y="489.7" width="6.9" height="3.3" fill="#1e1e1e"/>
<rect x="449.9" y="496.2" width="6.9" height="2.6" fill="#222"/>
<rect x="449.9" y="503.9" width="6.9" height="2.6" fill="#555"/>
<rect x="449.9" y="509" width="6.9" height="2" fill="#8a8a8a"/>
<rect x="449.9" y="513.6" width="6.9" height="1.9" fill="#8a8a8a"/>
<rect x="449.9" y="519.4" width="6.9" height="3.1" fill="#1e1e1e"/>
<rect x="449.9" y="523.3" width="6.9" height="3.1" fill="#2a2a2a"/>
<rect x="449.9" y="529.6" width="6.9" height="1.3" fill="#999"/>
<rect x="449.9" y="532.2" width="6.9" height="2" fill="#999"/>
<text x="473.5" y="532.4" font-size="4" text-anchor="start" fill="#555" stroke="#555" stroke-width="0.07" textLength="12" lengthAdjust="spacingAndGlyphs">BCL11B</text>
<rect x="423.8" y="542.7" width="6.3" height="6.3" fill="#a13543"/>
<text x="431.8" y="547.8" font-size="5.2" text-anchor="start" fill="#333" stroke="#333" stroke-width="0.09" textLength="50" lengthAdjust="spacingAndGlyphs">PTCL-GATA3 CN Gains</text>
<rect x="423.8" y="551.2" width="6.3" height="5.9" fill="#4e6482"/>
<text x="431.8" y="556.2" font-size="5.2" text-anchor="start" fill="#333" stroke="#333" stroke-width="0.09" textLength="52" lengthAdjust="spacingAndGlyphs">PTCL-GATA3 CN Losses</text>
<line x1="423.1" y1="562.8" x2="430.1" y2="562.8" stroke="#d4903c" stroke-width="1"/>
<text x="431.8" y="564.7" font-size="5.2" text-anchor="start" fill="#333" stroke="#333" stroke-width="0.09" textLength="64" lengthAdjust="spacingAndGlyphs">PTCL-TBX21 CN Gains/Losses</text>
<text x="6.4" y="586.3" font-size="10.5" text-anchor="start" fill="#111">C</text>
<text x="181.3" y="586.2" font-size="5.6" text-anchor="middle" fill="#222" stroke="#222" stroke-width="0.1" textLength="21" lengthAdjust="spacingAndGlyphs">CN Loss</text>
<line x1="40.8" y1="590.6" x2="323" y2="590.6" stroke="#8a8a8a" stroke-width="1.2"/>
<text x="354.5" y="586.2" font-size="5.6" text-anchor="middle" fill="#222" stroke="#222" stroke-width="0.1" textLength="21" lengthAdjust="spacingAndGlyphs">CN Gain</text>
<line x1="335.4" y1="590.6" x2="376.2" y2="590.6" stroke="#8a8a8a" stroke-width="1.2"/>
<rect x="40.8" y="594.3" width="39.7" height="6.3" fill="#d2cfd2"/>
<text x="60.65" y="599.8" font-size="5.9" text-anchor="middle" fill="#1a1a1a" stroke="#1a1a1a" stroke-width="0.11" textLength="22.4" lengthAdjust="spacingAndGlyphs">CDKN2A</text>
<rect x="42.8" y="609.6" width="5.2" height="1.4" fill="#fff" stroke="#222" stroke-width="0.7"/>
<line x1="42.8" y1="610.3" x2="48" y2="610.3" stroke="#222" stroke-width="0.8"/>
<circle cx="45.4" cy="609" r="0.95" fill="#c0304a"/>
<circle cx="45.4" cy="610.3" r="0.95" fill="#3a5aa0"/>
<circle cx="45.4" cy="611.2" r="0.95" fill="#5aaa3c"/>
<rect x="50.5" y="610" width="5.2" height="1" fill="#fff" stroke="#222" stroke-width="0.7"/>
<line x1="50.5" y1="610.5" x2="55.7" y2="610.5" stroke="#222" stroke-width="0.8"/>
<circle cx="53.1" cy="609.8" r="0.95" fill="#3a5aa0"/>
<circle cx="53.1" cy="611" r="0.95" fill="#5aaa3c"/>
<line x1="60.8" y1="636.5" x2="60.8" y2="638" stroke="#222" stroke-width="0.6"/>
<line x1="60.8" y1="642" x2="60.8" y2="644" stroke="#222" stroke-width="0.6"/>
<rect x="58.2" y="638" width="5.2" height="4" fill="#fff" stroke="#222" stroke-width="0.7"/>
<line x1="58.2" y1="640" x2="63.4" y2="640" stroke="#222" stroke-width="0.8"/>
<circle cx="60.8" cy="636.2" r="0.95" fill="#c0304a"/>
<circle cx="60.8" cy="640" r="0.95" fill="#3a5aa0"/>
<circle cx="60.8" cy="645" r="0.95" fill="#5aaa3c"/>
<rect x="65.9" y="644.5" width="5.2" height="2.5" fill="#fff" stroke="#222" stroke-width="0.7"/>
<line x1="65.9" y1="645.75" x2="71.1" y2="645.75" stroke="#222" stroke-width="0.8"/>
<circle cx="68.5" cy="643.4" r="0.95" fill="#c0304a"/>
<circle cx="68.5" cy="646" r="0.95" fill="#3a5aa0"/>
<circle cx="68.5" cy="647.3" r="0.95" fill="#5aaa3c"/>
<rect x="73.6" y="650" width="5.2" height="1" fill="#fff" stroke="#222" stroke-width="0.7"/>
<line x1="73.6" y1="650.5" x2="78.8" y2="650.5" stroke="#222" stroke-width="0.8"/>
<circle cx="76.2" cy="649.8" r="0.95" fill="#3a5aa0"/>
<circle cx="76.2" cy="650.8" r="0.95" fill="#5aaa3c"/>
<rect x="40.8" y="602" width="39.7" height="54.6" fill="none" stroke="#1a1a1a" stroke-width="1"/>
<line x1="37.8" y1="610.5" x2="40.8" y2="610.5" stroke="#333" stroke-width="0.7"/>
<text x="36.4" y="612.4" font-size="5.5" text-anchor="end" fill="#2a2a2a" stroke="#2a2a2a" stroke-width="0.1">0</text>
<line x1="37.8" y1="623" x2="40.8" y2="623" stroke="#333" stroke-width="0.7"/>
<text x="36.4" y="624.9" font-size="5.5" text-anchor="end" fill="#2a2a2a" stroke="#2a2a2a" stroke-width="0.1">−1</text>
<line x1="37.8" y1="635.5" x2="40.8" y2="635.5" stroke="#333" stroke-width="0.7"/>
<text x="36.4" y="637.4" font-size="5.5" text-anchor="end" fill="#2a2a2a" stroke="#2a2a2a" stroke-width="0.1">−2</text>
<line x1="37.8" y1="648.3" x2="40.8" y2="648.3" stroke="#333" stroke-width="0.7"/>
<text x="36.4" y="650.2" font-size="5.5" text-anchor="end" fill="#2a2a2a" stroke="#2a2a2a" stroke-width="0.1">−3</text>
<line x1="45.4" y1="656.6" x2="45.4" y2="659.2" stroke="#333" stroke-width="0.7"/>
<text x="47.4" y="661.8" font-size="5.6" text-anchor="end" fill="#2a2a2a" stroke="#2a2a2a" stroke-width="0.1" transform="rotate(-90 47.4 661.8)">1</text>
<rect x="42" y="669.7" width="6.9" height="8.3" fill="#e2a593"/>
<line x1="53.1" y1="656.6" x2="53.1" y2="659.2" stroke="#333" stroke-width="0.7"/>
<text x="55.1" y="661.8" font-size="5.6" text-anchor="end" fill="#2a2a2a" stroke="#2a2a2a" stroke-width="0.1" transform="rotate(-90 55.1 661.8)">2</text>
<rect x="49.7" y="669.7" width="6.9" height="8.3" fill="#d3cdd3"/>
<line x1="60.8" y1="656.6" x2="60.8" y2="659.2" stroke="#333" stroke-width="0.7"/>
<text x="62.8" y="661.8" font-size="5.6" text-anchor="end" fill="#2a2a2a" stroke="#2a2a2a" stroke-width="0.1" transform="rotate(-90 62.8 661.8)">3</text>
<rect x="57.4" y="669.7" width="6.9" height="8.3" fill="#46755e"/>
<line x1="68.5" y1="656.6" x2="68.5" y2="659.2" stroke="#333" stroke-width="0.7"/>
<text x="70.5" y="661.8" font-size="5.6" text-anchor="end" fill="#2a2a2a" stroke="#2a2a2a" stroke-width="0.1" transform="rotate(-90 70.5 661.8)">4</text>
<rect x="65.1" y="669.7" width="6.9" height="8.3" fill="#46755e"/>
<line x1="76.2" y1="656.6" x2="76.2" y2="659.2" stroke="#333" stroke-width="0.7"/>
<text x="78.2" y="661.8" font-size="5.6" text-anchor="end" fill="#2a2a2a" stroke="#2a2a2a" stroke-width="0.1" transform="rotate(-90 78.2 661.8)">5</text>
<rect x="72.8" y="669.7" width="6.9" height="8.3" fill="#46755e"/>
<rect x="97.5" y="594.3" width="40" height="6.3" fill="#d2cfd2"/>
<text x="117.5" y="599.8" font-size="5.9" text-anchor="middle" fill="#1a1a1a" stroke="#1a1a1a" stroke-width="0.11">PTEN</text>
<rect x="99.5" y="611" width="5.2" height="1.2" fill="#fff" stroke="#222" stroke-width="0.7"/>
<line x1="99.5" y1="611.6" x2="104.7" y2="611.6" stroke="#222" stroke-width="0.8"/>
<circle cx="102.1" cy="610.6" r="0.95" fill="#c0304a"/>
<circle cx="102.1" cy="611.6" r="0.95" fill="#3a5aa0"/>
<circle cx="102.1" cy="612.8" r="0.95" fill="#5aaa3c"/>
<rect x="107.2" y="610.2" width="5.2" height="1" fill="#fff" stroke="#222" stroke-width="0.7"/>
<line x1="107.2" y1="610.7" x2="112.4" y2="610.7" stroke="#222" stroke-width="0.8"/>
<circle cx="109.8" cy="609.6" r="0.95" fill="#c0304a"/>
<circle cx="109.8" cy="610.8" r="0.95" fill="#3a5aa0"/>
<rect x="114.9" y="612" width="5.2" height="0.9" fill="#fff" stroke="#222" stroke-width="0.7"/>
<line x1="114.9" y1="612.4" x2="120.1" y2="612.4" stroke="#222" stroke-width="0.8"/>
<circle cx="117.5" cy="612.5" r="0.95" fill="#5aaa3c"/>
<rect x="122.6" y="646.3" width="5.2" height="2.2" fill="#fff" stroke="#222" stroke-width="0.7"/>
<line x1="122.6" y1="647.4" x2="127.8" y2="647.4" stroke="#222" stroke-width="0.8"/>
<circle cx="125.2" cy="644.5" r="0.95" fill="#c0304a"/>
<circle cx="125.2" cy="647.5" r="0.95" fill="#3a5aa0"/>
<circle cx="125.2" cy="648.8" r="0.95" fill="#5aaa3c"/>
<rect x="130.3" y="619.5" width="5.2" height="1.5" fill="#fff" stroke="#222" stroke-width="0.7"/>
<line x1="130.3" y1="620.25" x2="135.5" y2="620.25" stroke="#222" stroke-width="0.8"/>
<circle cx="132.9" cy="618.8" r="0.95" fill="#c0304a"/>
<circle cx="132.9" cy="620.2" r="0.95" fill="#3a5aa0"/>
<circle cx="132.9" cy="621.2" r="0.95" fill="#5aaa3c"/>
<rect x="97.5" y="602" width="40" height="54.6" fill="none" stroke="#1a1a1a" stroke-width="1"/>
<line x1="94.5" y1="611.3" x2="97.5" y2="611.3" stroke="#333" stroke-width="0.7"/>
<text x="93.1" y="613.2" font-size="5.5" text-anchor="end" fill="#2a2a2a" stroke="#2a2a2a" stroke-width="0.1">0</text>
<line x1="94.5" y1="623.8" x2="97.5" y2="623.8" stroke="#333" stroke-width="0.7"/>
<text x="93.1" y="625.7" font-size="5.5" text-anchor="end" fill="#2a2a2a" stroke="#2a2a2a" stroke-width="0.1">−1</text>
<line x1="94.5" y1="636.3" x2="97.5" y2="636.3" stroke="#333" stroke-width="0.7"/>
<text x="93.1" y="638.2" font-size="5.5" text-anchor="end" fill="#2a2a2a" stroke="#2a2a2a" stroke-width="0.1">−2</text>
<line x1="94.5" y1="648" x2="97.5" y2="648" stroke="#333" stroke-width="0.7"/>
<text x="93.1" y="649.9" font-size="5.5" text-anchor="end" fill="#2a2a2a" stroke="#2a2a2a" stroke-width="0.1">−3</text>
<line x1="102.1" y1="656.6" x2="102.1" y2="659.2" stroke="#333" stroke-width="0.7"/>
<text x="104.1" y="661.8" font-size="5.6" text-anchor="end" fill="#2a2a2a" stroke="#2a2a2a" stroke-width="0.1" transform="rotate(-90 104.1 661.8)">1</text>
<rect x="98.7" y="669.7" width="6.9" height="8.3" fill="#7db35e"/>
<line x1="109.8" y1="656.6" x2="109.8" y2="659.2" stroke="#333" stroke-width="0.7"/>
<text x="111.8" y="661.8" font-size="5.6" text-anchor="end" fill="#2a2a2a" stroke="#2a2a2a" stroke-width="0.1" transform="rotate(-90 111.8 661.8)">2</text>
<rect x="106.4" y="669.7" width="6.9" height="8.3" fill="#d3cdd3"/>
<line x1="117.5" y1="656.6" x2="117.5" y2="659.2" stroke="#333" stroke-width="0.7"/>
<text x="119.5" y="661.8" font-size="5.6" text-anchor="end" fill="#2a2a2a" stroke="#2a2a2a" stroke-width="0.1" transform="rotate(-90 119.5 661.8)">3</text>
<rect x="114.1" y="669.7" width="6.9" height="8.3" fill="#7db35e"/>
<line x1="125.2" y1="656.6" x2="125.2" y2="659.2" stroke="#333" stroke-width="0.7"/>
<text x="127.2" y="661.8" font-size="5.6" text-anchor="end" fill="#2a2a2a" stroke="#2a2a2a" stroke-width="0.1" transform="rotate(-90 127.2 661.8)">4</text>
<rect x="121.8" y="669.7" width="6.9" height="8.3" fill="#46755e"/>
<line x1="132.9" y1="656.6" x2="132.9" y2="659.2" stroke="#333" stroke-width="0.7"/>
<text x="134.9" y="661.8" font-size="5.6" text-anchor="end" fill="#2a2a2a" stroke="#2a2a2a" stroke-width="0.1" transform="rotate(-90 134.9 661.8)">5</text>
<rect x="129.5" y="669.7" width="6.9" height="8.3" fill="#7db35e"/>
<rect x="163" y="594.3" width="37.5" height="6.3" fill="#d2cfd2"/>
<text x="181.75" y="599.8" font-size="5.9" text-anchor="middle" fill="#1a1a1a" stroke="#1a1a1a" stroke-width="0.11">TP53</text>
<line x1="167.6" y1="606" x2="167.6" y2="612.5" stroke="#222" stroke-width="0.6"/>
<line x1="167.6" y1="626.3" x2="167.6" y2="633.8" stroke="#222" stroke-width="0.6"/>
<rect x="165" y="612.5" width="5.2" height="13.8" fill="#fff" stroke="#222" stroke-width="0.7"/>
<line x1="165" y1="619.4" x2="170.2" y2="619.4" stroke="#222" stroke-width="0.8"/>
<circle cx="167.6" cy="607.5" r="0.95" fill="#c0304a"/>
<circle cx="167.6" cy="618" r="0.95" fill="#5aaa3c"/>
<circle cx="167.6" cy="633.2" r="0.95" fill="#3a5aa0"/>
<line x1="175.3" y1="628" x2="175.3" y2="633.8" stroke="#222" stroke-width="0.6"/>
<line x1="175.3" y1="640" x2="175.3" y2="643" stroke="#222" stroke-width="0.6"/>
<rect x="172.7" y="633.8" width="5.2" height="6.2" fill="#fff" stroke="#222" stroke-width="0.7"/>
<line x1="172.7" y1="636.9" x2="177.9" y2="636.9" stroke="#222" stroke-width="0.8"/>
<circle cx="175.3" cy="629" r="0.95" fill="#c0304a"/>
<circle cx="175.3" cy="636" r="0.95" fill="#5aaa3c"/>
<circle cx="175.3" cy="642" r="0.95" fill="#3a5aa0"/>
<line x1="183" y1="631" x2="183" y2="638" stroke="#222" stroke-width="0.6"/>
<line x1="183" y1="645.5" x2="183" y2="646" stroke="#222" stroke-width="0.6"/>
<rect x="180.4" y="638" width="5.2" height="7.5" fill="#fff" stroke="#222" stroke-width="0.7"/>
<line x1="180.4" y1="641.75" x2="185.6" y2="641.75" stroke="#222" stroke-width="0.8"/>
<circle cx="183" cy="631" r="0.95" fill="#c0304a"/>
<circle cx="183" cy="645" r="0.95" fill="#3a5aa0"/>
<line x1="190.7" y1="610" x2="190.7" y2="622.5" stroke="#222" stroke-width="0.6"/>
<line x1="190.7" y1="633.8" x2="190.7" y2="634" stroke="#222" stroke-width="0.6"/>
<rect x="188.1" y="622.5" width="5.2" height="11.3" fill="#fff" stroke="#222" stroke-width="0.7"/>
<line x1="188.1" y1="628.15" x2="193.3" y2="628.15" stroke="#222" stroke-width="0.8"/>
<circle cx="190.7" cy="610.5" r="0.95" fill="#5aaa3c"/>
<circle cx="190.7" cy="633" r="0.95" fill="#c0304a"/>
<circle cx="190.7" cy="635" r="0.95" fill="#3a5aa0"/>
<line x1="198.4" y1="638.5" x2="198.4" y2="640.5" stroke="#222" stroke-width="0.6"/>
<line x1="198.4" y1="643.8" x2="198.4" y2="646" stroke="#222" stroke-width="0.6"/>
<rect x="195.8" y="640.5" width="5.2" height="3.3" fill="#fff" stroke="#222" stroke-width="0.7"/>
<line x1="195.8" y1="642.15" x2="201" y2="642.15" stroke="#222" stroke-width="0.8"/>
<circle cx="198.4" cy="638.5" r="0.95" fill="#c0304a"/>
<circle cx="198.4" cy="641" r="0.95" fill="#3a5aa0"/>
<circle cx="198.4" cy="646" r="0.95" fill="#5aaa3c"/>
<rect x="163" y="602" width="37.5" height="54.6" fill="none" stroke="#1a1a1a" stroke-width="1"/>
<line x1="160" y1="604.5" x2="163" y2="604.5" stroke="#333" stroke-width="0.7"/>
<text x="158.6" y="606.4" font-size="5.5" text-anchor="end" fill="#2a2a2a" stroke="#2a2a2a" stroke-width="0.1">0</text>
<line x1="160" y1="617.5" x2="163" y2="617.5" stroke="#333" stroke-width="0.7"/>
<text x="158.6" y="619.4" font-size="5.5" text-anchor="end" fill="#2a2a2a" stroke="#2a2a2a" stroke-width="0.1">−0.25</text>
<line x1="160" y1="629.5" x2="163" y2="629.5" stroke="#333" stroke-width="0.7"/>
<text x="158.6" y="631.4" font-size="5.5" text-anchor="end" fill="#2a2a2a" stroke="#2a2a2a" stroke-width="0.1">−0.50</text>
<line x1="160" y1="642" x2="163" y2="642" stroke="#333" stroke-width="0.7"/>
<text x="158.6" y="643.9" font-size="5.5" text-anchor="end" fill="#2a2a2a" stroke="#2a2a2a" stroke-width="0.1">−0.75</text>
<line x1="160" y1="654.5" x2="163" y2="654.5" stroke="#333" stroke-width="0.7"/>
<text x="158.6" y="656.4" font-size="5.5" text-anchor="end" fill="#2a2a2a" stroke="#2a2a2a" stroke-width="0.1">−1</text>
<line x1="167.6" y1="656.6" x2="167.6" y2="659.2" stroke="#333" stroke-width="0.7"/>
<text x="169.6" y="661.8" font-size="5.6" text-anchor="end" fill="#2a2a2a" stroke="#2a2a2a" stroke-width="0.1" transform="rotate(-90 169.6 661.8)">1</text>
<rect x="164.2" y="669.7" width="6.9" height="8.3" fill="#d3cdd3"/>
<line x1="175.3" y1="656.6" x2="175.3" y2="659.2" stroke="#333" stroke-width="0.7"/>
<text x="177.3" y="661.8" font-size="5.6" text-anchor="end" fill="#2a2a2a" stroke="#2a2a2a" stroke-width="0.1" transform="rotate(-90 177.3 661.8)">2</text>
<rect x="171.9" y="669.7" width="6.9" height="8.3" fill="#7db35e"/>
<line x1="183" y1="656.6" x2="183" y2="659.2" stroke="#333" stroke-width="0.7"/>
<text x="185" y="661.8" font-size="5.6" text-anchor="end" fill="#2a2a2a" stroke="#2a2a2a" stroke-width="0.1" transform="rotate(-90 185 661.8)">3</text>
<rect x="179.6" y="669.7" width="6.9" height="8.3" fill="#7db35e"/>
<line x1="190.7" y1="656.6" x2="190.7" y2="659.2" stroke="#333" stroke-width="0.7"/>
<text x="192.7" y="661.8" font-size="5.6" text-anchor="end" fill="#2a2a2a" stroke="#2a2a2a" stroke-width="0.1" transform="rotate(-90 192.7 661.8)">4</text>
<rect x="187.3" y="669.7" width="6.9" height="8.3" fill="#7db35e"/>
<line x1="198.4" y1="656.6" x2="198.4" y2="659.2" stroke="#333" stroke-width="0.7"/>
<text x="200.4" y="661.8" font-size="5.6" text-anchor="end" fill="#2a2a2a" stroke="#2a2a2a" stroke-width="0.1" transform="rotate(-90 200.4 661.8)">5</text>
<rect x="195" y="669.7" width="6.9" height="8.3" fill="#7db35e"/>
<rect x="226.9" y="594.3" width="39.6" height="6.3" fill="#d2cfd2"/>
<text x="246.7" y="599.8" font-size="5.9" text-anchor="middle" fill="#1a1a1a" stroke="#1a1a1a" stroke-width="0.11">FOXO1</text>
<rect x="228.9" y="616.5" width="5.2" height="2" fill="#fff" stroke="#222" stroke-width="0.7"/>
<line x1="228.9" y1="617.5" x2="234.1" y2="617.5" stroke="#222" stroke-width="0.8"/>
<circle cx="231.5" cy="615.6" r="0.95" fill="#c0304a"/>
<circle cx="231.5" cy="618.2" r="0.95" fill="#3a5aa0"/>
<line x1="239.2" y1="645" x2="239.2" y2="647" stroke="#222" stroke-width="0.6"/>
<line x1="239.2" y1="651.2" x2="239.2" y2="653" stroke="#222" stroke-width="0.6"/>
<rect x="236.6" y="647" width="5.2" height="4.2" fill="#fff" stroke="#222" stroke-width="0.7"/>
<line x1="236.6" y1="649.1" x2="241.8" y2="649.1" stroke="#222" stroke-width="0.8"/>
<circle cx="239.2" cy="645" r="0.95" fill="#c0304a"/>
<circle cx="239.2" cy="650" r="0.95" fill="#5aaa3c"/>
<circle cx="239.2" cy="653" r="0.95" fill="#3a5aa0"/>
<rect x="244.3" y="610.2" width="5.2" height="4.1" fill="#fff" stroke="#222" stroke-width="0.7"/>
<line x1="244.3" y1="612.25" x2="249.5" y2="612.25" stroke="#222" stroke-width="0.8"/>
<circle cx="246.9" cy="609.2" r="0.95" fill="#c0304a"/>
<circle cx="246.9" cy="612" r="0.95" fill="#5aaa3c"/>
<circle cx="246.9" cy="615" r="0.95" fill="#3a5aa0"/>
<rect x="252" y="605.4" width="5.2" height="5.4" fill="#fff" stroke="#222" stroke-width="0.7"/>
<line x1="252" y1="608.1" x2="257.2" y2="608.1" stroke="#222" stroke-width="0.8"/>
<circle cx="254.6" cy="604.3" r="0.95" fill="#c0304a"/>
<circle cx="254.6" cy="608" r="0.95" fill="#5aaa3c"/>
<circle cx="254.6" cy="611.6" r="0.95" fill="#3a5aa0"/>
<rect x="259.7" y="613.5" width="5.2" height="2.1" fill="#fff" stroke="#222" stroke-width="0.7"/>
<line x1="259.7" y1="614.55" x2="264.9" y2="614.55" stroke="#222" stroke-width="0.8"/>
<circle cx="262.3" cy="612.8" r="0.95" fill="#c0304a"/>
<circle cx="262.3" cy="614.5" r="0.95" fill="#5aaa3c"/>
<circle cx="262.3" cy="616.8" r="0.95" fill="#3a5aa0"/>
<rect x="226.9" y="602" width="39.6" height="54.6" fill="none" stroke="#1a1a1a" stroke-width="1"/>
<line x1="223.9" y1="614.8" x2="226.9" y2="614.8" stroke="#333" stroke-width="0.7"/>
<text x="222.5" y="616.7" font-size="5.5" text-anchor="end" fill="#2a2a2a" stroke="#2a2a2a" stroke-width="0.1">0</text>
<line x1="223.9" y1="635" x2="226.9" y2="635" stroke="#333" stroke-width="0.7"/>
<text x="222.5" y="636.9" font-size="5.5" text-anchor="end" fill="#2a2a2a" stroke="#2a2a2a" stroke-width="0.1">−0.50</text>
<line x1="223.9" y1="653.9" x2="226.9" y2="653.9" stroke="#333" stroke-width="0.7"/>
<text x="222.5" y="655.8" font-size="5.5" text-anchor="end" fill="#2a2a2a" stroke="#2a2a2a" stroke-width="0.1">−1</text>
<line x1="231.5" y1="656.6" x2="231.5" y2="659.2" stroke="#333" stroke-width="0.7"/>
<text x="233.5" y="661.8" font-size="5.6" text-anchor="end" fill="#2a2a2a" stroke="#2a2a2a" stroke-width="0.1" transform="rotate(-90 233.5 661.8)">1</text>
<rect x="228.1" y="669.7" width="6.9" height="8.3" fill="#7db35e"/>
<line x1="239.2" y1="656.6" x2="239.2" y2="659.2" stroke="#333" stroke-width="0.7"/>
<text x="241.2" y="661.8" font-size="5.6" text-anchor="end" fill="#2a2a2a" stroke="#2a2a2a" stroke-width="0.1" transform="rotate(-90 241.2 661.8)">2</text>
<rect x="235.8" y="669.7" width="6.9" height="8.3" fill="#7db35e"/>
<line x1="246.9" y1="656.6" x2="246.9" y2="659.2" stroke="#333" stroke-width="0.7"/>
<text x="248.9" y="661.8" font-size="5.6" text-anchor="end" fill="#2a2a2a" stroke="#2a2a2a" stroke-width="0.1" transform="rotate(-90 248.9 661.8)">3</text>
<rect x="243.5" y="669.7" width="6.9" height="8.3" fill="#7db35e"/>
<line x1="254.6" y1="656.6" x2="254.6" y2="659.2" stroke="#333" stroke-width="0.7"/>
<text x="256.6" y="661.8" font-size="5.6" text-anchor="end" fill="#2a2a2a" stroke="#2a2a2a" stroke-width="0.1" transform="rotate(-90 256.6 661.8)">4</text>
<rect x="251.2" y="669.7" width="6.9" height="8.3" fill="#e2a593"/>
<line x1="262.3" y1="656.6" x2="262.3" y2="659.2" stroke="#333" stroke-width="0.7"/>
<text x="264.3" y="661.8" font-size="5.6" text-anchor="end" fill="#2a2a2a" stroke="#2a2a2a" stroke-width="0.1" transform="rotate(-90 264.3 661.8)">5</text>
<rect x="258.9" y="669.7" width="6.9" height="8.3" fill="#d3cdd3"/>
<rect x="283.5" y="594.3" width="39.2" height="6.3" fill="#d2cfd2"/>
<text x="303.1" y="599.8" font-size="5.9" text-anchor="middle" fill="#1a1a1a" stroke="#1a1a1a" stroke-width="0.11">RB1</text>
<rect x="285.5" y="605" width="5.2" height="1" fill="#fff" stroke="#222" stroke-width="0.7"/>
<line x1="285.5" y1="605.5" x2="290.7" y2="605.5" stroke="#222" stroke-width="0.8"/>
<circle cx="288.1" cy="605.5" r="0.95" fill="#3a5aa0"/>
<line x1="295.8" y1="616.2" x2="295.8" y2="616.2" stroke="#222" stroke-width="0.6"/>
<line x1="295.8" y1="635.5" x2="295.8" y2="653.3" stroke="#222" stroke-width="0.6"/>
<rect x="293.2" y="616.2" width="5.2" height="19.3" fill="#fff" stroke="#222" stroke-width="0.7"/>
<line x1="293.2" y1="625.85" x2="298.4" y2="625.85" stroke="#222" stroke-width="0.8"/>
<circle cx="295.8" cy="616" r="0.95" fill="#5aaa3c"/>
<rect x="300.9" y="605" width="5.2" height="0.9" fill="#fff" stroke="#222" stroke-width="0.7"/>
<line x1="300.9" y1="605.45" x2="306.1" y2="605.45" stroke="#222" stroke-width="0.8"/>
<circle cx="303.5" cy="605.3" r="0.95" fill="#5aaa3c"/>
<rect x="308.6" y="615.2" width="5.2" height="0.9" fill="#fff" stroke="#222" stroke-width="0.7"/>
<line x1="308.6" y1="615.6" x2="313.8" y2="615.6" stroke="#222" stroke-width="0.8"/>
<circle cx="311.2" cy="615.6" r="0.95" fill="#3a5aa0"/>
<rect x="316.3" y="605" width="5.2" height="1" fill="#fff" stroke="#222" stroke-width="0.7"/>
<line x1="316.3" y1="605.5" x2="321.5" y2="605.5" stroke="#222" stroke-width="0.8"/>
<circle cx="318.9" cy="606" r="0.95" fill="#c0304a"/>
<rect x="283.5" y="602" width="39.2" height="54.6" fill="none" stroke="#1a1a1a" stroke-width="1"/>
<line x1="280.5" y1="605.4" x2="283.5" y2="605.4" stroke="#333" stroke-width="0.7"/>
<text x="279.1" y="607.3" font-size="5.5" text-anchor="end" fill="#2a2a2a" stroke="#2a2a2a" stroke-width="0.1">0</text>
<line x1="280.5" y1="618" x2="283.5" y2="618" stroke="#333" stroke-width="0.7"/>
<text x="279.1" y="619.9" font-size="5.5" text-anchor="end" fill="#2a2a2a" stroke="#2a2a2a" stroke-width="0.1">−1</text>
<line x1="280.5" y1="630.4" x2="283.5" y2="630.4" stroke="#333" stroke-width="0.7"/>
<text x="279.1" y="632.3" font-size="5.5" text-anchor="end" fill="#2a2a2a" stroke="#2a2a2a" stroke-width="0.1">−2</text>
<line x1="280.5" y1="643.1" x2="283.5" y2="643.1" stroke="#333" stroke-width="0.7"/>
<text x="279.1" y="645" font-size="5.5" text-anchor="end" fill="#2a2a2a" stroke="#2a2a2a" stroke-width="0.1">−3</text>
<line x1="280.5" y1="655.2" x2="283.5" y2="655.2" stroke="#333" stroke-width="0.7"/>
<text x="279.1" y="657.1" font-size="5.5" text-anchor="end" fill="#2a2a2a" stroke="#2a2a2a" stroke-width="0.1">−4</text>
<line x1="288.1" y1="656.6" x2="288.1" y2="659.2" stroke="#333" stroke-width="0.7"/>
<text x="290.1" y="661.8" font-size="5.6" text-anchor="end" fill="#2a2a2a" stroke="#2a2a2a" stroke-width="0.1" transform="rotate(-90 290.1 661.8)">1</text>
<rect x="284.7" y="669.7" width="6.9" height="8.3" fill="#d3cdd3"/>
<line x1="295.8" y1="656.6" x2="295.8" y2="659.2" stroke="#333" stroke-width="0.7"/>
<text x="297.8" y="661.8" font-size="5.6" text-anchor="end" fill="#2a2a2a" stroke="#2a2a2a" stroke-width="0.1" transform="rotate(-90 297.8 661.8)">2</text>
<rect x="292.4" y="669.7" width="6.9" height="8.3" fill="#46755e"/>
<line x1="303.5" y1="656.6" x2="303.5" y2="659.2" stroke="#333" stroke-width="0.7"/>
<text x="305.5" y="661.8" font-size="5.6" text-anchor="end" fill="#2a2a2a" stroke="#2a2a2a" stroke-width="0.1" transform="rotate(-90 305.5 661.8)">3</text>
<rect x="300.1" y="669.7" width="6.9" height="8.3" fill="#d3cdd3"/>
<line x1="311.2" y1="656.6" x2="311.2" y2="659.2" stroke="#333" stroke-width="0.7"/>
<text x="313.2" y="661.8" font-size="5.6" text-anchor="end" fill="#2a2a2a" stroke="#2a2a2a" stroke-width="0.1" transform="rotate(-90 313.2 661.8)">4</text>
<rect x="307.8" y="669.7" width="6.9" height="8.3" fill="#7db35e"/>
<line x1="318.9" y1="656.6" x2="318.9" y2="659.2" stroke="#333" stroke-width="0.7"/>
<text x="320.9" y="661.8" font-size="5.6" text-anchor="end" fill="#2a2a2a" stroke="#2a2a2a" stroke-width="0.1" transform="rotate(-90 320.9 661.8)">5</text>
<rect x="315.5" y="669.7" width="6.9" height="8.3" fill="#d3cdd3"/>
<rect x="335.4" y="594.3" width="41.1" height="6.3" fill="#d2cfd2"/>
<text x="355.95" y="599.8" font-size="5.9" text-anchor="middle" fill="#1a1a1a" stroke="#1a1a1a" stroke-width="0.11">MYC</text>
<rect x="337.4" y="649.6" width="5.2" height="0.9" fill="#fff" stroke="#222" stroke-width="0.7"/>
<line x1="337.4" y1="650" x2="342.6" y2="650" stroke="#222" stroke-width="0.8"/>
<circle cx="340" cy="650" r="0.95" fill="#3a5aa0"/>
<rect x="345.1" y="649.4" width="5.2" height="0.9" fill="#fff" stroke="#222" stroke-width="0.7"/>
<line x1="345.1" y1="649.8" x2="350.3" y2="649.8" stroke="#222" stroke-width="0.8"/>
<circle cx="347.7" cy="649.8" r="0.95" fill="#3a5aa0"/>
<rect x="352.8" y="640" width="5.2" height="0.9" fill="#fff" stroke="#222" stroke-width="0.7"/>
<line x1="352.8" y1="640.4" x2="358" y2="640.4" stroke="#222" stroke-width="0.8"/>
<circle cx="355.4" cy="640.4" r="0.95" fill="#3a5aa0"/>
<rect x="360.5" y="606.6" width="5.2" height="1.4" fill="#fff" stroke="#222" stroke-width="0.7"/>
<line x1="360.5" y1="607.3" x2="365.7" y2="607.3" stroke="#222" stroke-width="0.8"/>
<circle cx="363.1" cy="606.2" r="0.95" fill="#c0304a"/>
<circle cx="363.1" cy="607.4" r="0.95" fill="#3a5aa0"/>
<circle cx="363.1" cy="609" r="0.95" fill="#5aaa3c"/>
<rect x="368.2" y="649.6" width="5.2" height="0.9" fill="#fff" stroke="#222" stroke-width="0.7"/>
<line x1="368.2" y1="650" x2="373.4" y2="650" stroke="#222" stroke-width="0.8"/>
<circle cx="370.8" cy="650" r="0.95" fill="#3a5aa0"/>
<rect x="335.4" y="602" width="41.1" height="54.6" fill="none" stroke="#1a1a1a" stroke-width="1"/>
<line x1="332.4" y1="609.2" x2="335.4" y2="609.2" stroke="#333" stroke-width="0.7"/>
<text x="331" y="611.1" font-size="5.5" text-anchor="end" fill="#2a2a2a" stroke="#2a2a2a" stroke-width="0.1">4</text>
<line x1="332.4" y1="619.2" x2="335.4" y2="619.2" stroke="#333" stroke-width="0.7"/>
<text x="331" y="621.1" font-size="5.5" text-anchor="end" fill="#2a2a2a" stroke="#2a2a2a" stroke-width="0.1">3</text>
<line x1="332.4" y1="629.6" x2="335.4" y2="629.6" stroke="#333" stroke-width="0.7"/>
<text x="331" y="631.5" font-size="5.5" text-anchor="end" fill="#2a2a2a" stroke="#2a2a2a" stroke-width="0.1">2</text>
<line x1="332.4" y1="639.2" x2="335.4" y2="639.2" stroke="#333" stroke-width="0.7"/>
<text x="331" y="641.1" font-size="5.5" text-anchor="end" fill="#2a2a2a" stroke="#2a2a2a" stroke-width="0.1">1</text>
<line x1="332.4" y1="649.2" x2="335.4" y2="649.2" stroke="#333" stroke-width="0.7"/>
<text x="331" y="651.1" font-size="5.5" text-anchor="end" fill="#2a2a2a" stroke="#2a2a2a" stroke-width="0.1">0</text>
<line x1="340" y1="656.6" x2="340" y2="659.2" stroke="#333" stroke-width="0.7"/>
<text x="342" y="661.8" font-size="5.6" text-anchor="end" fill="#2a2a2a" stroke="#2a2a2a" stroke-width="0.1" transform="rotate(-90 342 661.8)">1</text>
<rect x="336.6" y="669.7" width="6.9" height="8.3" fill="#d3cdd3"/>
<line x1="347.7" y1="656.6" x2="347.7" y2="659.2" stroke="#333" stroke-width="0.7"/>
<text x="349.7" y="661.8" font-size="5.6" text-anchor="end" fill="#2a2a2a" stroke="#2a2a2a" stroke-width="0.1" transform="rotate(-90 349.7 661.8)">2</text>
<rect x="344.3" y="669.7" width="6.9" height="8.3" fill="#d3cdd3"/>
<line x1="355.4" y1="656.6" x2="355.4" y2="659.2" stroke="#333" stroke-width="0.7"/>
<text x="357.4" y="661.8" font-size="5.6" text-anchor="end" fill="#2a2a2a" stroke="#2a2a2a" stroke-width="0.1" transform="rotate(-90 357.4 661.8)">3</text>
<rect x="352" y="669.7" width="6.9" height="8.3" fill="#e2a593"/>
<line x1="363.1" y1="656.6" x2="363.1" y2="659.2" stroke="#333" stroke-width="0.7"/>
<text x="365.1" y="661.8" font-size="5.6" text-anchor="end" fill="#2a2a2a" stroke="#2a2a2a" stroke-width="0.1" transform="rotate(-90 365.1 661.8)">4</text>
<rect x="359.7" y="669.7" width="6.9" height="8.3" fill="#b33c50"/>
<line x1="370.8" y1="656.6" x2="370.8" y2="659.2" stroke="#333" stroke-width="0.7"/>
<text x="372.8" y="661.8" font-size="5.6" text-anchor="end" fill="#2a2a2a" stroke="#2a2a2a" stroke-width="0.1" transform="rotate(-90 372.8 661.8)">5</text>
<rect x="367.4" y="669.7" width="6.9" height="8.3" fill="#d3cdd3"/>
<text x="28.6" y="676.2" font-size="5.2" text-anchor="middle" fill="#222" stroke="#222" stroke-width="0.09" textLength="19" lengthAdjust="spacingAndGlyphs">SNP Call</text>
<text x="28.6" y="682.6" font-size="5.2" text-anchor="middle" fill="#222" stroke="#222" stroke-width="0.09">n=5</text>
<rect x="39.2" y="686.4" width="4.6" height="4.5" fill="#d3cdd3"/>
<text x="47" y="690.6" font-size="5.2" text-anchor="start" fill="#333" stroke="#333" stroke-width="0.09" textLength="7" lengthAdjust="spacingAndGlyphs">2N</text>
<rect x="59.7" y="686.4" width="4.6" height="4.5" fill="#b33c50"/>
<text x="67.5" y="690.6" font-size="5.2" text-anchor="start" fill="#333" stroke="#333" stroke-width="0.09" textLength="31" lengthAdjust="spacingAndGlyphs">Amplification</text>
<rect x="104.6" y="686.4" width="4.6" height="4.5" fill="#46755e"/>
<text x="112.4" y="690.6" font-size="5.2" text-anchor="start" fill="#333" stroke="#333" stroke-width="0.09" textLength="40" lengthAdjust="spacingAndGlyphs">Homozygous Loss</text>
<rect x="161.3" y="686.4" width="4.6" height="4.5" fill="#e2a593"/>
<text x="169.1" y="690.6" font-size="5.2" text-anchor="start" fill="#333" stroke="#333" stroke-width="0.09" textLength="19" lengthAdjust="spacingAndGlyphs">CN Gain</text>
<rect x="193.8" y="686.4" width="4.6" height="4.5" fill="#7db35e"/>
<text x="201.6" y="690.6" font-size="5.2" text-anchor="start" fill="#333" stroke="#333" stroke-width="0.09" textLength="19" lengthAdjust="spacingAndGlyphs">CN Loss</text>
<circle cx="383.6" cy="615.4" r="1.1" fill="#c0304a"/>
<text x="387.3" y="617.5" font-size="6.1" text-anchor="start" fill="#2a2a2a" stroke="#2a2a2a" stroke-width="0.11" textLength="20" lengthAdjust="spacingAndGlyphs">Probe 1</text>
<circle cx="383.6" cy="625.8" r="1.1" fill="#5aaa3c"/>
<text x="387.3" y="627.9" font-size="6.1" text-anchor="start" fill="#2a2a2a" stroke="#2a2a2a" stroke-width="0.11" textLength="20" lengthAdjust="spacingAndGlyphs">Probe 2</text>
<circle cx="383.6" cy="635.4" r="1.1" fill="#3a5aa0"/>
<text x="387.3" y="637.5" font-size="6.1" text-anchor="start" fill="#2a2a2a" stroke="#2a2a2a" stroke-width="0.11" textLength="20" lengthAdjust="spacingAndGlyphs">Probe 3</text>
<rect x="0" y="0" width="520" height="1.35" fill="#4a4a4a"/>
<rect x="0" y="0" width="1.35" height="699" fill="#0a0a0a"/>
<rect x="518.9" y="0" width="1.1" height="699" fill="#111"/>
<rect x="0" y="696.9" width="520" height="2.1" fill="#4a4a4a"/>
</svg>
</body></html>
